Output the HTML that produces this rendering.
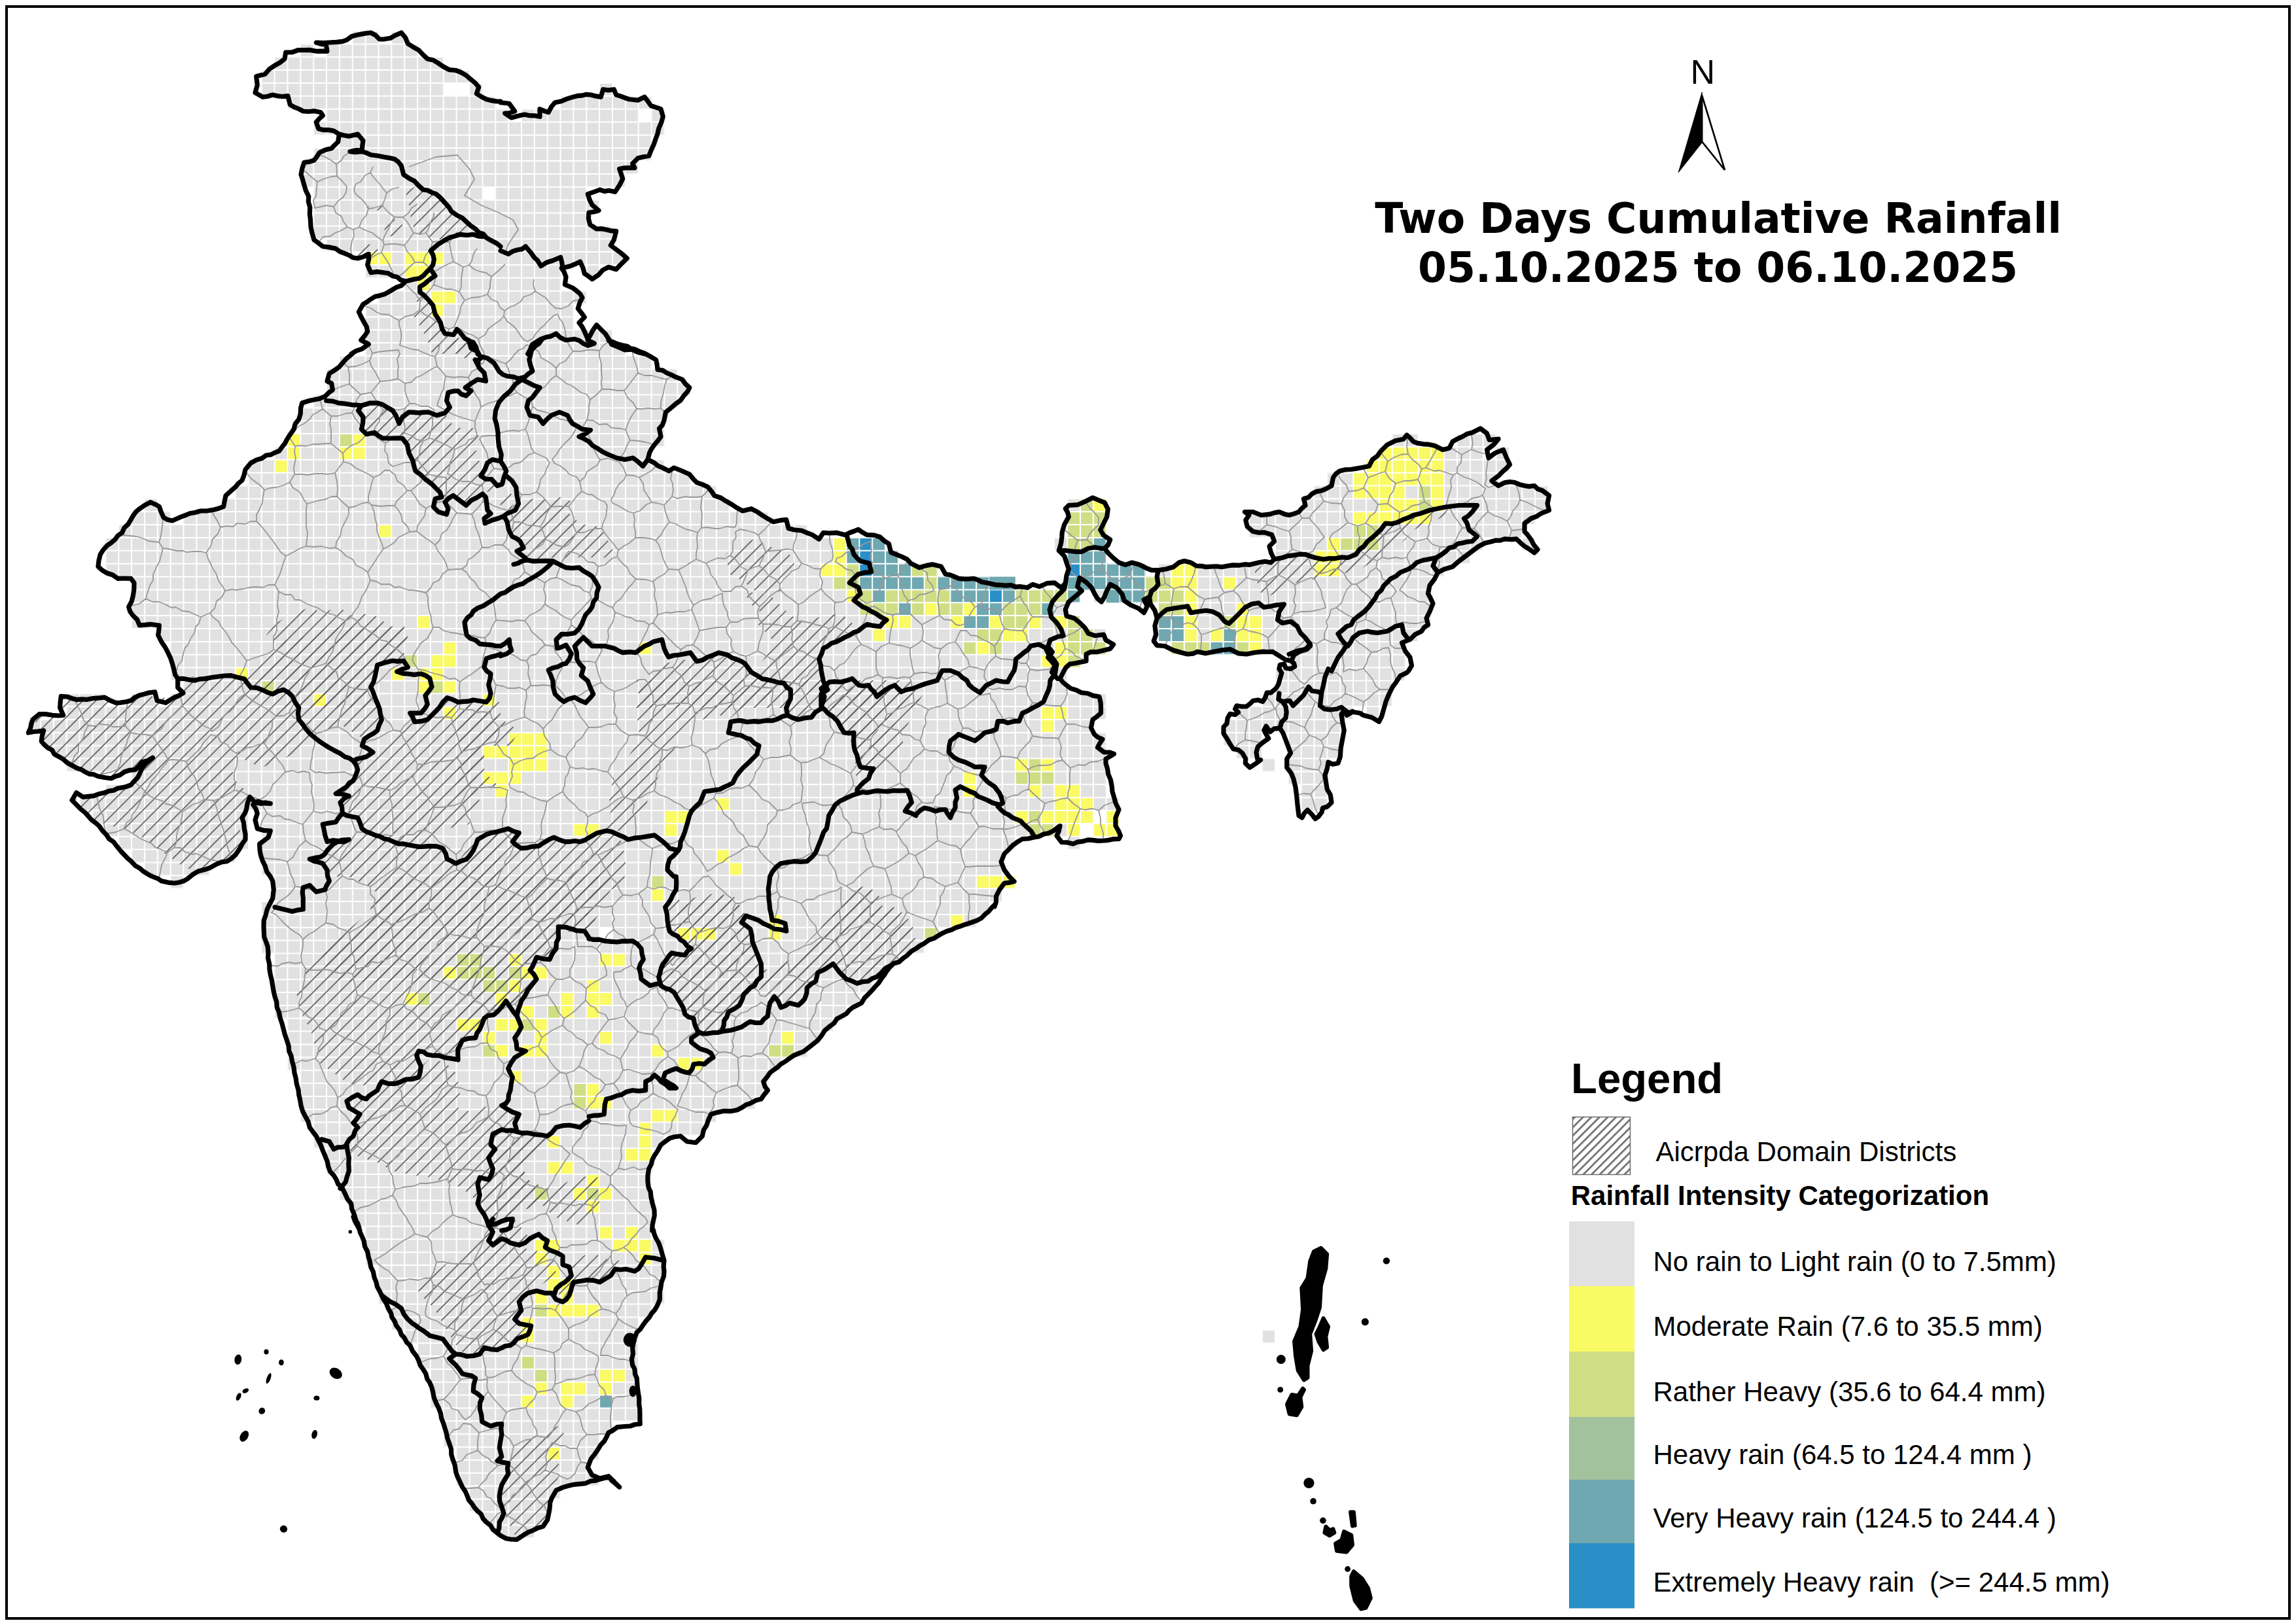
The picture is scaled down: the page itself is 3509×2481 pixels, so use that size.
<!DOCTYPE html>
<html><head><meta charset="utf-8"><title>Two Days Cumulative Rainfall</title>
<style>
html,body{margin:0;padding:0;background:#fff;}
body{width:3509px;height:2481px;overflow:hidden;position:relative;}
svg{position:absolute;left:0;top:0;display:block;}
.t{font-family:"DejaVu Sans","Liberation Sans",sans-serif;font-weight:bold;font-size:63.2px;fill:#000;}
.a{font-family:"Liberation Sans",sans-serif;fill:#000;}
</style></head><body>
<svg width="3509" height="2481" viewBox="0 0 3509 2481">
<rect x="10" y="10" width="3489" height="2464" fill="#fff" stroke="#000" stroke-width="4"/>
<defs>
<pattern id="gr" x="201.100" y="722.700" width="19.862" height="19.858" patternUnits="userSpaceOnUse"><rect x="1" y="1" width="17.862" height="17.858" fill="#e1e1e1"/></pattern>
<pattern id="hm" width="14.1" height="14.1" patternUnits="userSpaceOnUse" patternTransform="rotate(-45)"><rect x="0" y="0" width="14.1" height="1.7" fill="#5e5e5e"/></pattern>
</defs>
<path d="M499.0 67.4 L499.0 87.2 L479.2 87.2 L479.2 67.4 L459.3 67.4 L459.3 87.2 L419.6 87.2 L419.6 107.1 L399.7 107.1 L399.7 127.0 L399.7 146.8 L439.4 146.8 L439.4 166.7 L499.0 166.7 L499.0 186.5 L479.2 186.5 L479.2 206.4 L518.9 206.4 L518.9 226.3 L479.2 226.3 L479.2 246.1 L459.3 246.1 L459.3 266.0 L459.3 285.8 L479.2 285.8 L479.2 305.7 L479.2 325.5 L479.2 345.4 L479.2 365.3 L499.0 365.3 L499.0 385.1 L558.6 385.1 L558.6 405.0 L558.6 424.8 L618.2 424.8 L618.2 444.7 L578.5 444.7 L578.5 464.5 L558.6 464.5 L558.6 484.4 L558.6 504.3 L558.6 524.1 L558.6 544.0 L518.9 544.0 L518.9 563.8 L499.0 563.8 L499.0 583.7 L499.0 603.6 L479.2 603.6 L479.2 623.4 L459.3 623.4 L459.3 643.3 L459.3 663.1 L439.4 663.1 L439.4 683.0 L419.6 683.0 L419.6 702.8 L379.9 702.8 L379.9 722.7 L379.9 742.6 L360.0 742.6 L360.0 762.4 L340.1 762.4 L340.1 782.3 L280.5 782.3 L280.5 802.1 L260.7 802.1 L260.7 782.3 L240.8 782.3 L240.8 762.4 L221.0 762.4 L221.0 782.3 L201.1 782.3 L201.1 802.1 L181.2 802.1 L181.2 822.0 L161.4 822.0 L161.4 841.8 L161.4 861.7 L161.4 881.6 L201.1 881.6 L201.1 901.4 L201.1 921.3 L201.1 941.1 L201.1 961.0 L240.8 961.0 L240.8 980.9 L260.7 980.9 L260.7 1000.7 L260.7 1020.6 L260.7 1040.4 L280.5 1040.4 L280.5 1060.3 L260.7 1060.3 L260.7 1080.1 L240.8 1080.1 L240.8 1060.3 L201.1 1060.3 L201.1 1080.1 L161.4 1080.1 L161.4 1060.3 L101.8 1060.3 L101.8 1080.1 L101.8 1100.0 L42.2 1100.0 L42.2 1119.9 L62.1 1119.9 L62.1 1139.7 L81.9 1139.7 L81.9 1159.6 L101.8 1159.6 L101.8 1179.4 L201.1 1179.4 L201.1 1199.3 L161.4 1199.3 L161.4 1219.2 L121.7 1219.2 L121.7 1239.0 L141.5 1239.0 L141.5 1258.9 L161.4 1258.9 L161.4 1278.7 L181.2 1278.7 L181.2 1298.6 L201.1 1298.6 L201.1 1318.4 L221.0 1318.4 L221.0 1338.3 L260.7 1338.3 L260.7 1358.2 L280.5 1358.2 L280.5 1338.3 L320.3 1338.3 L320.3 1318.4 L360.0 1318.4 L360.0 1298.6 L379.9 1298.6 L379.9 1278.7 L379.9 1258.9 L379.9 1239.0 L399.7 1239.0 L399.7 1258.9 L399.7 1278.7 L399.7 1298.6 L399.7 1318.4 L399.7 1338.3 L419.6 1338.3 L419.6 1358.2 L419.6 1378.0 L399.7 1378.0 L399.7 1397.9 L399.7 1417.7 L399.7 1437.6 L399.7 1457.4 L419.6 1457.4 L419.6 1477.3 L419.6 1497.2 L419.6 1517.0 L419.6 1536.9 L419.6 1556.7 L439.4 1556.7 L439.4 1576.6 L439.4 1596.5 L439.4 1616.3 L439.4 1636.2 L459.3 1636.2 L459.3 1656.0 L459.3 1675.9 L459.3 1695.7 L459.3 1715.6 L479.2 1715.6 L479.2 1735.5 L479.2 1755.3 L499.0 1755.3 L499.0 1775.2 L499.0 1795.0 L518.9 1795.0 L518.9 1814.9 L518.9 1834.7 L538.8 1834.7 L538.8 1854.6 L538.8 1874.5 L558.6 1874.5 L558.6 1894.3 L558.6 1914.2 L558.6 1934.0 L578.5 1934.0 L578.5 1953.9 L578.5 1973.8 L578.5 1993.6 L598.3 1993.6 L598.3 2013.5 L598.3 2033.3 L618.2 2033.3 L618.2 2053.2 L638.1 2053.2 L638.1 2073.0 L638.1 2092.9 L657.9 2092.9 L657.9 2112.8 L657.9 2132.6 L657.9 2152.5 L677.8 2152.5 L677.8 2172.3 L677.8 2192.2 L677.8 2212.1 L697.6 2212.1 L697.6 2231.9 L697.6 2251.8 L697.6 2271.6 L717.5 2271.6 L717.5 2291.5 L717.5 2311.3 L737.4 2311.3 L737.4 2331.2 L757.2 2331.2 L757.2 2351.1 L816.8 2351.1 L816.8 2331.2 L836.7 2331.2 L836.7 2311.3 L836.7 2291.5 L856.5 2291.5 L856.5 2271.6 L916.1 2271.6 L916.1 2251.8 L896.3 2251.8 L896.3 2231.9 L916.1 2231.9 L916.1 2212.1 L916.1 2192.2 L936.0 2192.2 L936.0 2172.3 L975.7 2172.3 L975.7 2152.5 L975.7 2132.6 L975.7 2112.8 L975.7 2092.9 L975.7 2073.0 L975.7 2053.2 L975.7 2033.3 L975.7 2013.5 L995.6 2013.5 L995.6 1993.6 L1015.4 1993.6 L1015.4 1973.8 L1015.4 1953.9 L1015.4 1934.0 L1015.4 1914.2 L1015.4 1894.3 L995.6 1894.3 L995.6 1874.5 L995.6 1854.6 L995.6 1834.7 L995.6 1814.9 L995.6 1795.0 L995.6 1775.2 L995.6 1755.3 L1015.4 1755.3 L1015.4 1735.5 L1075.0 1735.5 L1075.0 1715.6 L1094.9 1715.6 L1094.9 1695.7 L1154.5 1695.7 L1154.5 1675.9 L1174.3 1675.9 L1174.3 1656.0 L1174.3 1636.2 L1194.2 1636.2 L1194.2 1616.3 L1233.9 1616.3 L1233.9 1596.5 L1253.8 1596.5 L1253.8 1576.6 L1273.6 1576.6 L1273.6 1556.7 L1293.5 1556.7 L1293.5 1536.9 L1313.4 1536.9 L1313.4 1517.0 L1333.2 1517.0 L1333.2 1497.2 L1353.1 1497.2 L1353.1 1477.3 L1373.0 1477.3 L1373.0 1457.4 L1412.7 1457.4 L1412.7 1437.6 L1432.5 1437.6 L1432.5 1417.7 L1492.1 1417.7 L1492.1 1397.9 L1512.0 1397.9 L1512.0 1378.0 L1531.9 1378.0 L1531.9 1358.2 L1551.7 1358.2 L1551.7 1338.3 L1531.9 1338.3 L1531.9 1318.4 L1531.9 1298.6 L1551.7 1298.6 L1551.7 1278.7 L1631.2 1278.7 L1631.2 1298.6 L1651.0 1298.6 L1651.0 1278.7 L1651.0 1258.9 L1670.9 1258.9 L1670.9 1278.7 L1710.6 1278.7 L1710.6 1258.9 L1710.6 1239.0 L1710.6 1219.2 L1690.7 1219.2 L1690.7 1199.3 L1690.7 1179.4 L1690.7 1159.6 L1690.7 1139.7 L1690.7 1119.9 L1670.9 1119.9 L1670.9 1100.0 L1690.7 1100.0 L1690.7 1080.1 L1690.7 1060.3 L1631.2 1060.3 L1631.2 1040.4 L1631.2 1020.6 L1651.0 1020.6 L1651.0 1000.7 L1690.7 1000.7 L1690.7 980.9 L1690.7 961.0 L1651.0 961.0 L1651.0 941.1 L1631.2 941.1 L1631.2 921.3 L1651.0 921.3 L1651.0 901.4 L1651.0 881.6 L1670.9 881.6 L1670.9 901.4 L1670.9 921.3 L1690.7 921.3 L1690.7 901.4 L1710.6 901.4 L1710.6 921.3 L1770.2 921.3 L1770.2 941.1 L1770.2 961.0 L1770.2 980.9 L1790.1 980.9 L1790.1 1000.7 L1968.8 1000.7 L1968.8 1020.6 L1949.0 1020.6 L1949.0 1040.4 L1949.0 1060.3 L1929.1 1060.3 L1929.1 1080.1 L1889.4 1080.1 L1889.4 1100.0 L1869.5 1100.0 L1869.5 1119.9 L1869.5 1139.7 L1889.4 1139.7 L1889.4 1159.6 L1929.1 1159.6 L1929.1 1139.7 L1929.1 1119.9 L1968.8 1119.9 L1968.8 1139.7 L1968.8 1159.6 L1968.8 1179.4 L1968.8 1199.3 L1988.7 1199.3 L1988.7 1219.2 L1988.7 1239.0 L2028.4 1239.0 L2028.4 1219.2 L2028.4 1199.3 L2028.4 1179.4 L2028.4 1159.6 L2048.3 1159.6 L2048.3 1139.7 L2048.3 1119.9 L2048.3 1100.0 L2068.1 1100.0 L2068.1 1080.1 L2088.0 1080.1 L2088.0 1100.0 L2107.9 1100.0 L2107.9 1080.1 L2127.7 1080.1 L2127.7 1060.3 L2127.7 1040.4 L2147.6 1040.4 L2147.6 1020.6 L2147.6 1000.7 L2147.6 980.9 L2167.4 980.9 L2167.4 961.0 L2187.3 961.0 L2187.3 941.1 L2187.3 921.3 L2187.3 901.4 L2187.3 881.6 L2207.2 881.6 L2207.2 861.7 L2246.9 861.7 L2246.9 841.8 L2266.7 841.8 L2266.7 822.0 L2326.3 822.0 L2326.3 802.1 L2346.2 802.1 L2346.2 782.3 L2366.1 782.3 L2366.1 762.4 L2366.1 742.6 L2286.6 742.6 L2286.6 722.7 L2306.5 722.7 L2306.5 702.8 L2306.5 683.0 L2286.6 683.0 L2286.6 663.1 L2227.0 663.1 L2227.0 683.0 L2167.4 683.0 L2167.4 663.1 L2127.7 663.1 L2127.7 683.0 L2107.9 683.0 L2107.9 702.8 L2088.0 702.8 L2088.0 722.7 L2028.4 722.7 L2028.4 742.6 L2008.5 742.6 L2008.5 762.4 L1988.7 762.4 L1988.7 782.3 L1909.2 782.3 L1909.2 802.1 L1909.2 822.0 L1949.0 822.0 L1949.0 841.8 L1949.0 861.7 L1770.2 861.7 L1770.2 881.6 L1750.3 881.6 L1750.3 861.7 L1690.7 861.7 L1690.7 841.8 L1690.7 822.0 L1690.7 802.1 L1690.7 782.3 L1690.7 762.4 L1631.2 762.4 L1631.2 782.3 L1631.2 802.1 L1631.2 822.0 L1611.3 822.0 L1611.3 841.8 L1631.2 841.8 L1631.2 861.7 L1631.2 881.6 L1631.2 901.4 L1512.0 901.4 L1512.0 881.6 L1432.5 881.6 L1432.5 861.7 L1373.0 861.7 L1373.0 841.8 L1353.1 841.8 L1353.1 822.0 L1233.9 822.0 L1233.9 802.1 L1174.3 802.1 L1174.3 782.3 L1114.8 782.3 L1114.8 762.4 L1094.9 762.4 L1094.9 742.6 L1055.2 742.6 L1055.2 722.7 L1015.4 722.7 L1015.4 702.8 L995.6 702.8 L995.6 683.0 L1015.4 683.0 L1015.4 663.1 L1015.4 643.3 L1015.4 623.4 L1035.3 623.4 L1035.3 603.6 L1055.2 603.6 L1055.2 583.7 L1035.3 583.7 L1035.3 563.8 L995.6 563.8 L995.6 544.0 L955.9 544.0 L955.9 524.1 L936.0 524.1 L936.0 504.3 L876.4 504.3 L876.4 484.4 L876.4 464.5 L896.3 464.5 L896.3 444.7 L856.5 444.7 L856.5 424.8 L856.5 405.0 L896.3 405.0 L896.3 424.8 L916.1 424.8 L916.1 405.0 L955.9 405.0 L955.9 385.1 L936.0 385.1 L936.0 365.3 L936.0 345.4 L896.3 345.4 L896.3 325.5 L916.1 325.5 L916.1 305.7 L896.3 305.7 L896.3 285.8 L955.9 285.8 L955.9 266.0 L975.7 266.0 L975.7 246.1 L995.6 246.1 L995.6 226.3 L995.6 206.4 L1015.4 206.4 L1015.4 186.5 L1015.4 166.7 L995.6 166.7 L995.6 146.8 L936.0 146.8 L936.0 127.0 L916.1 127.0 L916.1 146.8 L856.5 146.8 L856.5 166.7 L797.0 166.7 L797.0 186.5 L777.1 186.5 L777.1 166.7 L757.2 166.7 L757.2 146.8 L737.4 146.8 L737.4 127.0 L717.5 127.0 L717.5 107.1 L677.8 107.1 L677.8 87.2 L638.1 87.2 L638.1 67.4 L618.2 67.4 L618.2 47.5 L598.3 47.5 L598.3 67.4 L578.5 67.4 L578.5 47.5 L538.8 47.5 L538.8 67.4ZM1670.9 1239.0 L1690.7 1239.0 L1690.7 1258.9 L1670.9 1258.9ZM2286.6 702.8 L2266.7 702.8 L2266.7 683.0 L2286.6 683.0ZM995.6 186.5 L975.7 186.5 L975.7 166.7 L995.6 166.7ZM717.5 146.8 L677.8 146.8 L677.8 127.0 L717.5 127.0ZM737.4 285.8 L757.2 285.8 L757.2 305.7 L737.4 305.7ZM916.1 1437.6 L916.1 1417.7 L936.0 1417.7 L936.0 1437.6ZM2346.2 841.8 L2346.2 822.0 L2326.3 822.0 L2326.3 841.8ZM1949.0 1179.4 L1949.0 1159.6 L1929.1 1159.6 L1929.1 1179.4ZM1949.0 2033.3 L1929.1 2033.3 L1929.1 2053.2 L1949.0 2053.2Z" fill="#e1e1e1" fill-rule="evenodd"/>
<rect x="360.0" y="1020.6" width="19.9" height="19.9" fill="#fafa64"/>
<rect x="399.7" y="1040.4" width="19.9" height="19.9" fill="#cfde85"/>
<rect x="419.6" y="702.8" width="19.9" height="19.9" fill="#fafa64"/>
<rect x="439.4" y="663.1" width="19.9" height="19.9" fill="#fafa64"/>
<rect x="439.4" y="683.0" width="19.9" height="19.9" fill="#fafa64"/>
<rect x="479.2" y="1060.3" width="19.9" height="19.9" fill="#fafa64"/>
<rect x="518.9" y="663.1" width="19.9" height="19.9" fill="#cfde85"/>
<rect x="518.9" y="683.0" width="19.9" height="19.9" fill="#fafa64"/>
<rect x="538.8" y="663.1" width="19.9" height="19.9" fill="#fafa64"/>
<rect x="538.8" y="683.0" width="19.9" height="19.9" fill="#fafa64"/>
<rect x="558.6" y="385.1" width="19.9" height="19.9" fill="#fafa64"/>
<rect x="578.5" y="385.1" width="19.9" height="19.9" fill="#fafa64"/>
<rect x="578.5" y="802.1" width="19.9" height="19.9" fill="#fafa64"/>
<rect x="598.3" y="1020.6" width="19.9" height="19.9" fill="#fafa64"/>
<rect x="618.2" y="385.1" width="19.9" height="19.9" fill="#fafa64"/>
<rect x="618.2" y="405.0" width="19.9" height="19.9" fill="#fafa64"/>
<rect x="618.2" y="1000.7" width="19.9" height="19.9" fill="#cfde85"/>
<rect x="618.2" y="1517.0" width="19.9" height="19.9" fill="#fafa64"/>
<rect x="638.1" y="385.1" width="19.9" height="19.9" fill="#fafa64"/>
<rect x="638.1" y="405.0" width="19.9" height="19.9" fill="#fafa64"/>
<rect x="638.1" y="424.8" width="19.9" height="19.9" fill="#fafa64"/>
<rect x="638.1" y="941.1" width="19.9" height="19.9" fill="#fafa64"/>
<rect x="638.1" y="1020.6" width="19.9" height="19.9" fill="#fafa64"/>
<rect x="638.1" y="1040.4" width="19.9" height="19.9" fill="#fafa64"/>
<rect x="638.1" y="1517.0" width="19.9" height="19.9" fill="#cfde85"/>
<rect x="657.9" y="385.1" width="19.9" height="19.9" fill="#fafa64"/>
<rect x="657.9" y="444.7" width="19.9" height="19.9" fill="#fafa64"/>
<rect x="657.9" y="464.5" width="19.9" height="19.9" fill="#fafa64"/>
<rect x="657.9" y="1000.7" width="19.9" height="19.9" fill="#fafa64"/>
<rect x="657.9" y="1020.6" width="19.9" height="19.9" fill="#fafa64"/>
<rect x="657.9" y="1040.4" width="19.9" height="19.9" fill="#cfde85"/>
<rect x="677.8" y="444.7" width="19.9" height="19.9" fill="#fafa64"/>
<rect x="677.8" y="980.9" width="19.9" height="19.9" fill="#fafa64"/>
<rect x="677.8" y="1000.7" width="19.9" height="19.9" fill="#fafa64"/>
<rect x="677.8" y="1040.4" width="19.9" height="19.9" fill="#fafa64"/>
<rect x="677.8" y="1080.1" width="19.9" height="19.9" fill="#fafa64"/>
<rect x="677.8" y="1477.3" width="19.9" height="19.9" fill="#fafa64"/>
<rect x="697.6" y="1457.4" width="19.9" height="19.9" fill="#cfde85"/>
<rect x="697.6" y="1477.3" width="19.9" height="19.9" fill="#cfde85"/>
<rect x="697.6" y="1556.7" width="19.9" height="19.9" fill="#fafa64"/>
<rect x="717.5" y="1457.4" width="19.9" height="19.9" fill="#cfde85"/>
<rect x="717.5" y="1477.3" width="19.9" height="19.9" fill="#cfde85"/>
<rect x="717.5" y="1556.7" width="19.9" height="19.9" fill="#fafa64"/>
<rect x="737.4" y="1060.3" width="19.9" height="19.9" fill="#fafa64"/>
<rect x="737.4" y="1139.7" width="19.9" height="19.9" fill="#fafa64"/>
<rect x="737.4" y="1179.4" width="19.9" height="19.9" fill="#fafa64"/>
<rect x="737.4" y="1477.3" width="19.9" height="19.9" fill="#cfde85"/>
<rect x="737.4" y="1497.2" width="19.9" height="19.9" fill="#cfde85"/>
<rect x="737.4" y="1576.6" width="19.9" height="19.9" fill="#fafa64"/>
<rect x="737.4" y="1596.5" width="19.9" height="19.9" fill="#cfde85"/>
<rect x="757.2" y="1139.7" width="19.9" height="19.9" fill="#fafa64"/>
<rect x="757.2" y="1179.4" width="19.9" height="19.9" fill="#fafa64"/>
<rect x="757.2" y="1199.3" width="19.9" height="19.9" fill="#fafa64"/>
<rect x="757.2" y="1497.2" width="19.9" height="19.9" fill="#cfde85"/>
<rect x="757.2" y="1517.0" width="19.9" height="19.9" fill="#fafa64"/>
<rect x="757.2" y="1556.7" width="19.9" height="19.9" fill="#fafa64"/>
<rect x="757.2" y="1596.5" width="19.9" height="19.9" fill="#fafa64"/>
<rect x="777.1" y="1119.9" width="19.9" height="19.9" fill="#fafa64"/>
<rect x="777.1" y="1139.7" width="19.9" height="19.9" fill="#fafa64"/>
<rect x="777.1" y="1159.6" width="19.9" height="19.9" fill="#fafa64"/>
<rect x="777.1" y="1179.4" width="19.9" height="19.9" fill="#fafa64"/>
<rect x="777.1" y="1457.4" width="19.9" height="19.9" fill="#fafa64"/>
<rect x="777.1" y="1477.3" width="19.9" height="19.9" fill="#cfde85"/>
<rect x="777.1" y="1497.2" width="19.9" height="19.9" fill="#fafa64"/>
<rect x="777.1" y="1556.7" width="19.9" height="19.9" fill="#fafa64"/>
<rect x="777.1" y="1636.2" width="19.9" height="19.9" fill="#fafa64"/>
<rect x="797.0" y="1119.9" width="19.9" height="19.9" fill="#fafa64"/>
<rect x="797.0" y="1139.7" width="19.9" height="19.9" fill="#fafa64"/>
<rect x="797.0" y="1159.6" width="19.9" height="19.9" fill="#fafa64"/>
<rect x="797.0" y="1477.3" width="19.9" height="19.9" fill="#fafa64"/>
<rect x="797.0" y="1536.9" width="19.9" height="19.9" fill="#fafa64"/>
<rect x="797.0" y="1556.7" width="19.9" height="19.9" fill="#cfde85"/>
<rect x="797.0" y="1596.5" width="19.9" height="19.9" fill="#fafa64"/>
<rect x="797.0" y="2013.5" width="19.9" height="19.9" fill="#fafa64"/>
<rect x="797.0" y="2033.3" width="19.9" height="19.9" fill="#fafa64"/>
<rect x="797.0" y="2073.0" width="19.9" height="19.9" fill="#cfde85"/>
<rect x="797.0" y="2132.6" width="19.9" height="19.9" fill="#fafa64"/>
<rect x="816.8" y="1119.9" width="19.9" height="19.9" fill="#fafa64"/>
<rect x="816.8" y="1139.7" width="19.9" height="19.9" fill="#fafa64"/>
<rect x="816.8" y="1159.6" width="19.9" height="19.9" fill="#fafa64"/>
<rect x="816.8" y="1477.3" width="19.9" height="19.9" fill="#fafa64"/>
<rect x="816.8" y="1556.7" width="19.9" height="19.9" fill="#fafa64"/>
<rect x="816.8" y="1576.6" width="19.9" height="19.9" fill="#fafa64"/>
<rect x="816.8" y="1596.5" width="19.9" height="19.9" fill="#fafa64"/>
<rect x="816.8" y="1814.9" width="19.9" height="19.9" fill="#cfde85"/>
<rect x="816.8" y="1894.3" width="19.9" height="19.9" fill="#fafa64"/>
<rect x="816.8" y="1914.2" width="19.9" height="19.9" fill="#fafa64"/>
<rect x="816.8" y="1973.8" width="19.9" height="19.9" fill="#fafa64"/>
<rect x="816.8" y="1993.6" width="19.9" height="19.9" fill="#cfde85"/>
<rect x="816.8" y="2092.9" width="19.9" height="19.9" fill="#cfde85"/>
<rect x="816.8" y="2112.8" width="19.9" height="19.9" fill="#fafa64"/>
<rect x="836.7" y="1536.9" width="19.9" height="19.9" fill="#cfde85"/>
<rect x="836.7" y="1735.5" width="19.9" height="19.9" fill="#fafa64"/>
<rect x="836.7" y="1775.2" width="19.9" height="19.9" fill="#fafa64"/>
<rect x="836.7" y="1894.3" width="19.9" height="19.9" fill="#fafa64"/>
<rect x="836.7" y="1934.0" width="19.9" height="19.9" fill="#fafa64"/>
<rect x="836.7" y="1953.9" width="19.9" height="19.9" fill="#fafa64"/>
<rect x="836.7" y="1993.6" width="19.9" height="19.9" fill="#fafa64"/>
<rect x="836.7" y="2212.1" width="19.9" height="19.9" fill="#fafa64"/>
<rect x="856.5" y="1517.0" width="19.9" height="19.9" fill="#fafa64"/>
<rect x="856.5" y="1536.9" width="19.9" height="19.9" fill="#fafa64"/>
<rect x="856.5" y="1775.2" width="19.9" height="19.9" fill="#fafa64"/>
<rect x="856.5" y="1953.9" width="19.9" height="19.9" fill="#fafa64"/>
<rect x="856.5" y="1973.8" width="19.9" height="19.9" fill="#fafa64"/>
<rect x="856.5" y="1993.6" width="19.9" height="19.9" fill="#fafa64"/>
<rect x="856.5" y="2112.8" width="19.9" height="19.9" fill="#fafa64"/>
<rect x="856.5" y="2132.6" width="19.9" height="19.9" fill="#fafa64"/>
<rect x="876.4" y="1258.9" width="19.9" height="19.9" fill="#fafa64"/>
<rect x="876.4" y="1656.0" width="19.9" height="19.9" fill="#cfde85"/>
<rect x="876.4" y="1675.9" width="19.9" height="19.9" fill="#cfde85"/>
<rect x="876.4" y="1814.9" width="19.9" height="19.9" fill="#fafa64"/>
<rect x="876.4" y="1993.6" width="19.9" height="19.9" fill="#fafa64"/>
<rect x="876.4" y="2112.8" width="19.9" height="19.9" fill="#fafa64"/>
<rect x="896.3" y="1258.9" width="19.9" height="19.9" fill="#fafa64"/>
<rect x="896.3" y="1497.2" width="19.9" height="19.9" fill="#fafa64"/>
<rect x="896.3" y="1517.0" width="19.9" height="19.9" fill="#fafa64"/>
<rect x="896.3" y="1536.9" width="19.9" height="19.9" fill="#fafa64"/>
<rect x="896.3" y="1656.0" width="19.9" height="19.9" fill="#fafa64"/>
<rect x="896.3" y="1675.9" width="19.9" height="19.9" fill="#fafa64"/>
<rect x="896.3" y="1795.0" width="19.9" height="19.9" fill="#fafa64"/>
<rect x="896.3" y="1814.9" width="19.9" height="19.9" fill="#cfde85"/>
<rect x="896.3" y="1834.7" width="19.9" height="19.9" fill="#fafa64"/>
<rect x="896.3" y="1993.6" width="19.9" height="19.9" fill="#fafa64"/>
<rect x="916.1" y="1457.4" width="19.9" height="19.9" fill="#fafa64"/>
<rect x="916.1" y="1517.0" width="19.9" height="19.9" fill="#fafa64"/>
<rect x="916.1" y="1576.6" width="19.9" height="19.9" fill="#fafa64"/>
<rect x="916.1" y="1675.9" width="19.9" height="19.9" fill="#fafa64"/>
<rect x="916.1" y="1814.9" width="19.9" height="19.9" fill="#fafa64"/>
<rect x="916.1" y="1874.5" width="19.9" height="19.9" fill="#fafa64"/>
<rect x="916.1" y="2092.9" width="19.9" height="19.9" fill="#fafa64"/>
<rect x="916.1" y="2112.8" width="19.9" height="19.9" fill="#fafa64"/>
<rect x="916.1" y="2132.6" width="19.9" height="19.9" fill="#6fa8b0"/>
<rect x="936.0" y="1457.4" width="19.9" height="19.9" fill="#fafa64"/>
<rect x="936.0" y="1894.3" width="19.9" height="19.9" fill="#fafa64"/>
<rect x="936.0" y="2092.9" width="19.9" height="19.9" fill="#fafa64"/>
<rect x="955.9" y="1755.3" width="19.9" height="19.9" fill="#fafa64"/>
<rect x="955.9" y="1874.5" width="19.9" height="19.9" fill="#fafa64"/>
<rect x="955.9" y="1894.3" width="19.9" height="19.9" fill="#fafa64"/>
<rect x="975.7" y="980.9" width="19.9" height="19.9" fill="#fafa64"/>
<rect x="975.7" y="1715.6" width="19.9" height="19.9" fill="#fafa64"/>
<rect x="975.7" y="1735.5" width="19.9" height="19.9" fill="#fafa64"/>
<rect x="975.7" y="1755.3" width="19.9" height="19.9" fill="#fafa64"/>
<rect x="975.7" y="1894.3" width="19.9" height="19.9" fill="#fafa64"/>
<rect x="975.7" y="1914.2" width="19.9" height="19.9" fill="#fafa64"/>
<rect x="995.6" y="1338.3" width="19.9" height="19.9" fill="#cfde85"/>
<rect x="995.6" y="1358.2" width="19.9" height="19.9" fill="#fafa64"/>
<rect x="995.6" y="1596.5" width="19.9" height="19.9" fill="#fafa64"/>
<rect x="995.6" y="1695.7" width="19.9" height="19.9" fill="#fafa64"/>
<rect x="1015.4" y="1239.0" width="19.9" height="19.9" fill="#fafa64"/>
<rect x="1015.4" y="1258.9" width="19.9" height="19.9" fill="#fafa64"/>
<rect x="1015.4" y="1695.7" width="19.9" height="19.9" fill="#fafa64"/>
<rect x="1035.3" y="1239.0" width="19.9" height="19.9" fill="#fafa64"/>
<rect x="1035.3" y="1417.7" width="19.9" height="19.9" fill="#fafa64"/>
<rect x="1035.3" y="1616.3" width="19.9" height="19.9" fill="#fafa64"/>
<rect x="1055.2" y="1417.7" width="19.9" height="19.9" fill="#fafa64"/>
<rect x="1055.2" y="1616.3" width="19.9" height="19.9" fill="#fafa64"/>
<rect x="1075.0" y="1417.7" width="19.9" height="19.9" fill="#fafa64"/>
<rect x="1094.9" y="1219.2" width="19.9" height="19.9" fill="#fafa64"/>
<rect x="1094.9" y="1298.6" width="19.9" height="19.9" fill="#fafa64"/>
<rect x="1114.8" y="1318.4" width="19.9" height="19.9" fill="#fafa64"/>
<rect x="1174.3" y="1397.9" width="19.9" height="19.9" fill="#fafa64"/>
<rect x="1174.3" y="1417.7" width="19.9" height="19.9" fill="#fafa64"/>
<rect x="1174.3" y="1596.5" width="19.9" height="19.9" fill="#cfde85"/>
<rect x="1194.2" y="1576.6" width="19.9" height="19.9" fill="#fafa64"/>
<rect x="1194.2" y="1596.5" width="19.9" height="19.9" fill="#cfde85"/>
<rect x="1253.8" y="861.7" width="19.9" height="19.9" fill="#fafa64"/>
<rect x="1273.6" y="822.0" width="19.9" height="19.9" fill="#fafa64"/>
<rect x="1273.6" y="841.8" width="19.9" height="19.9" fill="#fafa64"/>
<rect x="1273.6" y="861.7" width="19.9" height="19.9" fill="#fafa64"/>
<rect x="1273.6" y="881.6" width="19.9" height="19.9" fill="#cfde85"/>
<rect x="1293.5" y="822.0" width="19.9" height="19.9" fill="#6fa8b0"/>
<rect x="1293.5" y="841.8" width="19.9" height="19.9" fill="#6fa8b0"/>
<rect x="1293.5" y="861.7" width="19.9" height="19.9" fill="#cfde85"/>
<rect x="1293.5" y="881.6" width="19.9" height="19.9" fill="#cfde85"/>
<rect x="1293.5" y="901.4" width="19.9" height="19.9" fill="#fafa64"/>
<rect x="1313.4" y="822.0" width="19.9" height="19.9" fill="#2a8fc7"/>
<rect x="1313.4" y="841.8" width="19.9" height="19.9" fill="#2a8fc7"/>
<rect x="1313.4" y="861.7" width="19.9" height="19.9" fill="#2a8fc7"/>
<rect x="1313.4" y="881.6" width="19.9" height="19.9" fill="#6fa8b0"/>
<rect x="1313.4" y="901.4" width="19.9" height="19.9" fill="#cfde85"/>
<rect x="1313.4" y="921.3" width="19.9" height="19.9" fill="#cfde85"/>
<rect x="1333.2" y="822.0" width="19.9" height="19.9" fill="#6fa8b0"/>
<rect x="1333.2" y="841.8" width="19.9" height="19.9" fill="#6fa8b0"/>
<rect x="1333.2" y="861.7" width="19.9" height="19.9" fill="#6fa8b0"/>
<rect x="1333.2" y="881.6" width="19.9" height="19.9" fill="#6fa8b0"/>
<rect x="1333.2" y="901.4" width="19.9" height="19.9" fill="#6fa8b0"/>
<rect x="1333.2" y="921.3" width="19.9" height="19.9" fill="#cfde85"/>
<rect x="1333.2" y="961.0" width="19.9" height="19.9" fill="#fafa64"/>
<rect x="1353.1" y="841.8" width="19.9" height="19.9" fill="#6fa8b0"/>
<rect x="1353.1" y="861.7" width="19.9" height="19.9" fill="#6fa8b0"/>
<rect x="1353.1" y="881.6" width="19.9" height="19.9" fill="#6fa8b0"/>
<rect x="1353.1" y="901.4" width="19.9" height="19.9" fill="#cfde85"/>
<rect x="1353.1" y="921.3" width="19.9" height="19.9" fill="#cfde85"/>
<rect x="1353.1" y="941.1" width="19.9" height="19.9" fill="#fafa64"/>
<rect x="1373.0" y="861.7" width="19.9" height="19.9" fill="#6fa8b0"/>
<rect x="1373.0" y="881.6" width="19.9" height="19.9" fill="#6fa8b0"/>
<rect x="1373.0" y="901.4" width="19.9" height="19.9" fill="#cfde85"/>
<rect x="1373.0" y="921.3" width="19.9" height="19.9" fill="#6fa8b0"/>
<rect x="1373.0" y="941.1" width="19.9" height="19.9" fill="#fafa64"/>
<rect x="1392.8" y="861.7" width="19.9" height="19.9" fill="#cfde85"/>
<rect x="1392.8" y="881.6" width="19.9" height="19.9" fill="#6fa8b0"/>
<rect x="1392.8" y="901.4" width="19.9" height="19.9" fill="#cfde85"/>
<rect x="1392.8" y="921.3" width="19.9" height="19.9" fill="#cfde85"/>
<rect x="1412.7" y="861.7" width="19.9" height="19.9" fill="#cfde85"/>
<rect x="1412.7" y="881.6" width="19.9" height="19.9" fill="#cfde85"/>
<rect x="1412.7" y="901.4" width="19.9" height="19.9" fill="#cfde85"/>
<rect x="1412.7" y="921.3" width="19.9" height="19.9" fill="#fafa64"/>
<rect x="1412.7" y="1417.7" width="19.9" height="19.9" fill="#cfde85"/>
<rect x="1432.5" y="881.6" width="19.9" height="19.9" fill="#6fa8b0"/>
<rect x="1432.5" y="901.4" width="19.9" height="19.9" fill="#cfde85"/>
<rect x="1432.5" y="921.3" width="19.9" height="19.9" fill="#cfde85"/>
<rect x="1452.4" y="881.6" width="19.9" height="19.9" fill="#6fa8b0"/>
<rect x="1452.4" y="901.4" width="19.9" height="19.9" fill="#6fa8b0"/>
<rect x="1452.4" y="921.3" width="19.9" height="19.9" fill="#cfde85"/>
<rect x="1452.4" y="941.1" width="19.9" height="19.9" fill="#fafa64"/>
<rect x="1452.4" y="1397.9" width="19.9" height="19.9" fill="#fafa64"/>
<rect x="1472.3" y="881.6" width="19.9" height="19.9" fill="#6fa8b0"/>
<rect x="1472.3" y="901.4" width="19.9" height="19.9" fill="#6fa8b0"/>
<rect x="1472.3" y="921.3" width="19.9" height="19.9" fill="#fafa64"/>
<rect x="1472.3" y="941.1" width="19.9" height="19.9" fill="#6fa8b0"/>
<rect x="1472.3" y="980.9" width="19.9" height="19.9" fill="#cfde85"/>
<rect x="1472.3" y="1179.4" width="19.9" height="19.9" fill="#fafa64"/>
<rect x="1472.3" y="1199.3" width="19.9" height="19.9" fill="#fafa64"/>
<rect x="1492.1" y="881.6" width="19.9" height="19.9" fill="#6fa8b0"/>
<rect x="1492.1" y="901.4" width="19.9" height="19.9" fill="#6fa8b0"/>
<rect x="1492.1" y="921.3" width="19.9" height="19.9" fill="#6fa8b0"/>
<rect x="1492.1" y="941.1" width="19.9" height="19.9" fill="#6fa8b0"/>
<rect x="1492.1" y="961.0" width="19.9" height="19.9" fill="#cfde85"/>
<rect x="1492.1" y="980.9" width="19.9" height="19.9" fill="#fafa64"/>
<rect x="1492.1" y="1338.3" width="19.9" height="19.9" fill="#fafa64"/>
<rect x="1512.0" y="881.6" width="19.9" height="19.9" fill="#6fa8b0"/>
<rect x="1512.0" y="901.4" width="19.9" height="19.9" fill="#2a8fc7"/>
<rect x="1512.0" y="921.3" width="19.9" height="19.9" fill="#6fa8b0"/>
<rect x="1512.0" y="941.1" width="19.9" height="19.9" fill="#fafa64"/>
<rect x="1512.0" y="961.0" width="19.9" height="19.9" fill="#cfde85"/>
<rect x="1512.0" y="980.9" width="19.9" height="19.9" fill="#cfde85"/>
<rect x="1512.0" y="1338.3" width="19.9" height="19.9" fill="#fafa64"/>
<rect x="1531.9" y="881.6" width="19.9" height="19.9" fill="#6fa8b0"/>
<rect x="1531.9" y="901.4" width="19.9" height="19.9" fill="#6fa8b0"/>
<rect x="1531.9" y="921.3" width="19.9" height="19.9" fill="#cfde85"/>
<rect x="1531.9" y="941.1" width="19.9" height="19.9" fill="#cfde85"/>
<rect x="1531.9" y="961.0" width="19.9" height="19.9" fill="#fafa64"/>
<rect x="1531.9" y="1338.3" width="19.9" height="19.9" fill="#fafa64"/>
<rect x="1551.7" y="901.4" width="19.9" height="19.9" fill="#cfde85"/>
<rect x="1551.7" y="921.3" width="19.9" height="19.9" fill="#cfde85"/>
<rect x="1551.7" y="941.1" width="19.9" height="19.9" fill="#cfde85"/>
<rect x="1551.7" y="961.0" width="19.9" height="19.9" fill="#fafa64"/>
<rect x="1551.7" y="1159.6" width="19.9" height="19.9" fill="#fafa64"/>
<rect x="1551.7" y="1179.4" width="19.9" height="19.9" fill="#cfde85"/>
<rect x="1551.7" y="1239.0" width="19.9" height="19.9" fill="#fafa64"/>
<rect x="1571.6" y="901.4" width="19.9" height="19.9" fill="#cfde85"/>
<rect x="1571.6" y="921.3" width="19.9" height="19.9" fill="#cfde85"/>
<rect x="1571.6" y="941.1" width="19.9" height="19.9" fill="#fafa64"/>
<rect x="1571.6" y="1159.6" width="19.9" height="19.9" fill="#cfde85"/>
<rect x="1571.6" y="1179.4" width="19.9" height="19.9" fill="#cfde85"/>
<rect x="1571.6" y="1199.3" width="19.9" height="19.9" fill="#fafa64"/>
<rect x="1571.6" y="1239.0" width="19.9" height="19.9" fill="#cfde85"/>
<rect x="1571.6" y="1258.9" width="19.9" height="19.9" fill="#cfde85"/>
<rect x="1591.4" y="901.4" width="19.9" height="19.9" fill="#cfde85"/>
<rect x="1591.4" y="921.3" width="19.9" height="19.9" fill="#6fa8b0"/>
<rect x="1591.4" y="1000.7" width="19.9" height="19.9" fill="#fafa64"/>
<rect x="1591.4" y="1080.1" width="19.9" height="19.9" fill="#fafa64"/>
<rect x="1591.4" y="1100.0" width="19.9" height="19.9" fill="#fafa64"/>
<rect x="1591.4" y="1159.6" width="19.9" height="19.9" fill="#fafa64"/>
<rect x="1591.4" y="1179.4" width="19.9" height="19.9" fill="#cfde85"/>
<rect x="1591.4" y="1239.0" width="19.9" height="19.9" fill="#fafa64"/>
<rect x="1591.4" y="1258.9" width="19.9" height="19.9" fill="#cfde85"/>
<rect x="1611.3" y="901.4" width="19.9" height="19.9" fill="#cfde85"/>
<rect x="1611.3" y="941.1" width="19.9" height="19.9" fill="#fafa64"/>
<rect x="1611.3" y="980.9" width="19.9" height="19.9" fill="#fafa64"/>
<rect x="1611.3" y="1000.7" width="19.9" height="19.9" fill="#fafa64"/>
<rect x="1611.3" y="1080.1" width="19.9" height="19.9" fill="#fafa64"/>
<rect x="1611.3" y="1199.3" width="19.9" height="19.9" fill="#fafa64"/>
<rect x="1611.3" y="1219.2" width="19.9" height="19.9" fill="#fafa64"/>
<rect x="1611.3" y="1239.0" width="19.9" height="19.9" fill="#fafa64"/>
<rect x="1631.2" y="782.3" width="19.9" height="19.9" fill="#cfde85"/>
<rect x="1631.2" y="802.1" width="19.9" height="19.9" fill="#cfde85"/>
<rect x="1631.2" y="822.0" width="19.9" height="19.9" fill="#cfde85"/>
<rect x="1631.2" y="841.8" width="19.9" height="19.9" fill="#6fa8b0"/>
<rect x="1631.2" y="861.7" width="19.9" height="19.9" fill="#2a8fc7"/>
<rect x="1631.2" y="881.6" width="19.9" height="19.9" fill="#6fa8b0"/>
<rect x="1631.2" y="901.4" width="19.9" height="19.9" fill="#6fa8b0"/>
<rect x="1631.2" y="941.1" width="19.9" height="19.9" fill="#cfde85"/>
<rect x="1631.2" y="961.0" width="19.9" height="19.9" fill="#cfde85"/>
<rect x="1631.2" y="980.9" width="19.9" height="19.9" fill="#cfde85"/>
<rect x="1631.2" y="1000.7" width="19.9" height="19.9" fill="#cfde85"/>
<rect x="1631.2" y="1199.3" width="19.9" height="19.9" fill="#fafa64"/>
<rect x="1631.2" y="1219.2" width="19.9" height="19.9" fill="#fafa64"/>
<rect x="1631.2" y="1239.0" width="19.9" height="19.9" fill="#fafa64"/>
<rect x="1631.2" y="1258.9" width="19.9" height="19.9" fill="#fafa64"/>
<rect x="1651.0" y="762.4" width="19.9" height="19.9" fill="#cfde85"/>
<rect x="1651.0" y="782.3" width="19.9" height="19.9" fill="#cfde85"/>
<rect x="1651.0" y="802.1" width="19.9" height="19.9" fill="#cfde85"/>
<rect x="1651.0" y="822.0" width="19.9" height="19.9" fill="#cfde85"/>
<rect x="1651.0" y="841.8" width="19.9" height="19.9" fill="#6fa8b0"/>
<rect x="1651.0" y="861.7" width="19.9" height="19.9" fill="#6fa8b0"/>
<rect x="1651.0" y="881.6" width="19.9" height="19.9" fill="#6fa8b0"/>
<rect x="1651.0" y="961.0" width="19.9" height="19.9" fill="#cfde85"/>
<rect x="1651.0" y="980.9" width="19.9" height="19.9" fill="#cfde85"/>
<rect x="1651.0" y="1219.2" width="19.9" height="19.9" fill="#fafa64"/>
<rect x="1651.0" y="1239.0" width="19.9" height="19.9" fill="#fafa64"/>
<rect x="1670.9" y="762.4" width="19.9" height="19.9" fill="#fafa64"/>
<rect x="1670.9" y="782.3" width="19.9" height="19.9" fill="#cfde85"/>
<rect x="1670.9" y="802.1" width="19.9" height="19.9" fill="#cfde85"/>
<rect x="1670.9" y="822.0" width="19.9" height="19.9" fill="#6fa8b0"/>
<rect x="1670.9" y="841.8" width="19.9" height="19.9" fill="#6fa8b0"/>
<rect x="1670.9" y="861.7" width="19.9" height="19.9" fill="#6fa8b0"/>
<rect x="1670.9" y="881.6" width="19.9" height="19.9" fill="#6fa8b0"/>
<rect x="1670.9" y="980.9" width="19.9" height="19.9" fill="#cfde85"/>
<rect x="1670.9" y="1258.9" width="19.9" height="19.9" fill="#fafa64"/>
<rect x="1690.7" y="861.7" width="19.9" height="19.9" fill="#6fa8b0"/>
<rect x="1690.7" y="881.6" width="19.9" height="19.9" fill="#6fa8b0"/>
<rect x="1690.7" y="901.4" width="19.9" height="19.9" fill="#6fa8b0"/>
<rect x="1690.7" y="1239.0" width="19.9" height="19.9" fill="#fafa64"/>
<rect x="1690.7" y="1258.9" width="19.9" height="19.9" fill="#fafa64"/>
<rect x="1710.6" y="861.7" width="19.9" height="19.9" fill="#6fa8b0"/>
<rect x="1710.6" y="881.6" width="19.9" height="19.9" fill="#6fa8b0"/>
<rect x="1710.6" y="901.4" width="19.9" height="19.9" fill="#6fa8b0"/>
<rect x="1730.5" y="861.7" width="19.9" height="19.9" fill="#6fa8b0"/>
<rect x="1730.5" y="881.6" width="19.9" height="19.9" fill="#6fa8b0"/>
<rect x="1730.5" y="901.4" width="19.9" height="19.9" fill="#6fa8b0"/>
<rect x="1750.3" y="881.6" width="19.9" height="19.9" fill="#cfde85"/>
<rect x="1750.3" y="901.4" width="19.9" height="19.9" fill="#cfde85"/>
<rect x="1770.2" y="881.6" width="19.9" height="19.9" fill="#cfde85"/>
<rect x="1770.2" y="901.4" width="19.9" height="19.9" fill="#cfde85"/>
<rect x="1770.2" y="921.3" width="19.9" height="19.9" fill="#cfde85"/>
<rect x="1770.2" y="941.1" width="19.9" height="19.9" fill="#6fa8b0"/>
<rect x="1770.2" y="961.0" width="19.9" height="19.9" fill="#6fa8b0"/>
<rect x="1790.1" y="861.7" width="19.9" height="19.9" fill="#fafa64"/>
<rect x="1790.1" y="881.6" width="19.9" height="19.9" fill="#fafa64"/>
<rect x="1790.1" y="901.4" width="19.9" height="19.9" fill="#cfde85"/>
<rect x="1790.1" y="921.3" width="19.9" height="19.9" fill="#cfde85"/>
<rect x="1790.1" y="941.1" width="19.9" height="19.9" fill="#6fa8b0"/>
<rect x="1790.1" y="961.0" width="19.9" height="19.9" fill="#6fa8b0"/>
<rect x="1790.1" y="980.9" width="19.9" height="19.9" fill="#cfde85"/>
<rect x="1809.9" y="861.7" width="19.9" height="19.9" fill="#fafa64"/>
<rect x="1809.9" y="881.6" width="19.9" height="19.9" fill="#fafa64"/>
<rect x="1809.9" y="901.4" width="19.9" height="19.9" fill="#fafa64"/>
<rect x="1809.9" y="921.3" width="19.9" height="19.9" fill="#fafa64"/>
<rect x="1809.9" y="941.1" width="19.9" height="19.9" fill="#fafa64"/>
<rect x="1809.9" y="961.0" width="19.9" height="19.9" fill="#fafa64"/>
<rect x="1809.9" y="980.9" width="19.9" height="19.9" fill="#cfde85"/>
<rect x="1829.8" y="980.9" width="19.9" height="19.9" fill="#cfde85"/>
<rect x="1849.6" y="961.0" width="19.9" height="19.9" fill="#fafa64"/>
<rect x="1849.6" y="980.9" width="19.9" height="19.9" fill="#6fa8b0"/>
<rect x="1869.5" y="881.6" width="19.9" height="19.9" fill="#fafa64"/>
<rect x="1869.5" y="941.1" width="19.9" height="19.9" fill="#cfde85"/>
<rect x="1869.5" y="961.0" width="19.9" height="19.9" fill="#6fa8b0"/>
<rect x="1869.5" y="980.9" width="19.9" height="19.9" fill="#6fa8b0"/>
<rect x="1889.4" y="921.3" width="19.9" height="19.9" fill="#fafa64"/>
<rect x="1889.4" y="941.1" width="19.9" height="19.9" fill="#fafa64"/>
<rect x="1889.4" y="961.0" width="19.9" height="19.9" fill="#fafa64"/>
<rect x="1889.4" y="980.9" width="19.9" height="19.9" fill="#cfde85"/>
<rect x="1909.2" y="941.1" width="19.9" height="19.9" fill="#fafa64"/>
<rect x="1909.2" y="961.0" width="19.9" height="19.9" fill="#fafa64"/>
<rect x="1909.2" y="980.9" width="19.9" height="19.9" fill="#fafa64"/>
<rect x="2008.5" y="841.8" width="19.9" height="19.9" fill="#fafa64"/>
<rect x="2008.5" y="861.7" width="19.9" height="19.9" fill="#fafa64"/>
<rect x="2028.4" y="822.0" width="19.9" height="19.9" fill="#fafa64"/>
<rect x="2028.4" y="841.8" width="19.9" height="19.9" fill="#fafa64"/>
<rect x="2028.4" y="861.7" width="19.9" height="19.9" fill="#fafa64"/>
<rect x="2048.3" y="822.0" width="19.9" height="19.9" fill="#cfde85"/>
<rect x="2068.1" y="722.7" width="19.9" height="19.9" fill="#fafa64"/>
<rect x="2068.1" y="742.6" width="19.9" height="19.9" fill="#fafa64"/>
<rect x="2068.1" y="782.3" width="19.9" height="19.9" fill="#fafa64"/>
<rect x="2068.1" y="802.1" width="19.9" height="19.9" fill="#cfde85"/>
<rect x="2068.1" y="822.0" width="19.9" height="19.9" fill="#cfde85"/>
<rect x="2088.0" y="702.8" width="19.9" height="19.9" fill="#fafa64"/>
<rect x="2088.0" y="722.7" width="19.9" height="19.9" fill="#fafa64"/>
<rect x="2088.0" y="742.6" width="19.9" height="19.9" fill="#fafa64"/>
<rect x="2088.0" y="782.3" width="19.9" height="19.9" fill="#fafa64"/>
<rect x="2088.0" y="802.1" width="19.9" height="19.9" fill="#cfde85"/>
<rect x="2088.0" y="822.0" width="19.9" height="19.9" fill="#cfde85"/>
<rect x="2107.9" y="683.0" width="19.9" height="19.9" fill="#fafa64"/>
<rect x="2107.9" y="702.8" width="19.9" height="19.9" fill="#fafa64"/>
<rect x="2107.9" y="722.7" width="19.9" height="19.9" fill="#fafa64"/>
<rect x="2107.9" y="742.6" width="19.9" height="19.9" fill="#fafa64"/>
<rect x="2107.9" y="762.4" width="19.9" height="19.9" fill="#fafa64"/>
<rect x="2107.9" y="782.3" width="19.9" height="19.9" fill="#fafa64"/>
<rect x="2127.7" y="683.0" width="19.9" height="19.9" fill="#fafa64"/>
<rect x="2127.7" y="702.8" width="19.9" height="19.9" fill="#fafa64"/>
<rect x="2127.7" y="722.7" width="19.9" height="19.9" fill="#fafa64"/>
<rect x="2127.7" y="742.6" width="19.9" height="19.9" fill="#fafa64"/>
<rect x="2127.7" y="762.4" width="19.9" height="19.9" fill="#fafa64"/>
<rect x="2127.7" y="782.3" width="19.9" height="19.9" fill="#fafa64"/>
<rect x="2147.6" y="683.0" width="19.9" height="19.9" fill="#fafa64"/>
<rect x="2147.6" y="702.8" width="19.9" height="19.9" fill="#fafa64"/>
<rect x="2147.6" y="722.7" width="19.9" height="19.9" fill="#fafa64"/>
<rect x="2147.6" y="762.4" width="19.9" height="19.9" fill="#fafa64"/>
<rect x="2147.6" y="782.3" width="19.9" height="19.9" fill="#fafa64"/>
<rect x="2167.4" y="683.0" width="19.9" height="19.9" fill="#fafa64"/>
<rect x="2167.4" y="702.8" width="19.9" height="19.9" fill="#fafa64"/>
<rect x="2167.4" y="722.7" width="19.9" height="19.9" fill="#fafa64"/>
<rect x="2167.4" y="742.6" width="19.9" height="19.9" fill="#cfde85"/>
<rect x="2167.4" y="762.4" width="19.9" height="19.9" fill="#cfde85"/>
<rect x="2167.4" y="782.3" width="19.9" height="19.9" fill="#fafa64"/>
<rect x="2187.3" y="683.0" width="19.9" height="19.9" fill="#fafa64"/>
<rect x="2187.3" y="702.8" width="19.9" height="19.9" fill="#fafa64"/>
<rect x="2187.3" y="722.7" width="19.9" height="19.9" fill="#fafa64"/>
<rect x="2187.3" y="742.6" width="19.9" height="19.9" fill="#fafa64"/>
<rect x="2187.3" y="762.4" width="19.9" height="19.9" fill="#fafa64"/>
<clipPath id="cu"><path d="M499.0 67.4 L499.0 87.2 L479.2 87.2 L479.2 67.4 L459.3 67.4 L459.3 87.2 L419.6 87.2 L419.6 107.1 L399.7 107.1 L399.7 127.0 L399.7 146.8 L439.4 146.8 L439.4 166.7 L499.0 166.7 L499.0 186.5 L479.2 186.5 L479.2 206.4 L518.9 206.4 L518.9 226.3 L479.2 226.3 L479.2 246.1 L459.3 246.1 L459.3 266.0 L459.3 285.8 L479.2 285.8 L479.2 305.7 L479.2 325.5 L479.2 345.4 L479.2 365.3 L499.0 365.3 L499.0 385.1 L558.6 385.1 L558.6 405.0 L558.6 424.8 L618.2 424.8 L618.2 444.7 L578.5 444.7 L578.5 464.5 L558.6 464.5 L558.6 484.4 L558.6 504.3 L558.6 524.1 L558.6 544.0 L518.9 544.0 L518.9 563.8 L499.0 563.8 L499.0 583.7 L499.0 603.6 L479.2 603.6 L479.2 623.4 L459.3 623.4 L459.3 643.3 L459.3 663.1 L439.4 663.1 L439.4 683.0 L419.6 683.0 L419.6 702.8 L379.9 702.8 L379.9 722.7 L379.9 742.6 L360.0 742.6 L360.0 762.4 L340.1 762.4 L340.1 782.3 L280.5 782.3 L280.5 802.1 L260.7 802.1 L260.7 782.3 L240.8 782.3 L240.8 762.4 L221.0 762.4 L221.0 782.3 L201.1 782.3 L201.1 802.1 L181.2 802.1 L181.2 822.0 L161.4 822.0 L161.4 841.8 L161.4 861.7 L161.4 881.6 L201.1 881.6 L201.1 901.4 L201.1 921.3 L201.1 941.1 L201.1 961.0 L240.8 961.0 L240.8 980.9 L260.7 980.9 L260.7 1000.7 L260.7 1020.6 L260.7 1040.4 L280.5 1040.4 L280.5 1060.3 L260.7 1060.3 L260.7 1080.1 L240.8 1080.1 L240.8 1060.3 L201.1 1060.3 L201.1 1080.1 L161.4 1080.1 L161.4 1060.3 L101.8 1060.3 L101.8 1080.1 L101.8 1100.0 L42.2 1100.0 L42.2 1119.9 L62.1 1119.9 L62.1 1139.7 L81.9 1139.7 L81.9 1159.6 L101.8 1159.6 L101.8 1179.4 L201.1 1179.4 L201.1 1199.3 L161.4 1199.3 L161.4 1219.2 L121.7 1219.2 L121.7 1239.0 L141.5 1239.0 L141.5 1258.9 L161.4 1258.9 L161.4 1278.7 L181.2 1278.7 L181.2 1298.6 L201.1 1298.6 L201.1 1318.4 L221.0 1318.4 L221.0 1338.3 L260.7 1338.3 L260.7 1358.2 L280.5 1358.2 L280.5 1338.3 L320.3 1338.3 L320.3 1318.4 L360.0 1318.4 L360.0 1298.6 L379.9 1298.6 L379.9 1278.7 L379.9 1258.9 L379.9 1239.0 L399.7 1239.0 L399.7 1258.9 L399.7 1278.7 L399.7 1298.6 L399.7 1318.4 L399.7 1338.3 L419.6 1338.3 L419.6 1358.2 L419.6 1378.0 L399.7 1378.0 L399.7 1397.9 L399.7 1417.7 L399.7 1437.6 L399.7 1457.4 L419.6 1457.4 L419.6 1477.3 L419.6 1497.2 L419.6 1517.0 L419.6 1536.9 L419.6 1556.7 L439.4 1556.7 L439.4 1576.6 L439.4 1596.5 L439.4 1616.3 L439.4 1636.2 L459.3 1636.2 L459.3 1656.0 L459.3 1675.9 L459.3 1695.7 L459.3 1715.6 L479.2 1715.6 L479.2 1735.5 L479.2 1755.3 L499.0 1755.3 L499.0 1775.2 L499.0 1795.0 L518.9 1795.0 L518.9 1814.9 L518.9 1834.7 L538.8 1834.7 L538.8 1854.6 L538.8 1874.5 L558.6 1874.5 L558.6 1894.3 L558.6 1914.2 L558.6 1934.0 L578.5 1934.0 L578.5 1953.9 L578.5 1973.8 L578.5 1993.6 L598.3 1993.6 L598.3 2013.5 L598.3 2033.3 L618.2 2033.3 L618.2 2053.2 L638.1 2053.2 L638.1 2073.0 L638.1 2092.9 L657.9 2092.9 L657.9 2112.8 L657.9 2132.6 L657.9 2152.5 L677.8 2152.5 L677.8 2172.3 L677.8 2192.2 L677.8 2212.1 L697.6 2212.1 L697.6 2231.9 L697.6 2251.8 L697.6 2271.6 L717.5 2271.6 L717.5 2291.5 L717.5 2311.3 L737.4 2311.3 L737.4 2331.2 L757.2 2331.2 L757.2 2351.1 L816.8 2351.1 L816.8 2331.2 L836.7 2331.2 L836.7 2311.3 L836.7 2291.5 L856.5 2291.5 L856.5 2271.6 L916.1 2271.6 L916.1 2251.8 L896.3 2251.8 L896.3 2231.9 L916.1 2231.9 L916.1 2212.1 L916.1 2192.2 L936.0 2192.2 L936.0 2172.3 L975.7 2172.3 L975.7 2152.5 L975.7 2132.6 L975.7 2112.8 L975.7 2092.9 L975.7 2073.0 L975.7 2053.2 L975.7 2033.3 L975.7 2013.5 L995.6 2013.5 L995.6 1993.6 L1015.4 1993.6 L1015.4 1973.8 L1015.4 1953.9 L1015.4 1934.0 L1015.4 1914.2 L1015.4 1894.3 L995.6 1894.3 L995.6 1874.5 L995.6 1854.6 L995.6 1834.7 L995.6 1814.9 L995.6 1795.0 L995.6 1775.2 L995.6 1755.3 L1015.4 1755.3 L1015.4 1735.5 L1075.0 1735.5 L1075.0 1715.6 L1094.9 1715.6 L1094.9 1695.7 L1154.5 1695.7 L1154.5 1675.9 L1174.3 1675.9 L1174.3 1656.0 L1174.3 1636.2 L1194.2 1636.2 L1194.2 1616.3 L1233.9 1616.3 L1233.9 1596.5 L1253.8 1596.5 L1253.8 1576.6 L1273.6 1576.6 L1273.6 1556.7 L1293.5 1556.7 L1293.5 1536.9 L1313.4 1536.9 L1313.4 1517.0 L1333.2 1517.0 L1333.2 1497.2 L1353.1 1497.2 L1353.1 1477.3 L1373.0 1477.3 L1373.0 1457.4 L1412.7 1457.4 L1412.7 1437.6 L1432.5 1437.6 L1432.5 1417.7 L1492.1 1417.7 L1492.1 1397.9 L1512.0 1397.9 L1512.0 1378.0 L1531.9 1378.0 L1531.9 1358.2 L1551.7 1358.2 L1551.7 1338.3 L1531.9 1338.3 L1531.9 1318.4 L1531.9 1298.6 L1551.7 1298.6 L1551.7 1278.7 L1631.2 1278.7 L1631.2 1298.6 L1651.0 1298.6 L1651.0 1278.7 L1651.0 1258.9 L1670.9 1258.9 L1670.9 1278.7 L1710.6 1278.7 L1710.6 1258.9 L1710.6 1239.0 L1710.6 1219.2 L1690.7 1219.2 L1690.7 1199.3 L1690.7 1179.4 L1690.7 1159.6 L1690.7 1139.7 L1690.7 1119.9 L1670.9 1119.9 L1670.9 1100.0 L1690.7 1100.0 L1690.7 1080.1 L1690.7 1060.3 L1631.2 1060.3 L1631.2 1040.4 L1631.2 1020.6 L1651.0 1020.6 L1651.0 1000.7 L1690.7 1000.7 L1690.7 980.9 L1690.7 961.0 L1651.0 961.0 L1651.0 941.1 L1631.2 941.1 L1631.2 921.3 L1651.0 921.3 L1651.0 901.4 L1651.0 881.6 L1670.9 881.6 L1670.9 901.4 L1670.9 921.3 L1690.7 921.3 L1690.7 901.4 L1710.6 901.4 L1710.6 921.3 L1770.2 921.3 L1770.2 941.1 L1770.2 961.0 L1770.2 980.9 L1790.1 980.9 L1790.1 1000.7 L1968.8 1000.7 L1968.8 1020.6 L1949.0 1020.6 L1949.0 1040.4 L1949.0 1060.3 L1929.1 1060.3 L1929.1 1080.1 L1889.4 1080.1 L1889.4 1100.0 L1869.5 1100.0 L1869.5 1119.9 L1869.5 1139.7 L1889.4 1139.7 L1889.4 1159.6 L1929.1 1159.6 L1929.1 1139.7 L1929.1 1119.9 L1968.8 1119.9 L1968.8 1139.7 L1968.8 1159.6 L1968.8 1179.4 L1968.8 1199.3 L1988.7 1199.3 L1988.7 1219.2 L1988.7 1239.0 L2028.4 1239.0 L2028.4 1219.2 L2028.4 1199.3 L2028.4 1179.4 L2028.4 1159.6 L2048.3 1159.6 L2048.3 1139.7 L2048.3 1119.9 L2048.3 1100.0 L2068.1 1100.0 L2068.1 1080.1 L2088.0 1080.1 L2088.0 1100.0 L2107.9 1100.0 L2107.9 1080.1 L2127.7 1080.1 L2127.7 1060.3 L2127.7 1040.4 L2147.6 1040.4 L2147.6 1020.6 L2147.6 1000.7 L2147.6 980.9 L2167.4 980.9 L2167.4 961.0 L2187.3 961.0 L2187.3 941.1 L2187.3 921.3 L2187.3 901.4 L2187.3 881.6 L2207.2 881.6 L2207.2 861.7 L2246.9 861.7 L2246.9 841.8 L2266.7 841.8 L2266.7 822.0 L2326.3 822.0 L2326.3 802.1 L2346.2 802.1 L2346.2 782.3 L2366.1 782.3 L2366.1 762.4 L2366.1 742.6 L2286.6 742.6 L2286.6 722.7 L2306.5 722.7 L2306.5 702.8 L2306.5 683.0 L2286.6 683.0 L2286.6 663.1 L2227.0 663.1 L2227.0 683.0 L2167.4 683.0 L2167.4 663.1 L2127.7 663.1 L2127.7 683.0 L2107.9 683.0 L2107.9 702.8 L2088.0 702.8 L2088.0 722.7 L2028.4 722.7 L2028.4 742.6 L2008.5 742.6 L2008.5 762.4 L1988.7 762.4 L1988.7 782.3 L1909.2 782.3 L1909.2 802.1 L1909.2 822.0 L1949.0 822.0 L1949.0 841.8 L1949.0 861.7 L1770.2 861.7 L1770.2 881.6 L1750.3 881.6 L1750.3 861.7 L1690.7 861.7 L1690.7 841.8 L1690.7 822.0 L1690.7 802.1 L1690.7 782.3 L1690.7 762.4 L1631.2 762.4 L1631.2 782.3 L1631.2 802.1 L1631.2 822.0 L1611.3 822.0 L1611.3 841.8 L1631.2 841.8 L1631.2 861.7 L1631.2 881.6 L1631.2 901.4 L1512.0 901.4 L1512.0 881.6 L1432.5 881.6 L1432.5 861.7 L1373.0 861.7 L1373.0 841.8 L1353.1 841.8 L1353.1 822.0 L1233.9 822.0 L1233.9 802.1 L1174.3 802.1 L1174.3 782.3 L1114.8 782.3 L1114.8 762.4 L1094.9 762.4 L1094.9 742.6 L1055.2 742.6 L1055.2 722.7 L1015.4 722.7 L1015.4 702.8 L995.6 702.8 L995.6 683.0 L1015.4 683.0 L1015.4 663.1 L1015.4 643.3 L1015.4 623.4 L1035.3 623.4 L1035.3 603.6 L1055.2 603.6 L1055.2 583.7 L1035.3 583.7 L1035.3 563.8 L995.6 563.8 L995.6 544.0 L955.9 544.0 L955.9 524.1 L936.0 524.1 L936.0 504.3 L876.4 504.3 L876.4 484.4 L876.4 464.5 L896.3 464.5 L896.3 444.7 L856.5 444.7 L856.5 424.8 L856.5 405.0 L896.3 405.0 L896.3 424.8 L916.1 424.8 L916.1 405.0 L955.9 405.0 L955.9 385.1 L936.0 385.1 L936.0 365.3 L936.0 345.4 L896.3 345.4 L896.3 325.5 L916.1 325.5 L916.1 305.7 L896.3 305.7 L896.3 285.8 L955.9 285.8 L955.9 266.0 L975.7 266.0 L975.7 246.1 L995.6 246.1 L995.6 226.3 L995.6 206.4 L1015.4 206.4 L1015.4 186.5 L1015.4 166.7 L995.6 166.7 L995.6 146.8 L936.0 146.8 L936.0 127.0 L916.1 127.0 L916.1 146.8 L856.5 146.8 L856.5 166.7 L797.0 166.7 L797.0 186.5 L777.1 186.5 L777.1 166.7 L757.2 166.7 L757.2 146.8 L737.4 146.8 L737.4 127.0 L717.5 127.0 L717.5 107.1 L677.8 107.1 L677.8 87.2 L638.1 87.2 L638.1 67.4 L618.2 67.4 L618.2 47.5 L598.3 47.5 L598.3 67.4 L578.5 67.4 L578.5 47.5 L538.8 47.5 L538.8 67.4ZM1670.9 1239.0 L1690.7 1239.0 L1690.7 1258.9 L1670.9 1258.9ZM2286.6 702.8 L2266.7 702.8 L2266.7 683.0 L2286.6 683.0ZM995.6 186.5 L975.7 186.5 L975.7 166.7 L995.6 166.7ZM717.5 146.8 L677.8 146.8 L677.8 127.0 L717.5 127.0ZM737.4 285.8 L757.2 285.8 L757.2 305.7 L737.4 305.7ZM916.1 1437.6 L916.1 1417.7 L936.0 1417.7 L936.0 1437.6ZM2346.2 841.8 L2346.2 822.0 L2326.3 822.0 L2326.3 841.8ZM1949.0 1179.4 L1949.0 1159.6 L1929.1 1159.6 L1929.1 1179.4ZM1949.0 2033.3 L1929.1 2033.3 L1929.1 2053.2 L1949.0 2053.2Z" clip-rule="evenodd"/></clipPath>
<path d="M42.2 47.5V2351.1M62.1 47.5V2351.1M81.9 47.5V2351.1M101.8 47.5V2351.1M121.7 47.5V2351.1M141.5 47.5V2351.1M161.4 47.5V2351.1M181.2 47.5V2351.1M201.1 47.5V2351.1M221.0 47.5V2351.1M240.8 47.5V2351.1M260.7 47.5V2351.1M280.5 47.5V2351.1M300.4 47.5V2351.1M320.3 47.5V2351.1M340.1 47.5V2351.1M360.0 47.5V2351.1M379.9 47.5V2351.1M399.7 47.5V2351.1M419.6 47.5V2351.1M439.4 47.5V2351.1M459.3 47.5V2351.1M479.2 47.5V2351.1M499.0 47.5V2351.1M518.9 47.5V2351.1M538.8 47.5V2351.1M558.6 47.5V2351.1M578.5 47.5V2351.1M598.3 47.5V2351.1M618.2 47.5V2351.1M638.1 47.5V2351.1M657.9 47.5V2351.1M677.8 47.5V2351.1M697.6 47.5V2351.1M717.5 47.5V2351.1M737.4 47.5V2351.1M757.2 47.5V2351.1M777.1 47.5V2351.1M797.0 47.5V2351.1M816.8 47.5V2351.1M836.7 47.5V2351.1M856.5 47.5V2351.1M876.4 47.5V2351.1M896.3 47.5V2351.1M916.1 47.5V2351.1M936.0 47.5V2351.1M955.9 47.5V2351.1M975.7 47.5V2351.1M995.6 47.5V2351.1M1015.4 47.5V2351.1M1035.3 47.5V2351.1M1055.2 47.5V2351.1M1075.0 47.5V2351.1M1094.9 47.5V2351.1M1114.8 47.5V2351.1M1134.6 47.5V2351.1M1154.5 47.5V2351.1M1174.3 47.5V2351.1M1194.2 47.5V2351.1M1214.1 47.5V2351.1M1233.9 47.5V2351.1M1253.8 47.5V2351.1M1273.6 47.5V2351.1M1293.5 47.5V2351.1M1313.4 47.5V2351.1M1333.2 47.5V2351.1M1353.1 47.5V2351.1M1373.0 47.5V2351.1M1392.8 47.5V2351.1M1412.7 47.5V2351.1M1432.5 47.5V2351.1M1452.4 47.5V2351.1M1472.3 47.5V2351.1M1492.1 47.5V2351.1M1512.0 47.5V2351.1M1531.9 47.5V2351.1M1551.7 47.5V2351.1M1571.6 47.5V2351.1M1591.4 47.5V2351.1M1611.3 47.5V2351.1M1631.2 47.5V2351.1M1651.0 47.5V2351.1M1670.9 47.5V2351.1M1690.7 47.5V2351.1M1710.6 47.5V2351.1M1730.5 47.5V2351.1M1750.3 47.5V2351.1M1770.2 47.5V2351.1M1790.1 47.5V2351.1M1809.9 47.5V2351.1M1829.8 47.5V2351.1M1849.6 47.5V2351.1M1869.5 47.5V2351.1M1889.4 47.5V2351.1M1909.2 47.5V2351.1M1929.1 47.5V2351.1M1949.0 47.5V2351.1M1968.8 47.5V2351.1M1988.7 47.5V2351.1M2008.5 47.5V2351.1M2028.4 47.5V2351.1M2048.3 47.5V2351.1M2068.1 47.5V2351.1M2088.0 47.5V2351.1M2107.9 47.5V2351.1M2127.7 47.5V2351.1M2147.6 47.5V2351.1M2167.4 47.5V2351.1M2187.3 47.5V2351.1M2207.2 47.5V2351.1M2227.0 47.5V2351.1M2246.9 47.5V2351.1M2266.7 47.5V2351.1M2286.6 47.5V2351.1M2306.5 47.5V2351.1M2326.3 47.5V2351.1M2346.2 47.5V2351.1M2366.1 47.5V2351.1M42.2 47.5H2366.1M42.2 67.4H2366.1M42.2 87.2H2366.1M42.2 107.1H2366.1M42.2 127.0H2366.1M42.2 146.8H2366.1M42.2 166.7H2366.1M42.2 186.5H2366.1M42.2 206.4H2366.1M42.2 226.3H2366.1M42.2 246.1H2366.1M42.2 266.0H2366.1M42.2 285.8H2366.1M42.2 305.7H2366.1M42.2 325.5H2366.1M42.2 345.4H2366.1M42.2 365.3H2366.1M42.2 385.1H2366.1M42.2 405.0H2366.1M42.2 424.8H2366.1M42.2 444.7H2366.1M42.2 464.5H2366.1M42.2 484.4H2366.1M42.2 504.3H2366.1M42.2 524.1H2366.1M42.2 544.0H2366.1M42.2 563.8H2366.1M42.2 583.7H2366.1M42.2 603.6H2366.1M42.2 623.4H2366.1M42.2 643.3H2366.1M42.2 663.1H2366.1M42.2 683.0H2366.1M42.2 702.8H2366.1M42.2 722.7H2366.1M42.2 742.6H2366.1M42.2 762.4H2366.1M42.2 782.3H2366.1M42.2 802.1H2366.1M42.2 822.0H2366.1M42.2 841.8H2366.1M42.2 861.7H2366.1M42.2 881.6H2366.1M42.2 901.4H2366.1M42.2 921.3H2366.1M42.2 941.1H2366.1M42.2 961.0H2366.1M42.2 980.9H2366.1M42.2 1000.7H2366.1M42.2 1020.6H2366.1M42.2 1040.4H2366.1M42.2 1060.3H2366.1M42.2 1080.1H2366.1M42.2 1100.0H2366.1M42.2 1119.9H2366.1M42.2 1139.7H2366.1M42.2 1159.6H2366.1M42.2 1179.4H2366.1M42.2 1199.3H2366.1M42.2 1219.2H2366.1M42.2 1239.0H2366.1M42.2 1258.9H2366.1M42.2 1278.7H2366.1M42.2 1298.6H2366.1M42.2 1318.4H2366.1M42.2 1338.3H2366.1M42.2 1358.2H2366.1M42.2 1378.0H2366.1M42.2 1397.9H2366.1M42.2 1417.7H2366.1M42.2 1437.6H2366.1M42.2 1457.4H2366.1M42.2 1477.3H2366.1M42.2 1497.2H2366.1M42.2 1517.0H2366.1M42.2 1536.9H2366.1M42.2 1556.7H2366.1M42.2 1576.6H2366.1M42.2 1596.5H2366.1M42.2 1616.3H2366.1M42.2 1636.2H2366.1M42.2 1656.0H2366.1M42.2 1675.9H2366.1M42.2 1695.7H2366.1M42.2 1715.6H2366.1M42.2 1735.5H2366.1M42.2 1755.3H2366.1M42.2 1775.2H2366.1M42.2 1795.0H2366.1M42.2 1814.9H2366.1M42.2 1834.7H2366.1M42.2 1854.6H2366.1M42.2 1874.5H2366.1M42.2 1894.3H2366.1M42.2 1914.2H2366.1M42.2 1934.0H2366.1M42.2 1953.9H2366.1M42.2 1973.8H2366.1M42.2 1993.6H2366.1M42.2 2013.5H2366.1M42.2 2033.3H2366.1M42.2 2053.2H2366.1M42.2 2073.0H2366.1M42.2 2092.9H2366.1M42.2 2112.8H2366.1M42.2 2132.6H2366.1M42.2 2152.5H2366.1M42.2 2172.3H2366.1M42.2 2192.2H2366.1M42.2 2212.1H2366.1M42.2 2231.9H2366.1M42.2 2251.8H2366.1M42.2 2271.6H2366.1M42.2 2291.5H2366.1M42.2 2311.3H2366.1M42.2 2331.2H2366.1M42.2 2351.1H2366.1" stroke="#fff" stroke-width="2" fill="none" clip-path="url(#cu)"/>
<path d="M621.7 293.3 L636.7 283.3 L645.0 290.0 L666.7 296.7 L680.0 310.0 L690.0 323.3 L706.7 333.3 L720.0 346.7 L706.7 356.7 L683.3 365.0 L663.3 366.7 L640.0 356.7 L626.7 340.0 L628.3 320.0 L620.0 303.3Z" fill="url(#hm)"/>
<path d="M560.0 316.7 L573.3 311.7 L586.7 313.3 L578.3 321.7 L563.3 320.0Z" fill="url(#hm)"/>
<path d="M591.7 340.0 L600.0 333.3 L616.7 345.0 L620.0 353.3 L600.0 363.3 L586.7 353.3Z" fill="url(#hm)"/>
<path d="M540.0 383.3 L560.0 371.7 L573.3 376.7 L583.3 388.3 L566.7 400.0 L563.3 390.0 L546.7 395.0Z" fill="url(#hm)"/>
<path d="M631.7 450.0 L643.3 446.7 L653.3 456.7 L661.7 466.7 L665.0 480.0 L673.3 493.3 L680.0 510.0 L693.3 513.3 L710.0 520.0 L716.7 533.3 L700.0 541.0 L660.0 541.0 L653.3 520.0 L643.3 500.0 L630.0 480.0 L640.0 466.7Z" fill="url(#hm)"/>
<path d="M406.7 971.0 L420.0 954.3 L440.0 941.0 L466.7 931.0 L500.0 934.3 L520.0 927.7 L533.3 941.0 L553.3 937.7 L573.3 941.0 L596.7 957.7 L616.7 954.3 L623.3 974.3 L613.3 991.0 L623.3 1007.7 L610.0 1007.7 L596.7 1011.0 L576.7 1017.7 L580.0 1034.3 L563.3 1051.0 L573.3 1064.3 L573.3 1082.0 L433.3 1082.0 L446.7 1064.3 L433.3 1054.3 L416.7 1061.0 L400.0 1054.3 L383.3 1051.0 L390.0 1034.3 L403.3 1021.0 L420.0 1001.0 L430.0 987.7Z" fill="url(#hm)"/>
<path d="M557.5 625.0 L580.0 617.5 L591.2 622.5 L600.0 627.5 L605.0 635.0 L610.0 647.5 L615.0 637.5 L625.0 630.0 L640.0 631.2 L655.0 630.0 L667.5 635.0 L680.0 631.2 L685.0 640.0 L692.5 650.0 L705.0 655.0 L720.0 652.5 L730.0 660.0 L732.5 675.0 L727.5 690.0 L732.5 705.0 L740.0 710.0 L735.0 727.5 L742.5 732.5 L752.5 735.0 L760.0 742.5 L755.0 750.0 L740.0 752.5 L730.0 760.0 L720.0 765.0 L712.5 772.5 L702.5 765.0 L692.5 757.5 L680.0 767.5 L677.5 757.5 L672.5 752.5 L660.0 740.0 L650.0 732.5 L635.0 720.0 L631.2 705.0 L625.0 692.5 L622.5 680.0 L615.0 670.0 L597.5 670.0 L585.0 670.0 L572.5 661.2 L560.0 663.8 L552.5 656.2 L555.0 637.5Z" fill="url(#hm)"/>
<path d="M760.0 760.0 L780.0 752.5 L787.5 765.0 L780.0 780.0 L767.5 777.5Z" fill="url(#hm)"/>
<path d="M777.5 790.0 L795.0 772.5 L812.5 762.5 L830.0 763.8 L857.5 760.0 L875.0 767.5 L870.0 785.0 L880.0 795.0 L895.0 802.5 L915.0 805.0 L927.5 820.0 L930.0 830.0 L937.5 842.5 L930.0 852.5 L905.0 852.5 L890.0 850.0 L875.0 855.0 L855.0 855.0 L842.5 852.5 L830.0 855.0 L812.5 855.0 L802.5 850.0 L800.0 837.5 L795.0 827.5 L782.5 820.0 L777.5 810.0 L775.0 797.5Z" fill="url(#hm)"/>
<path d="M667.5 530.0 L680.0 520.0 L715.0 520.0 L720.0 532.5 L730.0 540.0 L725.0 550.0 L710.0 547.5 L700.0 542.5 L692.5 535.0Z" fill="url(#hm)"/>
<path d="M1108.3 847.7 L1131.7 827.7 L1158.3 824.3 L1171.7 834.3 L1195.0 841.0 L1211.7 851.0 L1215.0 867.7 L1205.0 884.3 L1191.7 904.3 L1175.0 907.7 L1155.0 904.3 L1135.0 887.7 L1115.0 877.7 L1111.7 861.0Z" fill="url(#hm)"/>
<path d="M1138.3 907.7 L1158.3 904.3 L1178.3 911.0 L1195.0 927.7 L1208.3 941.0 L1231.7 951.0 L1258.3 941.0 L1285.0 937.7 L1298.3 947.7 L1311.7 964.3 L1298.3 971.0 L1278.3 981.0 L1258.3 991.0 L1251.7 1007.7 L1255.0 1024.3 L1258.3 1041.0 L1245.0 1054.3 L1225.0 1061.0 L1208.3 1054.3 L1198.3 1044.3 L1181.7 1041.0 L1165.0 1037.7 L1158.3 1021.0 L1171.7 1001.0 L1185.0 984.3 L1171.7 967.7 L1158.3 954.3 L1165.0 937.7 L1148.3 924.3Z" fill="url(#hm)"/>
<path d="M971.7 1082.0 L978.3 1054.3 L998.3 1034.3 L1018.3 1014.3 L1038.3 1007.7 L1065.0 1011.0 L1081.7 1004.3 L1098.3 997.7 L1111.7 1001.0 L1125.0 1007.7 L1138.3 1014.3 L1148.3 1027.7 L1165.0 1037.7 L1181.7 1041.0 L1198.3 1044.3 L1208.3 1054.3 L1208.3 1067.7 L1201.7 1082.0Z" fill="url(#hm)"/>
<path d="M1255.0 1082.0 L1258.3 1061.0 L1265.0 1054.3 L1285.0 1051.0 L1298.3 1044.3 L1311.7 1051.0 L1328.3 1054.3 L1341.7 1071.0 L1351.7 1061.0 L1365.0 1056.0 L1378.3 1064.3 L1398.3 1061.0 L1408.3 1074.3 L1398.3 1082.0Z" fill="url(#hm)"/>
<path d="M1255.0 1052.5 L1267.5 1042.5 L1302.5 1037.5 L1312.5 1047.5 L1327.5 1047.5 L1340.0 1065.0 L1352.5 1055.0 L1367.5 1047.5 L1377.5 1057.5 L1395.0 1052.5 L1410.0 1062.5 L1400.0 1080.0 L1390.0 1102.5 L1380.0 1122.5 L1380.0 1145.0 L1370.0 1160.0 L1350.0 1175.0 L1335.0 1175.0 L1315.0 1172.5 L1310.0 1155.0 L1305.0 1140.0 L1305.0 1120.0 L1290.0 1120.0 L1280.0 1102.5 L1265.0 1090.0 L1255.0 1080.0 L1260.0 1065.0Z" fill="url(#hm)"/>
<path d="M1917.5 872.5 L1935.0 860.0 L1960.0 853.8 L1995.0 848.8 L2022.5 856.2 L2060.0 853.8 L2077.5 841.2 L2110.0 811.2 L2135.0 800.0 L2160.0 788.8 L2185.0 781.2 L2215.0 776.2 L2205.0 790.0 L2185.0 800.0 L2160.0 810.0 L2147.5 825.0 L2130.0 837.5 L2110.0 845.0 L2095.0 860.0 L2080.0 870.0 L2060.0 875.0 L2035.0 880.0 L2010.0 885.0 L1985.0 890.0 L1967.5 895.0 L1955.0 902.5 L1942.5 910.0 L1930.0 912.5 L1922.5 895.0Z" fill="url(#hm)"/>
<path d="M1036.7 1383.3 L1056.7 1373.3 L1086.7 1366.7 L1120.0 1368.3 L1130.0 1383.3 L1140.0 1400.0 L1133.3 1410.0 L1146.7 1420.0 L1150.0 1440.0 L1156.7 1456.7 L1163.3 1473.3 L1163.3 1493.3 L1153.3 1506.7 L1136.7 1520.0 L1130.0 1536.7 L1113.3 1546.7 L1106.7 1560.0 L1100.0 1573.3 L1073.3 1578.3 L1066.7 1556.7 L1046.7 1550.0 L1040.0 1533.3 L1030.0 1516.7 L1010.0 1506.7 L1006.7 1493.3 L1013.3 1473.3 L1026.7 1456.7 L1046.7 1460.0 L1056.7 1450.0 L1040.0 1436.7 L1033.3 1416.7Z" fill="url(#hm)"/>
<path d="M1163.3 1493.3 L1176.7 1480.0 L1200.0 1470.0 L1220.0 1463.3 L1233.3 1453.3 L1253.3 1440.0 L1263.3 1420.0 L1273.3 1400.0 L1293.3 1380.0 L1310.0 1360.0 L1326.7 1353.3 L1336.7 1373.3 L1346.7 1390.0 L1366.7 1386.7 L1376.7 1406.7 L1393.3 1423.3 L1400.0 1436.7 L1380.0 1463.3 L1360.0 1476.7 L1340.0 1493.3 L1326.7 1500.0 L1310.0 1503.3 L1293.3 1496.7 L1283.3 1486.7 L1273.3 1473.3 L1263.3 1480.0 L1250.0 1486.7 L1246.7 1500.0 L1233.3 1510.0 L1230.0 1526.7 L1220.0 1536.7 L1206.7 1533.3 L1193.3 1540.0 L1183.3 1523.3 L1173.3 1520.0 L1160.0 1513.3Z" fill="url(#hm)"/>
<path d="M900.0 1340.0 L950.0 1340.0 L920.0 1373.3 L900.0 1383.3Z" fill="url(#hm)"/>
<path d="M900.0 1793.3 L913.3 1796.7 L913.3 1833.3 L900.0 1860.0Z" fill="url(#hm)"/>
<path d="M636.7 1970.0 L656.7 1953.3 L680.0 1933.3 L700.0 1916.7 L726.7 1896.7 L746.7 1880.0 L766.7 1866.7 L783.3 1860.0 L810.0 1893.3 L793.3 1903.3 L813.3 1913.3 L836.7 1910.0 L846.7 1926.7 L850.0 1946.7 L833.3 1960.0 L813.3 1973.3 L793.3 1990.0 L796.7 2003.3 L786.7 2016.7 L793.3 2023.3 L811.7 2026.7 L806.7 2040.0 L790.0 2046.7 L780.0 2056.7 L760.0 2063.3 L740.0 2060.0 L733.3 2070.0 L713.3 2073.3 L700.0 2060.0 L686.7 2040.0 L673.3 2016.7 L663.3 2000.0 L646.7 1983.3Z" fill="url(#hm)"/>
<path d="M866.7 1930.0 L886.7 1920.0 L910.0 1916.7 L933.3 1926.7 L946.7 1926.7 L933.3 1946.7 L916.7 1956.7 L896.7 1955.0 L876.7 1960.0 L870.0 1980.0 L860.0 1988.3 L850.0 1970.0 L863.3 1960.0 L873.3 1950.0Z" fill="url(#hm)"/>
<path d="M786.7 2223.3 L810.0 2200.0 L830.0 2186.7 L853.3 2180.0 L863.3 2193.3 L853.3 2213.3 L853.3 2233.3 L856.7 2253.3 L846.7 2270.0 L843.3 2290.0 L840.0 2306.7 L836.7 2323.3 L830.0 2333.3 L813.3 2340.0 L800.0 2346.7 L790.0 2353.3 L776.7 2326.7 L766.7 2303.3 L763.3 2286.7 L766.7 2270.0 L776.7 2253.3 L776.7 2236.7Z" fill="url(#hm)"/>
<path d="M453.3 1520.0 L466.7 1486.7 L486.7 1453.3 L520.0 1433.3 L560.0 1420.0 L566.7 1386.7 L576.7 1360.0 L600.0 1340.0 L965.0 1340.0 L965.0 1346.7 L933.3 1360.0 L913.3 1400.0 L900.0 1423.3 L873.3 1420.0 L853.3 1416.7 L850.0 1450.0 L840.0 1466.7 L820.0 1463.3 L810.0 1483.3 L820.0 1496.7 L806.7 1513.3 L796.7 1530.0 L790.0 1553.3 L780.0 1540.0 L773.3 1530.0 L760.0 1546.7 L740.0 1556.7 L733.3 1573.3 L726.7 1586.7 L706.7 1590.0 L700.0 1603.3 L700.0 1620.0 L680.0 1616.7 L660.0 1613.3 L640.0 1606.7 L636.7 1613.3 L643.3 1630.0 L640.0 1646.7 L620.0 1650.0 L603.3 1656.7 L583.3 1653.3 L566.7 1660.0 L533.3 1656.7 L510.0 1640.0 L486.7 1623.3 L476.7 1580.0 L460.0 1546.7Z" fill="url(#hm)"/>
<path d="M546.7 1673.3 L560.0 1680.0 L576.7 1666.7 L583.3 1653.3 L603.3 1656.7 L620.0 1650.0 L640.0 1646.7 L643.3 1630.0 L660.0 1616.7 L683.3 1626.7 L696.7 1640.0 L703.3 1666.7 L700.0 1693.3 L720.0 1700.0 L746.7 1690.0 L766.7 1690.0 L783.3 1700.0 L793.3 1703.3 L786.7 1716.7 L790.0 1730.0 L813.3 1733.3 L836.7 1736.7 L833.3 1756.7 L813.3 1770.0 L800.0 1786.7 L806.7 1803.3 L826.7 1813.3 L833.3 1830.0 L820.0 1840.0 L800.0 1850.0 L783.3 1863.3 L766.7 1866.7 L746.7 1873.3 L740.0 1856.7 L730.0 1840.0 L720.0 1826.7 L700.0 1813.3 L680.0 1806.7 L660.0 1800.0 L633.3 1796.7 L600.0 1790.0 L576.7 1776.7 L553.3 1770.0 L536.7 1763.3 L533.3 1750.0 L543.3 1733.3 L550.0 1706.7 L536.7 1690.0Z" fill="url(#hm)"/>
<path d="M750.0 1750.0 L766.7 1726.7 L790.0 1730.0 L813.3 1733.3 L836.7 1736.7 L833.3 1756.7 L813.3 1770.0 L800.0 1786.7 L806.7 1803.3 L826.7 1813.3 L846.7 1820.0 L866.7 1806.7 L886.7 1800.0 L906.7 1796.7 L913.3 1813.3 L916.7 1840.0 L906.7 1860.0 L886.7 1873.3 L866.7 1866.7 L846.7 1860.0 L826.7 1840.0 L800.0 1850.0 L783.3 1863.3 L766.7 1866.7 L746.7 1873.3 L740.0 1856.7 L730.0 1840.0 L733.3 1826.7 L730.0 1810.0 L746.7 1803.3 L753.3 1786.7 L746.7 1770.0 L756.7 1756.7Z" fill="url(#hm)"/>
<path d="M50.0 1100.0 L60.0 1091.7 L96.7 1093.3 L93.3 1070.0 L126.7 1070.0 L163.3 1066.7 L193.3 1073.3 L220.0 1058.3 L240.0 1068.3 L270.0 1063.3 L276.7 1043.3 L300.0 1038.3 L333.3 1036.7 L366.7 1035.0 L386.7 1020.0 L416.7 993.3 L433.3 980.0 L466.7 973.3 L500.0 960.0 L626.7 960.0 L620.0 980.0 L600.0 1003.3 L576.7 1016.7 L566.7 1050.0 L580.0 1083.3 L583.3 1100.0 L576.7 1116.7 L556.7 1130.0 L540.0 1120.0 L520.0 1106.7 L500.0 1116.7 L480.0 1126.7 L460.0 1146.7 L433.3 1160.0 L400.0 1173.3 L376.7 1163.3 L363.3 1153.3 L353.3 1173.3 L360.0 1193.3 L380.0 1213.3 L366.7 1243.3 L366.7 1293.3 L346.7 1316.7 L303.3 1331.7 L283.3 1326.7 L260.0 1310.0 L233.3 1293.3 L213.3 1276.7 L186.7 1266.7 L160.0 1260.0 L140.0 1253.3 L110.0 1223.3 L126.7 1218.3 L160.0 1211.7 L200.0 1200.0 L223.3 1166.7 L233.3 1158.3 L206.7 1176.7 L170.0 1190.0 L130.0 1180.0 L90.0 1156.7 L63.3 1133.3 L66.7 1116.7Z" fill="url(#hm)"/>
<path d="M540.0 1163.3 L560.0 1156.7 L570.0 1150.0 L600.0 1133.3 L626.7 1106.7 L653.3 1100.0 L683.3 1066.7 L723.3 1070.0 L750.0 1073.3 L765.0 1073.3 L765.0 1126.7 L733.3 1133.3 L740.0 1160.0 L726.7 1193.3 L733.3 1226.7 L716.7 1260.0 L683.3 1266.7 L656.7 1293.3 L633.3 1293.3 L593.3 1283.3 L553.3 1266.7 L546.7 1250.0 L530.0 1246.7 L523.3 1243.3 L520.0 1226.7 L533.3 1216.7 L513.3 1213.3 L540.0 1193.3 L546.7 1176.7Z" fill="url(#hm)"/>
<path d="M500.0 1330.0 L493.3 1320.0 L473.3 1313.3 L490.0 1310.0 L510.0 1290.0 L533.3 1283.3 L553.3 1266.7 L593.3 1283.3 L633.3 1293.3 L676.7 1296.7 L683.3 1313.3 L713.3 1313.3 L730.0 1283.3 L765.0 1270.0 L765.0 1501.0 L520.0 1501.0 L500.0 1480.0 L486.7 1453.3 L506.7 1440.0 L533.3 1420.0 L566.7 1393.3 L580.0 1366.7 L560.0 1353.3 L533.3 1340.0 L506.7 1340.0Z" fill="url(#hm)"/>
<path d="M973.3 1040.0 L1200.0 1040.0 L1193.3 1060.0 L1166.7 1070.0 L1133.3 1083.3 L1113.3 1100.0 L1100.0 1093.3 L1073.3 1100.0 L1053.3 1113.3 L1033.3 1140.0 L1016.7 1173.3 L1006.7 1186.7 L993.3 1213.3 L986.7 1233.3 L966.7 1253.3 L946.7 1270.0 L926.7 1266.7 L933.3 1240.0 L930.0 1213.3 L940.0 1186.7 L953.3 1166.7 L966.7 1146.7 L976.7 1120.0 L973.3 1093.3 L976.7 1066.7Z" fill="url(#hm)"/>
<path d="M700.0 1073.3 L740.0 1080.0 L766.7 1100.0 L793.3 1116.7 L780.0 1140.0 L740.0 1140.0 L740.0 1180.0 L760.0 1200.0 L733.3 1213.3 L700.0 1220.0Z" fill="url(#hm)"/>
<path d="M700.0 1316.7 L726.7 1283.3 L776.7 1266.7 L793.3 1273.3 L783.3 1286.7 L796.7 1296.7 L823.3 1293.3 L846.7 1280.0 L863.3 1286.7 L886.7 1286.7 L906.7 1276.7 L926.7 1270.0 L946.7 1276.7 L953.3 1300.0 L956.7 1326.7 L946.7 1346.7 L926.7 1360.0 L906.7 1373.3 L900.0 1393.3 L913.3 1410.0 L900.0 1423.3 L876.7 1423.3 L856.7 1426.7 L853.3 1416.7 L850.0 1440.0 L843.3 1456.7 L826.7 1463.3 L813.3 1473.3 L810.0 1490.0 L820.0 1500.0 L813.3 1513.3 L793.3 1523.3 L783.3 1540.0 L776.7 1530.0 L763.3 1533.3 L743.3 1553.3 L733.3 1566.7 L730.0 1581.0 L700.0 1581.0Z" fill="url(#hm)"/>
<path d="M1033.3 1373.3 L1060.0 1386.7 L1086.7 1373.3 L1113.3 1366.7 L1130.0 1383.3 L1136.7 1406.7 L1146.7 1423.3 L1150.0 1443.3 L1160.0 1460.0 L1163.3 1483.3 L1160.0 1500.0 L1143.3 1513.3 L1133.3 1526.7 L1113.3 1536.7 L1106.7 1553.3 L1103.3 1581.0 L1066.7 1581.0 L1060.0 1560.0 L1046.7 1546.7 L1040.0 1526.7 L1020.0 1520.0 L1006.7 1506.7 L1006.7 1486.7 L1016.7 1470.0 L1030.0 1456.7 L1050.0 1460.0 L1060.0 1446.7 L1046.7 1440.0 L1030.0 1430.0 L1016.7 1416.7 L1023.3 1406.7 L1016.7 1390.0Z" fill="url(#hm)"/>
<path d="M1280.0 1380.0 L1300.0 1360.0 L1326.7 1353.3 L1346.7 1373.3 L1350.0 1393.3 L1370.0 1386.7 L1390.0 1406.7 L1400.0 1426.7 L1386.7 1446.7 L1360.0 1470.0 L1346.7 1483.3 L1320.0 1490.0 L1300.0 1486.7 L1286.7 1473.3 L1273.3 1470.0 L1246.7 1480.0 L1233.3 1500.0 L1226.7 1520.0 L1200.0 1530.0 L1180.0 1533.3 L1166.7 1520.0 L1163.3 1506.7 L1160.0 1500.0 L1163.3 1483.3 L1186.7 1480.0 L1213.3 1466.7 L1233.3 1440.0 L1253.3 1420.0 L1266.7 1400.0Z" fill="url(#hm)"/>
<path d="M1200.0 1040.0 L1253.3 1040.0 L1253.3 1083.3 L1240.0 1096.7 L1220.0 1100.0 L1203.3 1093.3 L1200.0 1073.3Z" fill="url(#hm)"/>
<path d="M1260.0 1060.0 L1286.7 1040.0 L1393.3 1040.0 L1386.7 1073.3 L1366.7 1106.7 L1353.3 1140.0 L1333.3 1173.3 L1320.0 1195.7 L1310.0 1206.7 L1305.0 1140.0 L1290.0 1120.0 L1280.0 1102.3 L1265.0 1090.0Z" fill="url(#hm)"/>
<path d="M110.0 1166.0 L114.0 1155.0 L120.0 1149.0 L120.0 1139.0 L128.0 1127.0 L129.0 1120.0 L135.0 1109.0M135.0 1109.0 L128.0 1101.0 L124.0 1090.0 L119.0 1079.0 L114.0 1071.0M192.0 1110.0 L181.0 1111.0 L172.0 1111.0 L165.0 1108.0 L152.0 1107.0 L145.0 1110.0 L135.0 1109.0M161.0 1270.0 L159.0 1261.0 L158.0 1248.0 L153.0 1238.0 L151.0 1231.0 L148.0 1218.0M152.0 1184.0 L162.0 1182.0 L171.0 1180.0 L180.0 1176.0 L184.0 1165.0 L185.0 1157.0 L189.0 1146.0 L194.0 1136.0 L195.0 1130.0 L200.0 1120.0M165.0 1274.0 L177.0 1272.0 L189.0 1267.0M243.0 829.0 L235.0 828.0 L227.0 827.0 L216.0 822.0 L208.0 820.0 L198.0 819.0 L187.0 818.0M256.0 1303.0 L247.0 1299.0 L237.0 1295.0 L231.0 1289.0 L223.0 1286.0 L215.0 1282.0 L204.0 1275.0 L196.0 1270.0 L189.0 1267.0M189.0 1267.0 L194.0 1257.0 L201.0 1252.0 L202.0 1245.0 L209.0 1237.0 L214.0 1226.0 L217.0 1220.0 L221.0 1210.0 L229.0 1217.0 L237.0 1221.0 L247.0 1224.0 L254.0 1229.0 L263.0 1231.0 L273.0 1237.0 L279.0 1241.0M200.0 1120.0 L192.0 1110.0M195.0 1075.0 L193.0 1085.0 L192.0 1099.0 L192.0 1110.0M233.0 1125.0 L223.0 1123.0 L211.0 1122.0 L200.0 1120.0M201.0 926.0 L213.0 923.0 L223.0 915.0M207.0 1197.0 L214.0 1202.0 L222.0 1210.0 L228.0 1200.0 L232.0 1193.0 L239.0 1186.0 L246.0 1176.0 L253.0 1168.0 L257.0 1162.0M307.0 943.0 L297.0 939.0 L289.0 935.0 L279.0 934.0 L268.0 928.0 L262.0 929.0 L251.0 923.0 L243.0 920.0 L233.0 920.0 L223.0 915.0M223.0 915.0 L225.0 907.0 L229.0 895.0 L234.0 887.0 L234.0 878.0 L239.0 867.0 L244.0 858.0 L246.0 850.0 L249.0 838.0M257.0 1162.0 L253.0 1154.0 L247.0 1145.0 L239.0 1134.0 L233.0 1125.0M233.0 1125.0 L240.0 1119.0 L247.0 1114.0 L253.0 1104.0 L257.0 1099.0 L267.0 1091.0 L274.0 1084.0 L279.0 1079.0M243.0 1342.0 L245.0 1333.0 L247.0 1322.0 L253.0 1311.0 L256.0 1303.0M249.0 838.0 L243.0 829.0M243.0 829.0 L246.0 819.0 L248.0 805.0 L249.0 794.0M315.0 845.0 L307.0 843.0 L295.0 843.0 L285.0 844.0 L280.0 842.0 L270.0 842.0 L257.0 839.0 L249.0 838.0M256.0 1303.0 L266.0 1296.0M285.0 1164.0 L274.0 1162.0 L264.0 1161.0 L257.0 1162.0M335.0 1317.0 L327.0 1315.0 L318.0 1313.0 L308.0 1308.0 L300.0 1305.0 L294.0 1306.0 L282.0 1302.0 L276.0 1296.0 L266.0 1296.0M266.0 1296.0 L270.0 1287.0 L270.0 1277.0 L272.0 1268.0 L276.0 1259.0 L278.0 1250.0 L279.0 1241.0M270.0 1025.0 L272.0 1017.0 L278.0 1010.0 L280.0 999.0 L283.0 990.0 L287.0 986.0 L292.0 975.0 L297.0 968.0 L299.0 958.0 L304.0 953.0 L307.0 943.0M275.0 1038.0 L285.0 1038.0 L295.0 1035.0 L302.0 1037.0 L314.0 1034.0 L319.0 1034.0 L330.0 1037.0 L338.0 1033.0 L347.0 1035.0 L359.0 1036.0 L366.0 1034.0M279.0 1079.0 L276.0 1065.0M279.0 1079.0 L286.0 1087.0 L291.0 1093.0 L297.0 1098.0 L306.0 1105.0 L312.0 1110.0 L322.0 1114.0 L324.0 1118.0 L334.0 1111.0 L338.0 1103.0 L342.0 1094.0 L351.0 1088.0 L357.0 1082.0 L361.0 1074.0 L366.0 1067.0 L374.0 1061.0M279.0 1241.0 L286.0 1236.0 L294.0 1230.0 L304.0 1227.0 L312.0 1222.0M312.0 1222.0 L308.0 1212.0 L303.0 1205.0 L301.0 1195.0 L298.0 1188.0 L291.0 1179.0 L287.0 1172.0 L285.0 1164.0M285.0 1164.0 L293.0 1157.0 L299.0 1151.0 L306.0 1144.0 L311.0 1135.0 L319.0 1127.0 L322.0 1123.0 L333.0 1126.0 L337.0 1134.0 L347.0 1138.0 L354.0 1147.0 L361.0 1151.0M321.0 937.0 L307.0 943.0M327.0 1224.0 L312.0 1222.0M344.0 903.0 L340.0 896.0 L334.0 888.0 L330.0 876.0 L325.0 869.0 L322.0 862.0 L318.0 854.0 L315.0 845.0M315.0 845.0 L322.0 835.0 L325.0 824.0 L333.0 816.0 L337.0 806.0M377.0 1010.0 L371.0 1002.0 L367.0 997.0 L359.0 987.0 L354.0 982.0 L350.0 974.0 L344.0 965.0 L338.0 958.0 L334.0 950.0 L325.0 943.0 L321.0 937.0M321.0 937.0 L328.0 930.0 L331.0 919.0 L339.0 913.0 L344.0 903.0M337.0 806.0 L332.0 796.0 L324.0 783.0M352.0 1309.0 L349.0 1298.0 L347.0 1292.0 L345.0 1282.0 L342.0 1271.0 L339.0 1261.0 L335.0 1250.0 L333.0 1244.0 L331.0 1235.0 L327.0 1224.0M327.0 1224.0 L340.0 1219.0 L350.0 1213.0 L358.0 1208.0M337.0 806.0 L346.0 804.0 L357.0 805.0 L362.0 800.0 L375.0 801.0 L383.0 797.0 L392.0 797.0M344.0 903.0 L355.0 901.0 L361.0 902.0 L373.0 900.0 L381.0 898.0 L391.0 897.0 L402.0 898.0 L411.0 894.0 L420.0 894.0M380.0 1216.0 L369.0 1210.0 L358.0 1208.0M358.0 1208.0 L360.0 1198.0 L358.0 1190.0 L358.0 1181.0 L362.0 1170.0 L363.0 1159.0 L361.0 1151.0M361.0 1151.0 L370.0 1148.0 L377.0 1143.0 L385.0 1142.0 L396.0 1138.0 L404.0 1136.0M374.0 1061.0 L371.0 1053.0 L369.0 1043.0 L366.0 1034.0M366.0 1034.0 L373.0 1022.0 L377.0 1010.0M374.0 1061.0 L383.0 1069.0 L389.0 1073.0 L397.0 1078.0 L405.0 1082.0 L414.0 1088.0 L422.0 1095.0M377.0 723.0 L383.0 731.0 L391.0 737.0 L399.0 743.0 L404.0 749.0M418.0 993.0 L410.0 999.0 L397.0 1003.0 L385.0 1007.0 L377.0 1010.0M398.0 1222.0 L385.0 1218.0M437.0 850.0 L429.0 844.0 L422.0 834.0 L418.0 828.0 L410.0 818.0 L404.0 810.0 L398.0 803.0 L392.0 797.0M392.0 797.0 L392.0 787.0 L397.0 778.0 L401.0 768.0 L402.0 758.0 L404.0 749.0M408.0 1243.0 L402.0 1233.0 L398.0 1222.0M398.0 1222.0 L406.0 1217.0 L413.0 1209.0 L417.0 1199.0 L424.0 1193.0 L431.0 1185.0 L436.0 1180.0M398.0 1264.0 L401.0 1254.0 L408.0 1243.0M439.0 1317.0 L428.0 1314.0 L415.0 1313.0 L404.0 1312.0M436.0 1180.0 L432.0 1170.0 L426.0 1163.0 L421.0 1156.0 L415.0 1149.0 L409.0 1144.0 L404.0 1136.0M404.0 1136.0 L410.0 1127.0 L411.0 1122.0 L416.0 1111.0 L416.0 1102.0 L422.0 1095.0M404.0 749.0 L413.0 746.0 L422.0 745.0 L433.0 742.0 L443.0 737.0M463.0 1260.0 L455.0 1258.0 L443.0 1253.0 L435.0 1252.0 L428.0 1247.0 L416.0 1248.0 L408.0 1243.0M461.0 1471.0 L452.0 1473.0 L443.0 1471.0 L431.0 1473.0 L425.0 1477.0 L415.0 1476.0M475.0 1021.0 L467.0 1018.0 L454.0 1012.0 L446.0 1007.0 L439.0 1004.0 L428.0 997.0 L418.0 993.0M418.0 993.0 L418.0 984.0 L418.0 974.0 L423.0 964.0 L423.0 951.0 L423.0 946.0 L426.0 935.0 L424.0 925.0 L425.0 914.0 L426.0 904.0M426.0 904.0 L420.0 894.0M420.0 894.0 L424.0 885.0 L428.0 877.0 L431.0 867.0 L433.0 861.0 L437.0 850.0M422.0 1095.0 L434.0 1094.0 L442.0 1089.0M528.0 949.0 L517.0 944.0 L511.0 940.0 L503.0 938.0 L496.0 936.0 L485.0 929.0 L476.0 926.0 L469.0 923.0 L458.0 917.0 L451.0 917.0 L445.0 909.0 L435.0 909.0 L426.0 904.0M429.0 1547.0 L438.0 1546.0 L446.0 1544.0 L457.0 1541.0M436.0 1180.0 L448.0 1178.0 L455.0 1181.0 L464.0 1179.0 L473.0 1181.0 L474.0 1192.0 L477.0 1200.0 L476.0 1211.0 L478.0 1219.0 L480.0 1230.0 L479.0 1240.0M437.0 850.0 L450.0 843.0 L459.0 838.0 L468.0 835.0M451.0 1355.0 L448.0 1344.0 L444.0 1336.0 L442.0 1328.0 L439.0 1317.0M439.0 1317.0 L448.0 1310.0 L452.0 1302.0 L458.0 1293.0 L467.0 1285.0M483.0 1121.0 L475.0 1115.0 L468.0 1107.0 L460.0 1102.0 L449.0 1097.0 L442.0 1089.0M442.0 1089.0 L446.0 1081.0 L452.0 1073.0 L452.0 1063.0 L459.0 1055.0 L463.0 1046.0 L466.0 1037.0 L471.0 1029.0 L475.0 1021.0M469.0 770.0 L464.0 763.0 L458.0 752.0 L448.0 746.0 L443.0 737.0M443.0 737.0 L450.0 725.0M451.0 682.0 L443.0 670.0M493.0 625.0 L484.0 631.0 L478.0 634.0 L473.0 641.0 L464.0 648.0 L457.0 651.0 L450.0 659.0M450.0 725.0 L449.0 715.0 L452.0 701.0 L450.0 691.0 L451.0 682.0M450.0 725.0 L462.0 725.0 L470.0 726.0 L482.0 724.0 L493.0 724.0 L500.0 725.0 L512.0 723.0M482.0 1618.0 L469.0 1622.0 L461.0 1621.0 L450.0 1626.0M451.0 1355.0 L459.0 1356.0 L469.0 1359.0 L478.0 1359.0 L488.0 1360.0 L498.0 1363.0M463.0 1436.0 L458.0 1429.0 L451.0 1425.0 L444.0 1420.0 L436.0 1413.0 L430.0 1407.0 L423.0 1399.0 L415.0 1395.0 L420.0 1390.0 L425.0 1380.0 L433.0 1374.0 L439.0 1370.0 L446.0 1363.0 L451.0 1355.0M451.0 682.0 L459.0 681.0 L468.0 682.0 L478.0 679.0 L487.0 679.0 L498.0 678.0 L506.0 678.0M482.0 1618.0 L486.0 1610.0 L487.0 1602.0 L494.0 1592.0 L494.0 1584.0 L498.0 1575.0 L489.0 1572.0 L485.0 1565.0 L479.0 1558.0 L472.0 1555.0 L463.0 1546.0 L457.0 1541.0M457.0 1541.0 L457.0 1533.0 L461.0 1523.0 L462.0 1513.0 L465.0 1500.0 L466.0 1491.0 L467.0 1481.0M467.0 1481.0 L461.0 1471.0M461.0 1471.0 L460.0 1461.0 L463.0 1446.0 L463.0 1436.0M467.0 1285.0 L464.0 1272.0 L463.0 1260.0M463.0 1260.0 L471.0 1250.0 L479.0 1240.0M463.0 1436.0 L472.0 1428.0 L480.0 1424.0 L489.0 1417.0 L498.0 1411.0M485.0 278.0 L473.0 268.0 L465.0 261.0M518.0 1316.0 L509.0 1309.0 L500.0 1305.0 L493.0 1300.0 L483.0 1294.0 L475.0 1291.0 L467.0 1285.0M467.0 1481.0 L474.0 1483.0 L484.0 1483.0 L496.0 1482.0 L504.0 1483.0 L512.0 1486.0 L521.0 1488.0 L528.0 1486.0 L539.0 1489.0M513.0 837.0 L503.0 838.0 L491.0 835.0 L479.0 836.0 L468.0 835.0M468.0 835.0 L469.0 825.0 L470.0 815.0 L468.0 805.0 L468.0 798.0 L468.0 788.0 L468.0 779.0 L469.0 770.0M469.0 770.0 L477.0 768.0 L487.0 765.0 L498.0 763.0 L507.0 759.0 L515.0 759.0M471.0 1708.0 L479.0 1703.0 L490.0 1703.0 L499.0 1699.0 L506.0 1693.0 L515.0 1691.0M475.0 1021.0 L487.0 1018.0 L498.0 1014.0M532.0 1244.0 L522.0 1242.0 L513.0 1244.0 L500.0 1240.0 L491.0 1243.0 L479.0 1240.0M516.0 1678.0 L512.0 1668.0 L506.0 1660.0 L500.0 1654.0 L496.0 1645.0 L491.0 1633.0 L488.0 1625.0 L482.0 1618.0M544.0 1184.0 L537.0 1185.0 L527.0 1180.0 L514.0 1181.0 L507.0 1181.0 L499.0 1182.0 L488.0 1180.0 L482.0 1181.0 L474.0 1176.0 L475.0 1166.0 L477.0 1158.0 L478.0 1148.0 L481.0 1137.0 L480.0 1132.0 L483.0 1121.0M483.0 1121.0 L492.0 1119.0 L506.0 1113.0 L516.0 1111.0M510.0 316.0 L499.0 314.0 L490.0 316.0 L481.0 318.0 L479.0 306.0 L483.0 300.0 L484.0 286.0 L485.0 278.0M515.0 269.0 L507.0 270.0 L496.0 273.0 L485.0 278.0M488.0 369.0 L494.0 362.0 L505.0 361.0 L512.0 356.0 L520.0 353.0 L531.0 347.0M514.0 251.0 L506.0 245.0 L497.0 240.0 L489.0 237.0M493.0 625.0 L489.0 611.0M506.0 636.0 L493.0 625.0M533.0 1050.0 L527.0 1043.0 L517.0 1036.0 L514.0 1027.0 L505.0 1020.0 L498.0 1014.0M498.0 1014.0 L503.0 1004.0 L508.0 997.0 L511.0 987.0 L513.0 977.0 L519.0 967.0 L524.0 960.0 L528.0 949.0M498.0 1411.0 L499.0 1403.0 L500.0 1393.0 L498.0 1381.0 L500.0 1372.0 L498.0 1363.0M498.0 1363.0 L506.0 1357.0 L515.0 1347.0 L523.0 1339.0M534.0 1426.0 L527.0 1422.0 L518.0 1419.0 L509.0 1413.0 L498.0 1411.0M506.0 678.0 L506.0 667.0 L506.0 655.0 L504.0 648.0 L506.0 636.0M506.0 636.0 L516.0 636.0 L529.0 632.0 L538.0 631.0M524.0 693.0 L517.0 687.0 L506.0 678.0M531.0 347.0 L525.0 339.0 L522.0 331.0 L513.0 325.0 L510.0 316.0M510.0 316.0 L517.0 307.0 L524.0 302.0 L529.0 294.0 L530.0 285.0 L523.0 277.0 L515.0 269.0M510.0 1791.0 L518.0 1783.0 L525.0 1774.0 L531.0 1768.0 L537.0 1761.0 L546.0 1752.0M534.0 587.0 L524.0 590.0 L511.0 595.0M515.0 759.0 L516.0 747.0 L515.0 736.0 L512.0 723.0M512.0 723.0 L517.0 716.0 L525.0 706.0M562.0 875.0 L556.0 870.0 L544.0 864.0 L539.0 855.0 L529.0 850.0 L521.0 842.0 L513.0 837.0M513.0 837.0 L514.0 829.0 L520.0 819.0 L522.0 809.0 L524.0 804.0 L529.0 795.0 L533.0 786.0 L533.0 776.0M515.0 269.0 L514.0 251.0M535.0 232.0 L525.0 239.0 L522.0 245.0 L514.0 251.0M543.0 1721.0 L535.0 1715.0 L529.0 1706.0 L522.0 1700.0 L515.0 1691.0M515.0 1691.0 L516.0 1678.0M515.0 759.0 L523.0 767.0 L533.0 776.0M554.0 1138.0 L549.0 1134.0 L538.0 1127.0 L532.0 1120.0 L524.0 1115.0 L516.0 1111.0M516.0 1111.0 L518.0 1101.0 L520.0 1093.0 L522.0 1085.0 L527.0 1076.0 L528.0 1068.0 L531.0 1058.0 L533.0 1050.0M516.0 1678.0 L524.0 1673.0 L529.0 1665.0 L537.0 1659.0 L546.0 1653.0 L555.0 1646.0 L564.0 1639.0 L571.0 1636.0 L575.0 1627.0 L585.0 1622.0M523.0 1339.0 L521.0 1328.0 L518.0 1316.0M518.0 1316.0 L522.0 1307.0 L529.0 1297.0 L534.0 1291.0 L539.0 1281.0 L545.0 1272.0M566.0 1355.0 L559.0 1353.0 L547.0 1349.0 L540.0 1344.0 L533.0 1344.0 L523.0 1339.0M525.0 706.0 L524.0 693.0M524.0 693.0 L530.0 686.0 L539.0 680.0 L547.0 677.0 L553.0 672.0 L560.0 664.0M571.0 730.0 L562.0 724.0 L555.0 721.0 L543.0 715.0 L536.0 709.0 L525.0 706.0M532.0 561.0 L526.0 556.0M528.0 949.0 L537.0 944.0M531.0 347.0 L540.0 351.0M534.0 587.0 L534.0 573.0 L532.0 561.0M565.0 551.0 L555.0 556.0 L544.0 560.0 L532.0 561.0M545.0 1272.0 L541.0 1264.0 L537.0 1251.0 L532.0 1244.0M532.0 1244.0 L535.0 1235.0 L539.0 1225.0 L548.0 1216.0 L551.0 1206.0 L554.0 1200.0M533.0 1050.0 L540.0 1052.0 L552.0 1054.0 L561.0 1054.0M533.0 776.0 L543.0 774.0 L554.0 769.0 L563.0 768.0M544.0 1482.0 L542.0 1471.0 L541.0 1463.0 L537.0 1455.0 L537.0 1446.0 L535.0 1435.0 L534.0 1426.0M534.0 1426.0 L540.0 1422.0 L551.0 1416.0 L560.0 1409.0 L567.0 1404.0 L575.0 1398.0M551.0 603.0 L541.0 594.0 L534.0 587.0M537.0 388.0 L536.0 380.0 L538.0 368.0 L541.0 361.0 L540.0 351.0M561.0 1054.0 L568.0 1048.0 L577.0 1044.0 L582.0 1039.0 L589.0 1032.0 L596.0 1024.0 L604.0 1019.0 L612.0 1015.0 L620.0 1007.0 L617.0 1004.0 L613.0 998.0 L605.0 991.0 L598.0 987.0 L591.0 980.0 L583.0 979.0 L575.0 972.0 L566.0 966.0 L557.0 960.0 L551.0 957.0 L546.0 949.0 L537.0 944.0M537.0 944.0 L539.0 938.0 L547.0 928.0 L550.0 921.0 L553.0 912.0 L558.0 905.0 L562.0 897.0 L566.0 887.0M560.0 664.0 L556.0 656.0 L548.0 646.0 L543.0 640.0 L538.0 631.0M538.0 631.0 L543.0 620.0 L545.0 611.0 L551.0 603.0M546.0 1521.0 L544.0 1511.0 L541.0 1500.0 L539.0 1489.0M539.0 1489.0 L544.0 1482.0M540.0 351.0 L549.0 347.0M543.0 1851.0 L551.0 1846.0 L564.0 1843.0 L572.0 1839.0 L583.0 1833.0 L589.0 1832.0 L600.0 1827.0M546.0 1752.0 L547.0 1740.0 L545.0 1731.0 L543.0 1721.0M543.0 1721.0 L549.0 1717.0 L561.0 1714.0 L570.0 1710.0 L576.0 1709.0 L585.0 1705.0 L593.0 1702.0 L600.0 1698.0 L611.0 1691.0 L619.0 1690.0M544.0 1482.0 L553.0 1479.0 L563.0 1477.0 L568.0 1470.0 L577.0 1472.0 L587.0 1468.0 L596.0 1464.0 L605.0 1460.0M554.0 1200.0 L551.0 1190.0 L544.0 1184.0M544.0 1184.0 L545.0 1173.0 L547.0 1165.0 L549.0 1157.0 L553.0 1145.0 L554.0 1138.0M545.0 1272.0 L557.0 1272.0 L562.0 1274.0 L573.0 1277.0 L584.0 1277.0 L591.0 1276.0 L599.0 1278.0 L601.0 1274.0 L600.0 1266.0 L601.0 1252.0 L600.0 1247.0 L599.0 1236.0 L599.0 1229.0 L596.0 1219.0 L596.0 1208.0M593.0 1779.0 L585.0 1774.0 L576.0 1769.0 L571.0 1766.0 L560.0 1761.0 L552.0 1756.0 L546.0 1752.0M596.0 1542.0 L586.0 1539.0 L578.0 1535.0 L569.0 1530.0 L565.0 1527.0 L553.0 1523.0 L546.0 1521.0M579.0 1611.0 L570.0 1608.0 L561.0 1601.0 L554.0 1598.0 L546.0 1594.0 L537.0 1590.0 L527.0 1587.0 L520.0 1583.0 L510.0 1577.0 L505.0 1572.0 L513.0 1567.0 L519.0 1557.0 L521.0 1549.0 L529.0 1543.0 L533.0 1536.0 L542.0 1531.0 L546.0 1521.0M585.0 368.0 L575.0 361.0 L569.0 356.0 L556.0 351.0 L549.0 347.0M549.0 347.0 L553.0 337.0 L560.0 329.0 L563.0 319.0M551.0 603.0 L567.0 600.0M554.0 1200.0 L565.0 1203.0 L574.0 1203.0 L587.0 1206.0 L596.0 1208.0M554.0 1138.0 L565.0 1132.0 L574.0 1130.0 L582.0 1126.0 L592.0 1120.0 L601.0 1116.0M610.0 490.0 L601.0 485.0 L594.0 481.0 L582.0 480.0 L575.0 477.0 L567.0 471.0 L557.0 468.0M570.0 664.0 L560.0 664.0M601.0 1116.0 L597.0 1107.0 L591.0 1102.0 L585.0 1094.0 L579.0 1085.0 L576.0 1078.0 L569.0 1070.0 L564.0 1061.0 L561.0 1054.0M566.0 887.0 L562.0 875.0M562.0 875.0 L567.0 867.0 L574.0 857.0 L580.0 847.0 L586.0 839.0M563.0 319.0 L558.0 310.0 L551.0 303.0 L543.0 296.0 L541.0 289.0 L544.0 281.0 L551.0 278.0 L558.0 268.0 L566.0 264.0M563.0 319.0 L571.0 318.0 L584.0 314.0M568.0 772.0 L563.0 768.0M563.0 768.0 L563.0 758.0 L566.0 748.0 L568.0 739.0 L571.0 730.0M569.0 540.0 L564.0 529.0M581.0 583.0 L576.0 573.0 L573.0 568.0 L567.0 559.0 L565.0 551.0M565.0 551.0 L569.0 540.0M566.0 395.0 L574.0 390.0 L583.0 386.0M566.0 887.0 L576.0 889.0 L582.0 893.0 L596.0 893.0 L603.0 898.0 L611.0 897.0 L624.0 902.0 L630.0 902.0 L642.0 904.0 L651.0 906.0M566.0 264.0 L571.0 271.0 L580.0 281.0 L586.0 289.0 L591.0 295.0M566.0 264.0 L570.0 255.0M575.0 1398.0 L572.0 1385.0 L573.0 1374.0 L566.0 1367.0 L566.0 1355.0M566.0 1355.0 L574.0 1350.0 L581.0 1343.0 L589.0 1338.0 L597.0 1332.0 L606.0 1326.0M586.0 627.0 L578.0 618.0 L574.0 611.0 L567.0 600.0M567.0 600.0 L572.0 594.0 L581.0 583.0M568.0 772.0 L582.0 774.0 L592.0 773.0 L603.0 773.0M586.0 839.0 L583.0 829.0 L579.0 820.0 L576.0 811.0 L576.0 802.0 L573.0 792.0 L572.0 783.0 L568.0 772.0M608.0 579.0 L608.0 567.0 L609.0 560.0 L607.0 549.0 L611.0 541.0 L609.0 535.0 L596.0 536.0 L586.0 537.0 L578.0 538.0 L569.0 540.0M589.0 677.0 L580.0 672.0 L570.0 664.0M570.0 664.0 L573.0 654.0 L580.0 644.0 L580.0 637.0 L586.0 627.0M571.0 730.0 L580.0 726.0 L588.0 719.0 L595.0 719.0 L604.0 726.0 L607.0 735.0 L617.0 742.0 L622.0 750.0M598.0 1413.0 L590.0 1408.0 L581.0 1403.0 L575.0 1398.0M585.0 1622.0 L579.0 1611.0M579.0 1611.0 L579.0 1601.0 L583.0 1592.0 L588.0 1580.0 L590.0 1572.0 L590.0 1561.0 L596.0 1552.0 L596.0 1542.0M608.0 579.0 L594.0 582.0 L581.0 583.0M601.0 418.0 L598.0 411.0 L593.0 401.0 L589.0 395.0 L583.0 386.0M583.0 386.0 L587.0 374.0M603.0 332.0 L594.0 325.0 L584.0 314.0M584.0 314.0 L588.0 305.0 L591.0 295.0M587.0 374.0 L585.0 368.0M585.0 368.0 L588.0 360.0 L593.0 351.0 L597.0 342.0 L603.0 332.0M596.0 1628.0 L585.0 1622.0M626.0 813.0 L618.0 817.0 L608.0 822.0 L604.0 828.0 L596.0 834.0 L586.0 839.0M586.0 627.0 L597.0 624.0 L609.0 627.0 L619.0 624.0M618.0 375.0 L606.0 373.0 L597.0 373.0 L587.0 374.0M589.0 677.0 L588.0 689.0 L592.0 695.0 L594.0 708.0 L600.0 713.0 L607.0 711.0 L619.0 707.0 L630.0 707.0 L638.0 703.0M589.0 677.0 L596.0 673.0 L609.0 668.0 L618.0 662.0M591.0 295.0 L599.0 289.0 L610.0 286.0M604.0 1818.0 L601.0 1808.0 L600.0 1798.0 L595.0 1790.0 L593.0 1779.0M593.0 1779.0 L602.0 1772.0 L609.0 1767.0 L613.0 1759.0 L622.0 1752.0 L628.0 1746.0 L637.0 1737.0 L641.0 1732.0 L650.0 1726.0M596.0 1542.0 L604.0 1537.0 L616.0 1535.0M619.0 1690.0 L614.0 1680.0 L614.0 1670.0 L610.0 1664.0 L607.0 1653.0 L604.0 1646.0 L598.0 1635.0 L596.0 1628.0M596.0 1628.0 L607.0 1622.0 L616.0 1622.0 L626.0 1616.0 L635.0 1610.0 L642.0 1607.0 L651.0 1604.0 L661.0 1599.0M596.0 1208.0 L605.0 1204.0 L612.0 1197.0 L623.0 1191.0 L631.0 1187.0M598.0 2003.0 L606.0 1998.0M605.0 1460.0 L605.0 1452.0 L600.0 1441.0 L600.0 1430.0 L599.0 1422.0 L598.0 1413.0M598.0 1413.0 L610.0 1409.0 L620.0 1405.0 L628.0 1400.0 L638.0 1396.0 L647.0 1394.0 L656.0 1388.0M634.0 1886.0 L630.0 1876.0 L625.0 1869.0 L621.0 1861.0 L614.0 1852.0 L609.0 1844.0 L606.0 1836.0 L600.0 1827.0M600.0 1827.0 L604.0 1818.0M612.0 1118.0 L601.0 1116.0M626.0 813.0 L623.0 805.0 L615.0 797.0 L613.0 787.0 L609.0 780.0 L603.0 773.0M603.0 773.0 L607.0 765.0 L615.0 758.0 L622.0 750.0M603.0 332.0 L616.0 332.0M604.0 1818.0 L616.0 1815.0 L623.0 1814.0 L633.0 1813.0 L642.0 1809.0 L653.0 1809.0 L666.0 1807.0 L675.0 1805.0 L684.0 1802.0M616.0 1535.0 L620.0 1526.0 L625.0 1517.0 L629.0 1506.0 L630.0 1499.0 L631.0 1489.0 L637.0 1482.0 L630.0 1477.0 L622.0 1470.0 L612.0 1467.0 L605.0 1460.0M628.0 2053.0 L631.0 2045.0 L634.0 2035.0 L640.0 2025.0 L643.0 2019.0 L641.0 2011.0 L633.0 2006.0 L624.0 2003.0 L616.0 2004.0 L606.0 1998.0M606.0 1998.0 L606.0 1988.0 L607.0 1978.0 L605.0 1968.0 L608.0 1958.0M659.0 1358.0 L650.0 1351.0 L641.0 1347.0 L633.0 1343.0 L624.0 1336.0 L615.0 1329.0 L606.0 1326.0M606.0 1326.0 L606.0 1318.0 L608.0 1305.0 L605.0 1296.0 L607.0 1288.0 L612.0 1280.0 L619.0 1276.0 L632.0 1276.0 L639.0 1270.0 L650.0 1269.0M619.0 586.0 L608.0 579.0M608.0 1958.0 L601.0 1951.0 L594.0 1943.0 L587.0 1939.0 L578.0 1932.0 L572.0 1926.0 L580.0 1922.0 L588.0 1917.0 L595.0 1912.0 L600.0 1908.0 L610.0 1901.0 L619.0 1895.0 L624.0 1893.0 L634.0 1886.0M608.0 1958.0 L619.0 1957.0 L626.0 1955.0 L639.0 1957.0 L649.0 1954.0 L658.0 1954.0M610.0 422.0 L618.0 416.0 L627.0 407.0 L634.0 401.0M665.0 545.0 L657.0 543.0 L645.0 538.0 L639.0 535.0 L630.0 534.0 L621.0 531.0 L611.0 528.0 L613.0 518.0 L613.0 507.0 L610.0 497.0 L610.0 490.0M610.0 490.0 L619.0 484.0 L632.0 481.0 L641.0 474.0M638.0 1168.0 L633.0 1158.0 L629.0 1152.0 L625.0 1142.0 L621.0 1136.0 L615.0 1125.0 L612.0 1118.0M612.0 1118.0 L618.0 1109.0 L624.0 1104.0 L629.0 1098.0 L637.0 1091.0M659.0 1572.0 L653.0 1565.0 L643.0 1559.0 L639.0 1555.0 L629.0 1545.0 L621.0 1542.0 L616.0 1535.0M632.0 356.0 L627.0 347.0 L623.0 340.0 L616.0 332.0M616.0 332.0 L625.0 325.0 L629.0 318.0 L638.0 312.0M634.0 401.0 L629.0 392.0 L622.0 384.0 L618.0 375.0M618.0 375.0 L626.0 365.0 L632.0 356.0M618.0 662.0 L628.0 665.0 L637.0 672.0 L647.0 674.0M618.0 662.0 L619.0 652.0 L617.0 645.0 L617.0 633.0 L619.0 624.0M626.0 617.0 L622.0 607.0 L619.0 598.0 L619.0 586.0M619.0 586.0 L629.0 584.0 L636.0 577.0 L644.0 574.0 L652.0 569.0 L660.0 564.0 L668.0 560.0M642.0 1703.0 L631.0 1696.0 L619.0 1690.0M619.0 624.0 L626.0 617.0M642.0 461.0 L636.0 450.0 L628.0 443.0 L620.0 434.0M628.0 750.0 L622.0 750.0M637.0 812.0 L626.0 813.0M656.0 670.0 L658.0 661.0 L661.0 650.0 L661.0 641.0 L663.0 631.0 L663.0 626.0 L654.0 621.0 L643.0 621.0 L634.0 617.0 L626.0 617.0M651.0 777.0 L641.0 770.0 L635.0 760.0 L628.0 750.0M628.0 750.0 L634.0 745.0 L643.0 737.0 L646.0 731.0 L655.0 725.0M664.0 1234.0 L657.0 1225.0 L654.0 1219.0 L646.0 1211.0 L641.0 1204.0 L635.0 1196.0 L631.0 1187.0M631.0 1187.0 L637.0 1178.0 L638.0 1168.0M632.0 356.0 L643.0 358.0 L651.0 356.0M653.0 1891.0 L644.0 1889.0 L634.0 1886.0M647.0 401.0 L634.0 401.0M665.0 833.0 L656.0 826.0 L648.0 821.0 L637.0 812.0M637.0 812.0 L638.0 804.0 L645.0 794.0 L649.0 788.0 L651.0 777.0M637.0 1091.0 L649.0 1091.0 L657.0 1095.0 L667.0 1097.0 L681.0 1096.0 L690.0 1097.0M637.0 1091.0 L640.0 1083.0 L636.0 1071.0 L638.0 1062.0 L639.0 1054.0 L639.0 1044.0 L640.0 1032.0 L639.0 1023.0M638.0 1168.0 L648.0 1169.0 L658.0 1165.0 L670.0 1164.0 L677.0 1164.0 L691.0 1162.0 L699.0 1159.0M655.0 725.0 L651.0 719.0 L646.0 713.0 L638.0 703.0M638.0 703.0 L641.0 694.0 L642.0 684.0 L647.0 674.0M703.0 1042.0 L695.0 1037.0 L687.0 1038.0 L677.0 1033.0 L665.0 1030.0 L655.0 1027.0 L650.0 1025.0 L639.0 1023.0M639.0 1023.0 L632.0 1013.0 L630.0 1008.0 L633.0 999.0 L639.0 990.0 L643.0 983.0 L653.0 976.0 L657.0 969.0 L662.0 959.0M686.0 503.0 L677.0 499.0 L669.0 493.0 L658.0 485.0 L649.0 481.0 L641.0 474.0M641.0 474.0 L642.0 461.0M650.0 1726.0 L646.0 1715.0 L642.0 1703.0M642.0 1703.0 L647.0 1697.0 L655.0 1690.0 L665.0 1682.0 L670.0 1676.0 L676.0 1665.0 L685.0 1659.0M642.0 461.0 L649.0 452.0 L657.0 443.0 L663.0 435.0M644.0 2082.0 L657.0 2077.0 L668.0 2076.0 L678.0 2073.0M647.0 674.0 L656.0 670.0M662.0 416.0 L655.0 408.0 L647.0 401.0M647.0 401.0 L650.0 391.0 L657.0 382.0 L661.0 370.0M697.0 1306.0 L689.0 1300.0 L681.0 1293.0 L671.0 1287.0 L665.0 1280.0 L658.0 1273.0 L650.0 1269.0M650.0 1269.0 L654.0 1259.0 L657.0 1253.0 L660.0 1244.0 L664.0 1234.0M681.0 1750.0 L673.0 1743.0 L668.0 1737.0 L660.0 1731.0 L650.0 1726.0M651.0 777.0 L661.0 772.0 L668.0 768.0 L679.0 766.0M662.0 959.0 L659.0 950.0 L659.0 944.0 L656.0 933.0 L654.0 922.0 L654.0 913.0 L651.0 906.0M651.0 906.0 L658.0 899.0 L662.0 891.0 L671.0 887.0 L677.0 877.0 L685.0 871.0M661.0 370.0 L651.0 356.0M651.0 356.0 L655.0 350.0 L658.0 339.0 L663.0 331.0 L663.0 325.0M667.0 1929.0 L663.0 1918.0 L660.0 1912.0 L659.0 1898.0 L653.0 1891.0M653.0 1891.0 L660.0 1883.0 L671.0 1876.0 L677.0 1869.0 L685.0 1862.0 L692.0 1857.0M679.0 766.0 L682.0 758.0 L682.0 748.0 L682.0 738.0 L682.0 730.0 L672.0 729.0 L663.0 727.0 L655.0 725.0M684.0 1427.0 L681.0 1419.0 L675.0 1410.0 L669.0 1403.0 L664.0 1396.0 L656.0 1388.0M656.0 1388.0 L656.0 1379.0 L659.0 1369.0 L659.0 1358.0M695.0 687.0 L687.0 683.0 L677.0 678.0 L664.0 672.0 L656.0 670.0M662.0 1964.0 L658.0 1954.0M658.0 1954.0 L663.0 1944.0 L665.0 1937.0 L667.0 1929.0M659.0 1358.0 L665.0 1353.0 L676.0 1345.0 L681.0 1340.0 L689.0 1334.0 L698.0 1330.0M661.0 1599.0 L659.0 1589.0 L657.0 1582.0 L659.0 1572.0M659.0 1572.0 L665.0 1564.0 L671.0 1561.0 L677.0 1551.0 L684.0 1547.0 L693.0 1542.0 L698.0 1535.0 L707.0 1528.0 L712.0 1522.0M677.0 1612.0 L667.0 1606.0 L661.0 1599.0M687.0 370.0 L674.0 369.0 L661.0 370.0M662.0 1964.0 L672.0 1967.0 L679.0 1974.0 L690.0 1978.0 L701.0 1983.0 L709.0 1986.0M695.0 2033.0 L685.0 2029.0 L679.0 2027.0 L667.0 2019.0 L660.0 2017.0 L651.0 2012.0 L650.0 2007.0 L651.0 1999.0 L653.0 1991.0 L656.0 1983.0 L661.0 1974.0 L662.0 1964.0M741.0 975.0 L730.0 974.0 L726.0 972.0 L714.0 971.0 L707.0 970.0 L697.0 968.0 L689.0 967.0 L678.0 964.0 L671.0 959.0 L662.0 959.0M663.0 435.0 L665.0 427.0 L662.0 416.0M662.0 416.0 L671.0 411.0 L684.0 404.0 L693.0 400.0M702.0 446.0 L690.0 442.0 L682.0 442.0 L673.0 439.0 L663.0 435.0M664.0 1234.0 L676.0 1234.0 L686.0 1232.0 L695.0 1231.0 L705.0 1227.0M668.0 560.0 L665.0 545.0M665.0 545.0 L670.0 537.0 L672.0 526.0 L678.0 520.0 L684.0 510.0 L686.0 503.0M685.0 871.0 L682.0 862.0 L677.0 852.0 L669.0 842.0 L665.0 833.0M665.0 833.0 L672.0 826.0 L675.0 816.0 L683.0 810.0 L689.0 800.0 L692.0 793.0 L698.0 784.0M724.0 1932.0 L714.0 1932.0 L707.0 1932.0 L695.0 1932.0 L686.0 1931.0 L679.0 1929.0 L667.0 1929.0M681.0 575.0 L675.0 567.0 L668.0 560.0M678.0 2139.0 L668.0 2141.0M685.0 1659.0 L683.0 1652.0 L682.0 1638.0 L680.0 1630.0 L679.0 1623.0 L677.0 1612.0M677.0 1612.0 L688.0 1609.0 L695.0 1606.0 L705.0 1604.0 L714.0 1601.0 L726.0 1600.0 L735.0 1595.0 L745.0 1594.0M704.0 2109.0 L699.0 2101.0 L690.0 2089.0 L684.0 2084.0 L678.0 2073.0M678.0 2073.0 L683.0 2064.0 L690.0 2057.0 L691.0 2048.0 L698.0 2040.0M678.0 2139.0 L687.0 2146.0 L690.0 2153.0 L700.0 2156.0 L706.0 2165.0 L711.0 2170.0 L719.0 2165.0 L725.0 2157.0 L729.0 2149.0 L736.0 2141.0 L739.0 2136.0 L746.0 2127.0M678.0 2139.0 L685.0 2132.0 L691.0 2125.0 L697.0 2117.0 L704.0 2109.0M698.0 784.0 L691.0 776.0 L679.0 766.0M681.0 575.0 L693.0 577.0 L703.0 576.0 L716.0 577.0M726.0 644.0 L718.0 642.0 L708.0 639.0 L699.0 636.0 L689.0 632.0 L682.0 627.0 L675.0 624.0 L668.0 620.0 L670.0 613.0 L675.0 600.0 L678.0 595.0 L679.0 585.0 L681.0 575.0M691.0 1787.0 L690.0 1779.0 L687.0 1770.0 L683.0 1757.0 L681.0 1750.0M681.0 1750.0 L689.0 1744.0 L697.0 1737.0 L705.0 1732.0 L714.0 1730.0 L722.0 1724.0 L728.0 1716.0 L736.0 1713.0 L746.0 1707.0M692.0 1857.0 L690.0 1846.0 L688.0 1839.0 L687.0 1830.0 L686.0 1821.0 L687.0 1811.0 L684.0 1802.0M684.0 1802.0 L691.0 1787.0M684.0 1427.0 L696.0 1430.0 L704.0 1430.0 L717.0 1434.0 L728.0 1433.0M712.0 1522.0 L705.0 1519.0 L698.0 1513.0 L690.0 1510.0 L680.0 1503.0 L673.0 1501.0 L661.0 1497.0 L654.0 1494.0 L648.0 1489.0 L641.0 1482.0 L643.0 1476.0 L648.0 1469.0 L654.0 1463.0 L660.0 1453.0 L667.0 1449.0 L670.0 1439.0 L681.0 1432.0 L684.0 1427.0M743.0 1675.0 L731.0 1673.0 L725.0 1668.0 L714.0 1667.0 L704.0 1663.0 L695.0 1662.0 L685.0 1659.0M706.0 870.0 L697.0 870.0 L685.0 871.0M686.0 503.0 L694.0 500.0M686.0 2195.0 L693.0 2186.0 L702.0 2184.0 L708.0 2176.0 L719.0 2177.0 L725.0 2183.0 L732.0 2190.0M693.0 400.0 L690.0 388.0 L688.0 378.0 L687.0 370.0M687.0 370.0 L693.0 362.0 L699.0 354.0M705.0 1149.0 L701.0 1138.0 L701.0 1132.0 L698.0 1123.0 L695.0 1113.0 L692.0 1108.0 L690.0 1097.0M690.0 1097.0 L702.0 1083.0M755.0 1876.0 L757.0 1866.0 L760.0 1859.0 L761.0 1850.0 L760.0 1839.0 L760.0 1831.0 L764.0 1823.0 L767.0 1814.0 L768.0 1804.0 L771.0 1797.0 L765.0 1792.0 L755.0 1793.0 L746.0 1793.0 L737.0 1789.0 L729.0 1790.0 L717.0 1788.0 L709.0 1787.0 L701.0 1788.0 L691.0 1787.0M692.0 1857.0 L699.0 1860.0 L712.0 1863.0 L719.0 1869.0 L730.0 1872.0 L739.0 1874.0 L748.0 1878.0M708.0 408.0 L693.0 400.0M731.0 518.0 L722.0 512.0 L712.0 509.0 L704.0 503.0 L694.0 500.0M694.0 500.0 L698.0 490.0 L703.0 478.0 L704.0 469.0 L710.0 459.0M698.0 2040.0 L695.0 2033.0M695.0 2033.0 L695.0 2022.0 L700.0 2015.0 L705.0 2004.0 L706.0 1996.0 L709.0 1986.0M737.0 742.0 L728.0 741.0 L718.0 736.0 L706.0 736.0 L697.0 733.0 L690.0 728.0 L684.0 724.0 L687.0 714.0 L688.0 706.0 L692.0 699.0 L695.0 687.0M695.0 687.0 L701.0 684.0 L712.0 679.0 L717.0 672.0 L727.0 669.0 L729.0 664.0 L726.0 654.0 L726.0 644.0M696.0 2236.0 L707.0 2232.0 L713.0 2224.0 L723.0 2220.0 L730.0 2217.0M698.0 1330.0 L698.0 1316.0 L697.0 1306.0M697.0 1306.0 L705.0 1299.0 L709.0 1290.0 L719.0 1279.0 L725.0 1272.0M747.0 1356.0 L738.0 1354.0 L728.0 1345.0 L723.0 1342.0 L713.0 1339.0 L706.0 1332.0 L698.0 1330.0M698.0 784.0 L708.0 785.0 L721.0 786.0M698.0 2040.0 L709.0 2043.0 L718.0 2046.0 L730.0 2047.0M719.0 1204.0 L714.0 1194.0 L712.0 1187.0 L705.0 1175.0 L705.0 1167.0 L699.0 1159.0M699.0 1159.0 L705.0 1149.0M710.0 459.0 L702.0 446.0M702.0 446.0 L705.0 438.0 L705.0 426.0 L706.0 419.0 L708.0 408.0M749.0 1090.0 L739.0 1088.0 L728.0 1089.0 L722.0 1085.0 L709.0 1085.0 L702.0 1083.0M702.0 1083.0 L703.0 1074.0 L703.0 1062.0 L702.0 1052.0 L703.0 1042.0M703.0 1042.0 L713.0 1035.0 L720.0 1031.0 L728.0 1025.0 L737.0 1018.0M704.0 2109.0 L712.0 2107.0 L722.0 2107.0 L733.0 2110.0 L745.0 2108.0 L744.0 2119.0 L746.0 2127.0M705.0 1149.0 L717.0 1146.0 L724.0 1145.0 L735.0 1140.0 L747.0 1136.0 L757.0 1134.0M725.0 1272.0 L722.0 1264.0 L718.0 1253.0 L713.0 1246.0 L711.0 1236.0 L705.0 1227.0M705.0 1227.0 L709.0 1220.0 L713.0 1212.0 L719.0 1204.0M754.0 919.0 L748.0 913.0 L742.0 906.0 L732.0 900.0 L726.0 890.0 L719.0 884.0 L713.0 875.0 L706.0 870.0M706.0 870.0 L713.0 864.0 L716.0 855.0 L722.0 852.0 L732.0 843.0 L737.0 837.0M717.0 405.0 L708.0 408.0M709.0 1986.0 L717.0 1982.0 L725.0 1979.0 L733.0 1973.0 L737.0 1971.0 L744.0 1978.0 L746.0 1986.0 L754.0 1997.0 L754.0 2003.0 L760.0 2012.0M710.0 459.0 L721.0 455.0 L733.0 454.0 L745.0 450.0M731.0 2274.0 L719.0 2275.0 L711.0 2275.0M720.0 1521.0 L712.0 1522.0M735.0 622.0 L733.0 612.0 L726.0 602.0 L723.0 596.0 L720.0 588.0 L716.0 577.0M716.0 577.0 L721.0 568.0 L730.0 563.0 L738.0 555.0 L742.0 548.0M717.0 405.0 L725.0 412.0 L733.0 415.0 L743.0 417.0 L751.0 423.0M729.0 380.0 L724.0 387.0 L721.0 399.0 L717.0 405.0M719.0 1204.0 L730.0 1204.0 L737.0 1204.0 L748.0 1203.0 L758.0 1204.0 L765.0 1204.0 L776.0 1208.0 L775.0 1213.0 L773.0 1223.0 L774.0 1232.0 L771.0 1242.0 L768.0 1251.0 L768.0 1260.0 L768.0 1270.0M746.0 1545.0 L739.0 1536.0 L728.0 1531.0 L720.0 1521.0M720.0 1521.0 L722.0 1511.0 L725.0 1503.0 L728.0 1495.0 L732.0 1483.0 L734.0 1476.0 L735.0 1467.0 L738.0 1457.0 L740.0 1447.0M737.0 837.0 L734.0 825.0 L731.0 815.0 L727.0 806.0 L725.0 796.0 L721.0 786.0M721.0 786.0 L729.0 778.0 L738.0 767.0M724.0 1932.0 L729.0 1941.0 L731.0 1950.0 L735.0 1956.0 L740.0 1964.0 L745.0 1963.0 L755.0 1963.0 L763.0 1957.0 L774.0 1954.0 L783.0 1954.0 L791.0 1953.0 L800.0 1948.0M724.0 1932.0 L726.0 1924.0 L731.0 1913.0 L735.0 1907.0 L738.0 1898.0 L742.0 1886.0 L748.0 1878.0M768.0 1270.0 L758.0 1269.0 L745.0 1270.0 L736.0 1272.0 L725.0 1272.0M726.0 644.0 L731.0 631.0 L735.0 622.0M740.0 1447.0 L733.0 1438.0 L728.0 1433.0M728.0 1433.0 L729.0 1422.0 L731.0 1416.0 L735.0 1405.0 L740.0 1396.0 L740.0 1384.0 L743.0 1373.0 L746.0 1364.0 L747.0 1356.0M782.0 2095.0 L774.0 2096.0 L764.0 2100.0 L755.0 2105.0 L745.0 2106.0 L742.0 2101.0 L742.0 2089.0 L740.0 2084.0 L738.0 2072.0 L736.0 2067.0 L732.0 2055.0 L730.0 2047.0M730.0 2047.0 L736.0 2042.0 L747.0 2036.0 L754.0 2032.0M730.0 2217.0 L738.0 2225.0 L746.0 2229.0 L751.0 2234.0 L761.0 2240.0M730.0 2217.0 L730.0 2203.0 L732.0 2190.0M836.0 2311.0 L832.0 2302.0 L824.0 2296.0 L819.0 2289.0 L815.0 2283.0 L809.0 2273.0 L803.0 2267.0 L795.0 2275.0 L792.0 2281.0 L783.0 2286.0 L779.0 2295.0 L771.0 2300.0 L763.0 2304.0 L756.0 2298.0 L751.0 2291.0 L744.0 2288.0 L739.0 2279.0 L731.0 2274.0M731.0 2274.0 L735.0 2269.0 L743.0 2261.0 L747.0 2253.0 L755.0 2246.0 L761.0 2240.0M742.0 548.0 L739.0 538.0 L733.0 526.0 L731.0 518.0M731.0 518.0 L741.0 512.0 L746.0 503.0 L755.0 496.0 L764.0 490.0 L770.0 483.0M732.0 2190.0 L743.0 2187.0 L754.0 2184.0 L765.0 2183.0M735.0 622.0 L745.0 617.0 L755.0 614.0 L763.0 611.0 L772.0 606.0 L779.0 605.0 L790.0 600.0M737.0 837.0 L747.0 837.0 L756.0 833.0 L768.0 833.0M738.0 767.0 L739.0 755.0 L737.0 742.0M737.0 742.0 L741.0 733.0 L748.0 724.0 L755.0 716.0M758.0 1047.0 L754.0 1039.0 L746.0 1025.0 L737.0 1018.0M737.0 1018.0 L738.0 1006.0 L740.0 999.0 L744.0 987.0M781.0 782.0 L772.0 779.0 L764.0 777.0 L754.0 773.0 L747.0 769.0 L738.0 767.0M740.0 1447.0 L752.0 1446.0 L765.0 1448.0M744.0 987.0 L741.0 975.0M741.0 975.0 L748.0 968.0 L752.0 958.0 L758.0 948.0M773.0 556.0 L762.0 552.0 L752.0 548.0 L742.0 548.0M746.0 1707.0 L747.0 1696.0 L745.0 1684.0 L743.0 1675.0M743.0 1675.0 L750.0 1667.0 L755.0 1655.0 L763.0 1648.0 L769.0 1640.0M805.0 1010.0 L796.0 1009.0 L786.0 1002.0 L778.0 999.0 L770.0 999.0 L761.0 994.0 L751.0 991.0 L744.0 987.0M770.0 1626.0 L762.0 1618.0 L759.0 1608.0 L750.0 1604.0 L745.0 1594.0M745.0 1594.0 L744.0 1585.0 L747.0 1576.0 L745.0 1565.0 L745.0 1553.0 L746.0 1545.0M771.0 475.0 L764.0 470.0 L760.0 461.0 L751.0 458.0 L745.0 450.0M745.0 450.0 L749.0 439.0 L749.0 433.0 L751.0 423.0M774.0 2159.0 L767.0 2152.0 L758.0 2142.0 L752.0 2135.0 L746.0 2127.0M786.0 1740.0 L776.0 1733.0 L771.0 1727.0 L762.0 1718.0 L753.0 1714.0 L746.0 1707.0M746.0 1545.0 L755.0 1544.0 L769.0 1542.0 L776.0 1538.0 L787.0 1535.0M747.0 1356.0 L757.0 1353.0M748.0 1878.0 L755.0 1876.0M763.0 1112.0 L754.0 1102.0 L749.0 1090.0M749.0 1090.0 L753.0 1080.0 L754.0 1070.0 L756.0 1059.0 L758.0 1047.0M749.0 2328.0 L757.0 2319.0 L760.0 2314.0 L770.0 2310.0 L775.0 2317.0 L786.0 2323.0 L792.0 2328.0 L800.0 2332.0 L807.0 2340.0M751.0 423.0 L758.0 417.0 L764.0 412.0 L772.0 404.0M797.0 2061.0 L787.0 2054.0 L778.0 2051.0 L771.0 2045.0 L763.0 2037.0 L754.0 2032.0M754.0 2032.0 L756.0 2022.0 L760.0 2012.0M758.0 948.0 L757.0 938.0 L756.0 929.0 L754.0 919.0M754.0 919.0 L763.0 912.0 L770.0 908.0 L773.0 901.0 L782.0 895.0 L786.0 886.0 L794.0 883.0 L802.0 874.0M769.0 1881.0 L755.0 1876.0M769.0 718.0 L755.0 716.0M755.0 716.0 L750.0 707.0 L746.0 701.0 L744.0 692.0 L737.0 679.0 L733.0 671.0 L736.0 667.0 L745.0 666.0 L758.0 666.0 L764.0 662.0 L774.0 659.0 L785.0 658.0 L793.0 659.0 L803.0 656.0M805.0 1373.0 L797.0 1370.0 L784.0 1364.0 L774.0 1360.0 L767.0 1358.0 L757.0 1353.0M757.0 1353.0 L761.0 1343.0 L765.0 1333.0 L771.0 1324.0 L772.0 1316.0 L780.0 1307.0 L784.0 1297.0 L787.0 1288.0M785.0 1169.0 L780.0 1159.0 L770.0 1153.0 L765.0 1145.0 L757.0 1134.0M757.0 1134.0 L762.0 1124.0 L763.0 1112.0M758.0 1047.0 L769.0 1049.0 L776.0 1052.0 L787.0 1052.0 L794.0 1051.0 L804.0 1055.0M802.0 949.0 L791.0 948.0 L782.0 950.0 L770.0 949.0 L758.0 948.0M760.0 2012.0 L766.0 2010.0 L778.0 2006.0 L788.0 2004.0 L796.0 2003.0 L805.0 1999.0 L812.0 1998.0 L814.0 1993.0 L812.0 1983.0 L809.0 1973.0 L804.0 1963.0 L804.0 1958.0 L800.0 1948.0M761.0 2240.0 L777.0 2238.0M763.0 1112.0 L772.0 1108.0 L783.0 1102.0 L793.0 1099.0 L802.0 1096.0M785.0 2211.0 L779.0 2200.0 L770.0 2193.0 L765.0 2183.0M765.0 2183.0 L770.0 2169.0 L774.0 2159.0M797.0 1475.0 L789.0 1470.0 L781.0 1460.0 L774.0 1453.0 L765.0 1448.0M765.0 1448.0 L774.0 1442.0 L778.0 1437.0 L784.0 1431.0 L794.0 1424.0 L800.0 1415.0 L806.0 1410.0 L813.0 1405.0M787.0 1288.0 L779.0 1281.0 L768.0 1270.0M798.0 859.0 L792.0 854.0 L781.0 847.0 L777.0 840.0 L768.0 833.0M768.0 833.0 L774.0 826.0 L776.0 815.0 L783.0 808.0 L785.0 798.0M805.0 1938.0 L801.0 1929.0 L795.0 1921.0 L790.0 1914.0 L786.0 1906.0 L778.0 1897.0 L773.0 1889.0 L769.0 1881.0M769.0 1881.0 L777.0 1876.0 L789.0 1876.0 L796.0 1871.0 L806.0 1866.0 L816.0 1863.0 L824.0 1857.0 L835.0 1855.0M817.0 1671.0 L807.0 1667.0 L801.0 1661.0 L792.0 1655.0 L786.0 1649.0 L778.0 1647.0 L769.0 1640.0M769.0 1640.0 L770.0 1626.0M797.0 756.0 L791.0 750.0 L785.0 741.0 L779.0 732.0 L775.0 727.0 L769.0 718.0M769.0 718.0 L779.0 714.0 L785.0 709.0 L795.0 707.0 L800.0 703.0 L808.0 695.0 L817.0 692.0M770.0 1626.0 L780.0 1621.0 L786.0 1618.0 L796.0 1610.0 L806.0 1607.0 L813.0 1602.0 L823.0 1599.0M876.0 537.0 L871.0 530.0 L867.0 522.0 L864.0 510.0 L864.0 506.0 L860.0 493.0 L855.0 487.0 L852.0 480.0 L847.0 482.0 L839.0 489.0 L831.0 498.0 L826.0 502.0 L818.0 511.0 L815.0 517.0 L806.0 522.0 L799.0 518.0 L793.0 509.0 L789.0 503.0 L784.0 498.0 L775.0 491.0 L770.0 483.0M770.0 483.0 L771.0 475.0M771.0 475.0 L780.0 469.0 L786.0 467.0 L796.0 461.0 L800.0 454.0 L812.0 450.0 L818.0 445.0M790.0 600.0 L784.0 591.0 L784.0 581.0 L779.0 573.0 L777.0 564.0 L773.0 556.0M773.0 556.0 L781.0 549.0 L786.0 542.0 L793.0 535.0 L799.0 533.0 L805.0 527.0 L814.0 532.0 L823.0 537.0 L827.0 547.0 L836.0 552.0 L844.0 557.0 L850.0 563.0M774.0 2159.0 L782.0 2155.0 L795.0 2153.0 L804.0 2152.0M777.0 2238.0 L784.0 2244.0 L791.0 2253.0 L796.0 2258.0 L803.0 2266.0 L811.0 2261.0 L818.0 2256.0 L825.0 2254.0 L833.0 2247.0M777.0 2238.0 L781.0 2229.0 L783.0 2220.0 L785.0 2211.0M785.0 798.0 L781.0 782.0M781.0 782.0 L785.0 774.0 L794.0 766.0 L797.0 756.0M821.0 2128.0 L816.0 2121.0 L806.0 2116.0 L797.0 2110.0 L788.0 2103.0 L782.0 2095.0M782.0 2095.0 L784.0 2088.0 L791.0 2077.0 L793.0 2071.0 L797.0 2061.0M836.0 1225.0 L828.0 1224.0 L818.0 1220.0 L809.0 1217.0 L800.0 1211.0 L791.0 1210.0 L780.0 1204.0 L778.0 1199.0 L783.0 1187.0 L782.0 1180.0 L785.0 1169.0M785.0 1169.0 L793.0 1164.0 L803.0 1160.0 L815.0 1159.0 L821.0 1154.0 L831.0 1149.0 L842.0 1146.0M785.0 2211.0 L795.0 2205.0 L804.0 2201.0 L812.0 2200.0 L821.0 2195.0M785.0 798.0 L794.0 798.0 L807.0 803.0 L814.0 803.0 L826.0 805.0M836.0 1821.0 L828.0 1816.0 L817.0 1814.0 L808.0 1811.0 L800.0 1806.0 L794.0 1800.0 L785.0 1798.0 L777.0 1792.0 L772.0 1784.0 L775.0 1778.0 L779.0 1769.0 L780.0 1757.0 L782.0 1750.0 L786.0 1740.0M786.0 1740.0 L798.0 1738.0 L805.0 1731.0 L817.0 1728.0M787.0 1288.0 L795.0 1289.0 L809.0 1288.0 L818.0 1288.0M828.0 1586.0 L823.0 1577.0 L816.0 1571.0 L812.0 1565.0 L806.0 1556.0 L798.0 1549.0 L793.0 1541.0 L787.0 1535.0M787.0 1535.0 L795.0 1526.0M812.0 612.0 L801.0 607.0 L790.0 600.0M795.0 1526.0 L794.0 1515.0 L796.0 1504.0 L796.0 1494.0 L796.0 1483.0 L797.0 1475.0M795.0 1526.0 L806.0 1526.0 L815.0 1525.0 L828.0 1522.0 L837.0 1521.0M797.0 2061.0 L804.0 2057.0M797.0 1475.0 L805.0 1473.0 L816.0 1473.0 L826.0 1471.0M820.0 752.0 L810.0 756.0 L797.0 756.0M802.0 874.0 L798.0 859.0M798.0 859.0 L805.0 853.0 L811.0 846.0 L818.0 839.0 L829.0 832.0 L834.0 824.0M800.0 1948.0 L805.0 1938.0M833.0 891.0 L821.0 884.0 L812.0 881.0 L802.0 874.0M830.0 1114.0 L822.0 1106.0 L813.0 1102.0 L802.0 1096.0M802.0 1096.0 L801.0 1088.0 L803.0 1075.0 L805.0 1065.0 L804.0 1055.0M833.0 986.0 L829.0 980.0 L821.0 973.0 L813.0 966.0 L809.0 958.0 L802.0 949.0M802.0 949.0 L809.0 941.0 L819.0 936.0 L827.0 931.0 L833.0 923.0M803.0 656.0 L807.0 665.0 L809.0 673.0 L812.0 685.0 L817.0 692.0M803.0 656.0 L807.0 646.0 L809.0 640.0 L811.0 631.0 L814.0 621.0M804.0 1055.0 L811.0 1048.0M846.0 2068.0 L836.0 2065.0 L823.0 2062.0 L813.0 2060.0 L804.0 2057.0M804.0 2057.0 L806.0 2049.0 L807.0 2040.0 L810.0 2030.0 L809.0 2019.0 L812.0 2012.0 L814.0 2000.0 L822.0 2000.0 L830.0 2001.0 L841.0 2000.0 L849.0 2003.0M821.0 2195.0 L820.0 2186.0 L815.0 2178.0 L813.0 2171.0 L807.0 2162.0 L804.0 2152.0M804.0 2152.0 L810.0 2145.0 L817.0 2138.0 L821.0 2128.0M816.0 427.0 L815.0 435.0 L818.0 445.0M813.0 1405.0 L812.0 1393.0 L808.0 1383.0 L805.0 1373.0M805.0 1373.0 L814.0 1367.0 L819.0 1360.0 L827.0 1352.0 L836.0 1343.0M846.0 1925.0 L836.0 1927.0 L826.0 1931.0 L817.0 1937.0 L805.0 1938.0M811.0 1048.0 L810.0 1041.0 L807.0 1030.0 L808.0 1018.0 L805.0 1010.0M805.0 1010.0 L811.0 1002.0 L820.0 1000.0 L826.0 992.0 L833.0 986.0M849.0 1048.0 L838.0 1048.0 L832.0 1047.0 L821.0 1048.0 L811.0 1048.0M814.0 621.0 L812.0 612.0M812.0 612.0 L819.0 602.0 L825.0 596.0 L833.0 591.0 L842.0 580.0 L850.0 574.0M822.0 1409.0 L813.0 1405.0M886.0 736.0 L881.0 729.0 L870.0 725.0 L865.0 719.0 L856.0 712.0 L847.0 708.0 L844.0 702.0 L851.0 694.0 L855.0 687.0 L861.0 680.0 L870.0 671.0 L873.0 668.0 L879.0 658.0 L882.0 651.0 L873.0 650.0 L867.0 643.0 L857.0 641.0 L848.0 637.0 L842.0 633.0 L834.0 630.0 L821.0 627.0 L814.0 621.0M836.0 1821.0 L839.0 1814.0 L846.0 1804.0 L849.0 1796.0 L854.0 1790.0 L860.0 1780.0 L864.0 1774.0 L871.0 1764.0 L863.0 1757.0 L858.0 1752.0 L850.0 1750.0 L840.0 1744.0 L834.0 1739.0 L825.0 1732.0 L817.0 1728.0M817.0 1728.0 L822.0 1717.0 L825.0 1704.0M825.0 1704.0 L822.0 1694.0 L819.0 1681.0 L817.0 1671.0M817.0 1671.0 L824.0 1665.0 L834.0 1660.0 L839.0 1654.0 L847.0 1647.0 L856.0 1639.0M817.0 692.0 L828.0 697.0 L835.0 700.0 L840.0 708.0 L836.0 715.0 L833.0 724.0 L826.0 733.0 L824.0 744.0 L820.0 752.0M818.0 445.0 L827.0 451.0 L834.0 455.0 L840.0 463.0 L849.0 471.0 L858.0 472.0 L868.0 468.0 L876.0 460.0 L885.0 458.0M836.0 1343.0 L833.0 1333.0 L829.0 1326.0 L826.0 1314.0 L823.0 1307.0 L823.0 1299.0 L818.0 1288.0M818.0 1288.0 L825.0 1283.0M842.0 775.0 L836.0 767.0 L828.0 758.0 L820.0 752.0M821.0 2128.0 L835.0 2126.0 L844.0 2124.0M821.0 2195.0 L832.0 2197.0 L837.0 2198.0 L844.0 2189.0 L849.0 2178.0 L855.0 2170.0 L858.0 2163.0 L865.0 2154.0M840.0 1448.0 L838.0 1440.0 L832.0 1430.0 L825.0 1417.0 L822.0 1409.0M822.0 1409.0 L831.0 1408.0 L841.0 1404.0 L851.0 1405.0 L857.0 1401.0 L869.0 1397.0 L877.0 1397.0M856.0 1639.0 L849.0 1633.0 L841.0 1623.0 L837.0 1615.0 L828.0 1606.0 L823.0 1599.0M823.0 1599.0 L828.0 1586.0M895.0 1286.0 L887.0 1286.0 L875.0 1285.0 L864.0 1285.0 L855.0 1286.0 L846.0 1284.0 L835.0 1284.0 L825.0 1283.0M825.0 1283.0 L828.0 1274.0 L827.0 1263.0 L828.0 1255.0 L832.0 1244.0 L834.0 1235.0 L836.0 1225.0M825.0 1704.0 L837.0 1703.0 L847.0 1699.0 L857.0 1692.0 L865.0 1689.0 L876.0 1687.0M850.0 1497.0 L841.0 1489.0 L834.0 1478.0 L826.0 1471.0M826.0 1471.0 L828.0 1463.0 L834.0 1456.0 L840.0 1448.0M834.0 824.0 L830.0 813.0 L826.0 805.0M826.0 805.0 L832.0 795.0 L836.0 784.0 L842.0 775.0M828.0 1586.0 L838.0 1579.0 L842.0 1576.0 L850.0 1572.0 L860.0 1567.0M842.0 1146.0 L840.0 1136.0 L832.0 1125.0 L830.0 1114.0M830.0 1114.0 L838.0 1105.0 L844.0 1100.0 L849.0 1091.0 L853.0 1084.0 L860.0 1077.0 L866.0 1069.0M833.0 2247.0 L840.0 2250.0 L852.0 2253.0 L857.0 2257.0 L867.0 2261.0 L872.0 2259.0 L879.0 2252.0 L883.0 2241.0 L888.0 2235.0M833.0 2247.0 L836.0 2239.0 L834.0 2227.0 L836.0 2220.0 L840.0 2212.0 L844.0 2205.0 L856.0 2210.0 L863.0 2210.0 L871.0 2214.0 L882.0 2214.0M846.0 988.0 L833.0 986.0M833.0 923.0 L834.0 911.0 L831.0 901.0 L833.0 891.0M833.0 891.0 L840.0 885.0 L850.0 883.0M873.0 948.0 L864.0 944.0 L856.0 939.0 L849.0 933.0 L839.0 928.0 L833.0 923.0M834.0 824.0 L843.0 829.0 L852.0 834.0 L863.0 836.0 L869.0 832.0 L877.0 821.0 L881.0 814.0M856.0 1907.0 L851.0 1900.0 L849.0 1890.0 L844.0 1880.0 L844.0 1873.0 L839.0 1861.0 L835.0 1855.0M835.0 1855.0 L841.0 1838.0M836.0 1225.0 L845.0 1219.0 L853.0 1214.0 L860.0 1210.0M841.0 1838.0 L838.0 1831.0 L836.0 1821.0M836.0 1343.0 L845.0 1345.0 L856.0 1346.0 L865.0 1349.0M862.0 1557.0 L853.0 1547.0 L849.0 1538.0 L842.0 1528.0 L837.0 1521.0M837.0 1521.0 L841.0 1510.0 L850.0 1497.0M871.0 1493.0 L871.0 1482.0 L875.0 1476.0 L878.0 1468.0 L879.0 1457.0 L878.0 1447.0 L869.0 1451.0 L859.0 1450.0 L850.0 1450.0 L840.0 1448.0M905.0 1843.0 L897.0 1841.0 L885.0 1841.0 L879.0 1843.0 L867.0 1841.0 L859.0 1839.0 L852.0 1840.0 L841.0 1838.0M869.0 774.0 L859.0 774.0 L853.0 774.0 L842.0 775.0M865.0 1158.0 L853.0 1154.0 L842.0 1146.0M865.0 2154.0 L857.0 2148.0 L853.0 2139.0 L850.0 2130.0 L844.0 2124.0M844.0 2124.0 L848.0 2116.0M848.0 2116.0 L849.0 2104.0 L848.0 2097.0 L848.0 2085.0 L848.0 2076.0 L846.0 2068.0M846.0 2068.0 L856.0 2062.0 L859.0 2054.0 L869.0 2047.0M874.0 1964.0 L869.0 1956.0 L861.0 1946.0 L857.0 1942.0 L852.0 1933.0 L846.0 1925.0M846.0 1925.0 L851.0 1917.0 L856.0 1907.0M860.0 1013.0 L856.0 1005.0 L849.0 997.0 L846.0 988.0M846.0 988.0 L852.0 980.0 L860.0 973.0 L868.0 965.0 L873.0 955.0M909.0 2101.0 L899.0 2102.0 L888.0 2106.0 L880.0 2108.0 L866.0 2109.0 L860.0 2112.0 L848.0 2116.0M866.0 1069.0 L860.0 1060.0 L856.0 1055.0 L849.0 1048.0M849.0 1048.0 L850.0 1040.0 L853.0 1032.0 L859.0 1021.0 L860.0 1013.0M869.0 2031.0 L864.0 2023.0 L857.0 2013.0 L849.0 2003.0M849.0 2003.0 L852.0 1996.0 L860.0 1987.0 L866.0 1977.0 L868.0 1974.0 L874.0 1964.0M850.0 1497.0 L861.0 1497.0 L871.0 1493.0M902.0 611.0 L897.0 603.0 L888.0 600.0 L880.0 594.0 L873.0 589.0 L867.0 587.0 L859.0 581.0 L850.0 574.0M850.0 574.0 L850.0 563.0M901.0 906.0 L892.0 903.0 L886.0 897.0 L873.0 894.0 L869.0 892.0 L857.0 885.0 L850.0 883.0M850.0 883.0 L853.0 874.0 L857.0 865.0 L860.0 857.0 L865.0 848.0 L869.0 843.0 L875.0 844.0 L881.0 846.0 L892.0 852.0 L898.0 859.0 L908.0 860.0 L914.0 866.0M850.0 563.0 L855.0 556.0 L864.0 552.0 L870.0 544.0 L876.0 537.0M856.0 1639.0 L865.0 1641.0M856.0 1907.0 L866.0 1907.0 L873.0 1903.0 L883.0 1903.0 L896.0 1902.0 L904.0 1896.0 L913.0 1896.0M898.0 1597.0 L890.0 1590.0 L881.0 1586.0 L874.0 1578.0 L867.0 1575.0 L860.0 1567.0M860.0 1567.0 L862.0 1557.0M860.0 1013.0 L872.0 1012.0 L880.0 1013.0 L890.0 1011.0 L902.0 1011.0 L910.0 1013.0M898.0 1249.0 L894.0 1242.0 L885.0 1238.0 L878.0 1230.0 L872.0 1225.0 L865.0 1218.0 L860.0 1210.0M860.0 1210.0 L863.0 1200.0 L864.0 1189.0 L868.0 1183.0 L871.0 1172.0M862.0 1557.0 L871.0 1551.0 L879.0 1545.0 L888.0 1536.0 L895.0 1529.0M871.0 1172.0 L865.0 1158.0M865.0 1158.0 L868.0 1152.0 L878.0 1141.0 L880.0 1135.0 L889.0 1128.0 L894.0 1120.0 L899.0 1112.0M880.0 2158.0 L865.0 2154.0M876.0 1687.0 L872.0 1678.0 L874.0 1669.0 L870.0 1659.0 L867.0 1648.0 L865.0 1641.0M865.0 1641.0 L877.0 1637.0 L885.0 1630.0M882.0 1389.0 L878.0 1377.0 L873.0 1368.0 L870.0 1361.0 L865.0 1349.0M865.0 1349.0 L870.0 1342.0 L878.0 1334.0 L887.0 1327.0 L891.0 1318.0 L900.0 1314.0 L907.0 1305.0M873.0 1070.0 L866.0 1069.0M869.0 2047.0 L869.0 2031.0M869.0 2031.0 L879.0 2025.0 L887.0 2023.0 L897.0 2018.0 L901.0 2012.0 L913.0 2004.0 L920.0 2001.0M909.0 2101.0 L911.0 2090.0 L915.0 2079.0 L914.0 2073.0 L904.0 2067.0 L894.0 2063.0 L886.0 2055.0 L879.0 2053.0 L869.0 2047.0M881.0 814.0 L876.0 804.0 L877.0 792.0 L874.0 783.0 L869.0 774.0M869.0 774.0 L875.0 767.0 L881.0 759.0 L889.0 751.0M929.0 1180.0 L921.0 1179.0 L908.0 1175.0 L898.0 1176.0 L892.0 1174.0 L880.0 1175.0 L871.0 1172.0M896.0 1511.0 L888.0 1504.0 L879.0 1500.0 L871.0 1493.0M899.0 1112.0 L895.0 1105.0 L887.0 1096.0 L882.0 1086.0 L878.0 1077.0 L873.0 1070.0M873.0 1070.0 L883.0 1064.0 L889.0 1061.0 L899.0 1054.0 L908.0 1048.0 L919.0 1043.0M910.0 1013.0 L914.0 1006.0 L920.0 994.0 L917.0 989.0 L909.0 984.0 L900.0 977.0 L893.0 974.0 L888.0 968.0 L882.0 962.0 L873.0 955.0M873.0 955.0 L873.0 948.0M873.0 948.0 L879.0 941.0 L887.0 933.0 L896.0 923.0 L904.0 915.0M874.0 1964.0 L887.0 1966.0 L897.0 1965.0M895.0 1698.0 L885.0 1693.0 L876.0 1687.0M916.0 536.0 L907.0 535.0 L897.0 535.0 L888.0 537.0 L876.0 537.0M877.0 1397.0 L880.0 1408.0 L878.0 1415.0 L881.0 1426.0 L882.0 1436.0 L883.0 1447.0 L892.0 1447.0 L905.0 1447.0 L912.0 1451.0M877.0 1397.0 L882.0 1389.0M897.0 2193.0 L891.0 2185.0 L889.0 2178.0 L886.0 2166.0 L880.0 2158.0M880.0 2158.0 L890.0 2155.0 L900.0 2146.0 L909.0 2142.0 L918.0 2137.0 L926.0 2133.0M881.0 814.0 L893.0 814.0 L899.0 811.0 L910.0 808.0 L920.0 808.0M888.0 2235.0 L884.0 2224.0 L882.0 2214.0M882.0 2214.0 L887.0 2202.0 L897.0 2193.0M936.0 1385.0 L924.0 1387.0 L913.0 1385.0 L906.0 1387.0 L894.0 1387.0 L882.0 1389.0M925.0 1658.0 L917.0 1650.0 L908.0 1646.0 L901.0 1640.0 L894.0 1635.0 L885.0 1630.0M885.0 1630.0 L890.0 1618.0 L893.0 1606.0 L898.0 1597.0M889.0 751.0 L886.0 736.0M886.0 736.0 L894.0 729.0 L897.0 721.0 L903.0 717.0 L913.0 711.0 L917.0 703.0M898.0 2237.0 L888.0 2235.0M920.0 808.0 L921.0 801.0 L926.0 790.0 L927.0 782.0 L928.0 773.0 L924.0 767.0 L914.0 763.0 L905.0 756.0 L899.0 756.0 L889.0 751.0M907.0 1305.0 L902.0 1293.0 L895.0 1286.0M895.0 1286.0 L898.0 1275.0 L895.0 1269.0 L898.0 1257.0 L898.0 1249.0M930.0 1559.0 L925.0 1551.0 L914.0 1547.0 L909.0 1540.0 L902.0 1537.0 L895.0 1529.0M895.0 1529.0 L896.0 1511.0M901.0 1713.0 L895.0 1698.0M895.0 1698.0 L902.0 1689.0 L908.0 1683.0 L912.0 1674.0 L921.0 1666.0 L925.0 1658.0M896.0 1511.0 L903.0 1505.0 L911.0 1500.0 L921.0 1495.0 L927.0 1491.0 L927.0 1485.0 L924.0 1475.0 L919.0 1468.0 L918.0 1458.0 L912.0 1451.0M920.0 2001.0 L914.0 1990.0 L907.0 1983.0 L901.0 1974.0 L897.0 1965.0M897.0 1965.0 L902.0 1956.0 L909.0 1951.0 L916.0 1944.0 L923.0 1932.0 L928.0 1927.0 L934.0 1919.0M897.0 2193.0 L907.0 2193.0 L918.0 2192.0 L925.0 2192.0M956.0 657.0 L948.0 655.0 L935.0 654.0 L927.0 648.0 L916.0 649.0 L907.0 643.0 L897.0 642.0M917.0 703.0 L911.0 693.0 L906.0 684.0 L904.0 675.0 L899.0 665.0 L892.0 658.0 L891.0 652.0 L897.0 642.0M897.0 642.0 L900.0 630.0 L900.0 621.0 L902.0 611.0M898.0 1597.0 L905.0 1595.0M898.0 1249.0 L906.0 1244.0 L913.0 1242.0 L924.0 1236.0 L931.0 1232.0 L939.0 1225.0 L945.0 1221.0 L953.0 1218.0M941.0 1107.0 L929.0 1107.0 L919.0 1111.0 L910.0 1112.0 L899.0 1112.0M945.0 1786.0 L947.0 1779.0 L950.0 1770.0 L949.0 1760.0 L950.0 1749.0 L954.0 1739.0 L956.0 1733.0 L957.0 1720.0 L946.0 1721.0 L937.0 1720.0 L929.0 1718.0 L919.0 1718.0 L912.0 1715.0 L901.0 1713.0M933.0 1798.0 L923.0 1792.0 L916.0 1787.0 L907.0 1784.0 L898.0 1780.0 L890.0 1771.0 L884.0 1768.0 L875.0 1762.0 L875.0 1754.0 L881.0 1746.0 L888.0 1739.0 L892.0 1728.0 L898.0 1723.0 L901.0 1713.0M904.0 915.0 L901.0 906.0M901.0 906.0 L905.0 897.0 L906.0 887.0 L912.0 877.0 L914.0 866.0M902.0 611.0 L912.0 603.0 L920.0 595.0M936.0 929.0 L925.0 924.0 L915.0 918.0 L904.0 915.0M913.0 1896.0 L912.0 1884.0 L910.0 1875.0 L909.0 1863.0 L906.0 1856.0 L905.0 1843.0M905.0 1843.0 L910.0 1835.0 L917.0 1826.0 L927.0 1819.0 L933.0 1809.0M948.0 1619.0 L939.0 1614.0 L929.0 1611.0 L923.0 1606.0 L912.0 1602.0 L905.0 1595.0M905.0 1595.0 L911.0 1584.0 L918.0 1575.0 L923.0 1568.0 L930.0 1559.0M914.0 1307.0 L907.0 1305.0M926.0 2133.0 L923.0 2124.0 L916.0 2118.0 L913.0 2110.0 L909.0 2101.0M919.0 1043.0 L915.0 1031.0 L913.0 1024.0 L910.0 1013.0M912.0 1451.0 L917.0 1444.0 L923.0 1437.0 L930.0 1427.0 L938.0 1421.0M935.0 1912.0 L926.0 1906.0 L922.0 1901.0 L913.0 1896.0M952.0 1368.0 L946.0 1359.0 L943.0 1350.0 L935.0 1343.0 L929.0 1332.0 L923.0 1324.0 L918.0 1314.0 L914.0 1307.0M914.0 1307.0 L921.0 1304.0 L929.0 1300.0 L937.0 1296.0 L945.0 1292.0 L955.0 1287.0 L963.0 1282.0 L971.0 1278.0M914.0 866.0 L925.0 863.0 L935.0 854.0 L943.0 851.0M920.0 595.0 L919.0 585.0 L920.0 578.0 L919.0 565.0 L919.0 556.0 L916.0 545.0 L916.0 536.0M916.0 536.0 L922.0 528.0 L929.0 523.0M917.0 703.0 L928.0 701.0 L936.0 703.0 L946.0 706.0M919.0 1043.0 L929.0 1052.0 L939.0 1057.0M945.0 841.0 L939.0 833.0 L933.0 826.0 L925.0 816.0 L920.0 808.0M941.0 2008.0 L930.0 2003.0 L920.0 2001.0M920.0 595.0 L931.0 595.0 L944.0 597.0 L954.0 597.0M925.0 1658.0 L938.0 1656.0M937.0 2138.0 L926.0 2133.0M953.0 1218.0 L948.0 1207.0 L941.0 1197.0 L937.0 1190.0 L929.0 1180.0M929.0 1180.0 L933.0 1170.0 L938.0 1164.0 L942.0 1158.0 L946.0 1149.0 L954.0 1139.0 L958.0 1134.0 L961.0 1124.0M930.0 1559.0 L942.0 1557.0 L954.0 1554.0M953.0 1907.0 L961.0 1901.0 L965.0 1894.0 L973.0 1886.0 L977.0 1880.0 L985.0 1874.0 L990.0 1868.0 L986.0 1861.0 L981.0 1857.0 L971.0 1848.0 L964.0 1840.0 L961.0 1835.0 L953.0 1829.0 L945.0 1821.0 L939.0 1815.0 L933.0 1809.0M933.0 1809.0 L933.0 1798.0M933.0 1798.0 L945.0 1786.0M958.0 1981.0 L956.0 1970.0 L951.0 1964.0 L948.0 1955.0 L944.0 1947.0 L938.0 1935.0 L935.0 1930.0 L934.0 1919.0M934.0 1919.0 L935.0 1912.0M934.0 2184.0 L933.0 2173.0 L933.0 2165.0 L934.0 2157.0 L935.0 2147.0 L937.0 2138.0M935.0 1912.0 L944.0 1911.0 L953.0 1907.0M938.0 1421.0 L936.0 1411.0 L939.0 1405.0 L936.0 1396.0 L936.0 1385.0M936.0 1385.0 L943.0 1377.0 L952.0 1368.0M940.0 936.0 L936.0 929.0M936.0 929.0 L941.0 921.0 L949.0 915.0 L955.0 906.0 L961.0 898.0 L966.0 893.0 L972.0 885.0M937.0 2138.0 L944.0 2135.0 L954.0 2135.0 L962.0 2133.0 L972.0 2130.0M938.0 1421.0 L946.0 1428.0 L952.0 1430.0 L958.0 1438.0 L968.0 1443.0M964.0 1697.0 L957.0 1689.0 L954.0 1682.0 L947.0 1671.0 L944.0 1665.0 L938.0 1656.0M938.0 1656.0 L947.0 1647.0 L952.0 1636.0M941.0 1107.0 L943.0 1098.0 L938.0 1089.0 L940.0 1078.0 L938.0 1069.0 L939.0 1057.0M939.0 1057.0 L950.0 1054.0 L957.0 1051.0 L965.0 1046.0 L976.0 1039.0 L986.0 1039.0 L990.0 1043.0 L993.0 1051.0 L998.0 1063.0 L998.0 1073.0 L1003.0 1079.0M992.0 955.0 L985.0 950.0 L972.0 949.0 L964.0 944.0 L957.0 943.0 L948.0 939.0 L940.0 936.0M973.0 997.0 L963.0 996.0 L956.0 994.0 L945.0 994.0 L934.0 990.0 L924.0 988.0 L927.0 984.0 L930.0 974.0 L929.0 963.0 L936.0 952.0 L938.0 946.0 L940.0 936.0M961.0 1124.0 L949.0 1117.0 L941.0 1107.0M945.0 2016.0 L941.0 2008.0M941.0 2008.0 L948.0 1999.0 L951.0 1990.0 L958.0 1981.0M972.0 885.0 L963.0 877.0 L959.0 868.0 L950.0 860.0 L943.0 851.0M943.0 851.0 L945.0 841.0M945.0 841.0 L953.0 835.0 L962.0 830.0 L971.0 822.0M974.0 2032.0 L965.0 2028.0 L953.0 2022.0 L945.0 2016.0M964.0 2081.0 L955.0 2078.0 L946.0 2078.0 L937.0 2075.0 L929.0 2072.0 L918.0 2072.0 L919.0 2063.0 L922.0 2058.0 L926.0 2050.0 L933.0 2039.0 L935.0 2034.0 L942.0 2023.0 L945.0 2016.0M945.0 1786.0 L955.0 1788.0 L968.0 1784.0 L977.0 1788.0 L989.0 1786.0M957.0 726.0 L953.0 715.0 L946.0 706.0M946.0 706.0 L950.0 697.0 L955.0 690.0 L959.0 679.0 L963.0 673.0M952.0 1636.0 L948.0 1619.0M948.0 1619.0 L953.0 1611.0 L959.0 1601.0 L962.0 1593.0 L969.0 1586.0 L975.0 1577.0M995.0 1641.0 L982.0 1642.0 L971.0 1638.0 L961.0 1635.0 L952.0 1636.0M976.0 1366.0 L965.0 1369.0 L952.0 1368.0M1009.0 1959.0 L1000.0 1951.0 L993.0 1948.0 L988.0 1941.0 L982.0 1933.0 L972.0 1927.0 L968.0 1920.0 L959.0 1911.0 L953.0 1907.0M967.0 1223.0 L953.0 1218.0M973.0 625.0 L968.0 616.0 L959.0 608.0 L954.0 597.0M954.0 597.0 L962.0 587.0 L968.0 579.0 L975.0 570.0M975.0 1577.0 L966.0 1568.0 L960.0 1562.0 L954.0 1554.0M954.0 1554.0 L958.0 1540.0M963.0 673.0 L956.0 657.0M956.0 657.0 L961.0 644.0 L966.0 635.0 L973.0 625.0M977.0 730.0 L969.0 727.0 L957.0 726.0M968.0 784.0 L960.0 782.0 L950.0 776.0 L943.0 772.0 L936.0 769.0 L934.0 764.0 L939.0 755.0 L941.0 748.0 L947.0 739.0 L954.0 733.0 L957.0 726.0M958.0 1540.0 L955.0 1531.0 L949.0 1524.0 L947.0 1514.0 L941.0 1502.0 L938.0 1494.0 L938.0 1486.0 L949.0 1485.0 L954.0 1481.0 L965.0 1476.0M1004.0 1509.0 L994.0 1513.0 L990.0 1519.0 L982.0 1525.0 L972.0 1529.0 L966.0 1533.0 L958.0 1540.0M958.0 1981.0 L967.0 1976.0 L978.0 1975.0 L987.0 1974.0 L995.0 1969.0 L1007.0 1966.0M986.0 1125.0 L975.0 1123.0 L961.0 1124.0M997.0 679.0 L987.0 676.0 L976.0 674.0 L963.0 673.0M964.0 1697.0 L961.0 1706.0 L963.0 1716.0 L967.0 1721.0 L979.0 1724.0 L985.0 1726.0 L994.0 1727.0 L1005.0 1730.0 L1014.0 1734.0 L1023.0 1729.0 L1026.0 1724.0 L1027.0 1714.0 L1032.0 1706.0 L1036.0 1696.0 L1029.0 1690.0 L1024.0 1685.0 L1013.0 1678.0 L1006.0 1676.0 L998.0 1671.0M964.0 1697.0 L974.0 1692.0 L979.0 1684.0 L990.0 1678.0 L998.0 1671.0M1006.0 1495.0 L998.0 1490.0 L991.0 1486.0 L983.0 1481.0 L971.0 1481.0 L965.0 1476.0M965.0 1476.0 L964.0 1466.0 L965.0 1452.0 L968.0 1443.0M966.0 537.0 L969.0 549.0 L973.0 560.0 L975.0 570.0M971.0 1278.0 L972.0 1267.0 L971.0 1259.0 L971.0 1250.0 L967.0 1241.0 L969.0 1232.0 L967.0 1223.0M967.0 1223.0 L980.0 1219.0 L989.0 1213.0 L1000.0 1209.0M968.0 1443.0 L978.0 1439.0 L987.0 1435.0 L999.0 1428.0M971.0 822.0 L971.0 812.0 L969.0 804.0 L970.0 794.0 L968.0 784.0M968.0 784.0 L978.0 781.0 L988.0 771.0 L996.0 768.0M997.0 1297.0 L990.0 1293.0 L979.0 1285.0 L971.0 1278.0M1002.0 826.0 L993.0 823.0 L983.0 822.0 L971.0 822.0M972.0 885.0 L987.0 886.0 L998.0 889.0M1010.0 624.0 L1001.0 625.0 L990.0 624.0 L982.0 625.0 L973.0 625.0M973.0 997.0 L979.0 1006.0 L981.0 1015.0 L985.0 1022.0 L992.0 1031.0 L998.0 1026.0 L1007.0 1025.0 L1016.0 1022.0 L1028.0 1020.0M973.0 997.0 L977.0 987.0 L981.0 980.0 L984.0 973.0 L989.0 964.0 L992.0 955.0M975.0 1577.0 L986.0 1580.0 L997.0 1581.0M975.0 570.0 L985.0 574.0 L996.0 574.0 L1010.0 578.0 L1019.0 580.0M1002.0 1419.0 L995.0 1411.0 L992.0 1400.0 L987.0 1393.0 L982.0 1385.0 L982.0 1376.0 L976.0 1366.0M976.0 1366.0 L989.0 1356.0M996.0 768.0 L990.0 758.0 L984.0 749.0 L983.0 739.0 L977.0 730.0M977.0 730.0 L986.0 725.0 L995.0 720.0 L1003.0 712.0M1012.0 1146.0 L1003.0 1141.0 L992.0 1132.0 L986.0 1125.0M986.0 1125.0 L990.0 1118.0 L992.0 1108.0 L997.0 1100.0 L999.0 1087.0 L1003.0 1079.0M1054.0 1362.0 L1044.0 1360.0 L1037.0 1362.0 L1025.0 1361.0 L1017.0 1357.0 L1009.0 1356.0 L999.0 1359.0 L989.0 1356.0M989.0 1356.0 L990.0 1346.0 L993.0 1337.0 L994.0 1325.0 L994.0 1319.0 L996.0 1308.0 L997.0 1297.0M992.0 955.0 L998.0 952.0M998.0 1671.0 L998.0 1659.0 L995.0 1649.0 L995.0 1641.0M995.0 1641.0 L1002.0 1635.0 L1007.0 1626.0 L1013.0 1621.0 L1021.0 1615.0M1015.0 772.0 L1004.0 769.0 L996.0 768.0M1020.0 1608.0 L1013.0 1603.0 L1008.0 1596.0 L1005.0 1586.0 L997.0 1581.0M997.0 1581.0 L1000.0 1573.0 L1006.0 1566.0 L1011.0 1557.0 L1015.0 1548.0 L1021.0 1541.0M997.0 1297.0 L1007.0 1293.0 L1019.0 1289.0 L1027.0 1290.0 L1037.0 1285.0 L1046.0 1283.0M1005.0 940.0 L1004.0 928.0 L1003.0 921.0 L1000.0 910.0 L1001.0 900.0 L998.0 889.0M998.0 889.0 L1005.0 883.0 L1015.0 878.0 L1022.0 870.0M1041.0 993.0 L1034.0 988.0 L1026.0 980.0 L1020.0 974.0 L1014.0 967.0 L1006.0 960.0 L998.0 952.0M998.0 952.0 L1005.0 940.0M999.0 1428.0 L1005.0 1437.0 L1008.0 1444.0 L1012.0 1452.0 L1016.0 1461.0 L1023.0 1470.0 L1028.0 1476.0 L1034.0 1468.0 L1042.0 1461.0 L1049.0 1455.0 L1055.0 1451.0 L1063.0 1443.0M999.0 1428.0 L1002.0 1419.0M1057.0 1239.0 L1047.0 1236.0 L1040.0 1230.0 L1031.0 1226.0 L1022.0 1220.0 L1014.0 1217.0 L1008.0 1215.0 L1000.0 1209.0M1000.0 1209.0 L1002.0 1200.0 L1002.0 1193.0 L1004.0 1181.0 L1009.0 1175.0 L1008.0 1164.0 L1012.0 1155.0 L1012.0 1146.0M1002.0 1419.0 L1014.0 1418.0 L1024.0 1414.0 L1032.0 1414.0 L1043.0 1411.0 L1054.0 1409.0M1022.0 870.0 L1018.0 864.0 L1013.0 853.0 L1011.0 845.0 L1007.0 833.0 L1002.0 826.0M1002.0 826.0 L1010.0 818.0 L1016.0 807.0 L1023.0 798.0M1052.0 1075.0 L1043.0 1075.0 L1034.0 1075.0 L1021.0 1076.0 L1013.0 1077.0 L1003.0 1079.0M1021.0 1541.0 L1016.0 1531.0 L1012.0 1525.0 L1007.0 1519.0 L1004.0 1509.0M1004.0 1509.0 L1006.0 1495.0M1005.0 940.0 L1018.0 936.0 L1025.0 937.0 L1035.0 935.0 L1046.0 935.0 L1057.0 932.0M1006.0 1495.0 L1016.0 1486.0 L1020.0 1484.0 L1027.0 1481.0 L1038.0 1486.0 L1043.0 1493.0 L1054.0 1500.0 L1059.0 1502.0 L1068.0 1507.0 L1077.0 1514.0M1015.0 629.0 L1010.0 624.0M1010.0 624.0 L1010.0 615.0 L1014.0 600.0 L1016.0 589.0 L1019.0 580.0M1012.0 1146.0 L1020.0 1147.0 L1030.0 1142.0 L1041.0 1143.0 L1048.0 1142.0 L1058.0 1139.0M1023.0 798.0 L1019.0 788.0 L1017.0 783.0 L1015.0 772.0M1015.0 772.0 L1027.0 759.0M1019.0 580.0 L1025.0 576.0M1021.0 1615.0 L1020.0 1608.0M1020.0 1608.0 L1028.0 1604.0 L1037.0 1599.0 L1043.0 1592.0 L1051.0 1585.0 L1057.0 1580.0 L1065.0 1576.0M1054.0 1644.0 L1045.0 1637.0 L1037.0 1631.0 L1030.0 1621.0 L1021.0 1615.0M1021.0 1541.0 L1028.0 1541.0 L1039.0 1545.0 L1050.0 1543.0 L1058.0 1545.0 L1068.0 1547.0M1037.0 871.0 L1022.0 870.0M1066.0 814.0 L1057.0 811.0 L1048.0 809.0 L1038.0 804.0 L1033.0 801.0 L1023.0 798.0M1027.0 759.0 L1029.0 751.0 L1028.0 739.0 L1025.0 732.0 L1027.0 721.0M1027.0 759.0 L1035.0 762.0 L1048.0 759.0 L1055.0 760.0 L1065.0 760.0 L1073.0 759.0M1053.0 1049.0 L1046.0 1043.0 L1042.0 1033.0 L1036.0 1029.0 L1028.0 1020.0M1028.0 1020.0 L1033.0 1013.0 L1037.0 1003.0 L1041.0 993.0M1060.0 925.0 L1055.0 917.0 L1051.0 908.0 L1048.0 897.0 L1045.0 890.0 L1041.0 880.0 L1037.0 871.0M1037.0 871.0 L1046.0 866.0 L1057.0 859.0 L1064.0 855.0M1041.0 993.0 L1049.0 987.0 L1059.0 986.0M1046.0 1283.0 L1050.0 1291.0 L1059.0 1297.0 L1061.0 1304.0 L1069.0 1313.0 L1075.0 1322.0 L1081.0 1332.0 L1088.0 1328.0 L1097.0 1321.0 L1105.0 1318.0 L1111.0 1312.0 L1121.0 1307.0 L1130.0 1302.0 L1136.0 1297.0 L1145.0 1293.0M1046.0 1283.0 L1048.0 1270.0 L1053.0 1260.0 L1054.0 1251.0 L1057.0 1239.0M1062.0 1090.0 L1059.0 1080.0 L1052.0 1075.0M1052.0 1075.0 L1051.0 1060.0 L1053.0 1049.0M1053.0 1049.0 L1064.0 1044.0 L1070.0 1043.0 L1082.0 1037.0 L1090.0 1033.0M1054.0 1409.0 L1052.0 1397.0 L1052.0 1392.0 L1055.0 1381.0 L1055.0 1370.0 L1054.0 1362.0M1054.0 1362.0 L1062.0 1354.0 L1068.0 1347.0 L1074.0 1341.0 L1083.0 1339.0 L1090.0 1347.0 L1095.0 1354.0 L1103.0 1360.0 L1110.0 1367.0 L1119.0 1374.0 L1124.0 1381.0M1066.0 1425.0 L1060.0 1418.0 L1054.0 1409.0M1084.0 1703.0 L1076.0 1700.0 L1063.0 1700.0 L1057.0 1698.0 L1046.0 1694.0 L1035.0 1691.0 L1040.0 1680.0 L1043.0 1671.0 L1048.0 1664.0 L1051.0 1655.0 L1054.0 1644.0M1054.0 1644.0 L1063.0 1644.0M1091.0 1220.0 L1084.0 1224.0 L1075.0 1229.0 L1065.0 1236.0 L1057.0 1239.0M1069.0 964.0 L1065.0 952.0 L1061.0 941.0 L1057.0 932.0M1057.0 932.0 L1060.0 925.0M1078.0 1152.0 L1069.0 1143.0 L1058.0 1139.0M1058.0 1139.0 L1056.0 1128.0 L1059.0 1120.0 L1061.0 1108.0 L1062.0 1098.0 L1062.0 1090.0M1091.0 1012.0 L1085.0 1006.0 L1076.0 1000.0 L1065.0 990.0 L1059.0 986.0M1059.0 986.0 L1066.0 973.0 L1069.0 964.0M1060.0 925.0 L1068.0 920.0 L1075.0 917.0 L1087.0 915.0 L1093.0 911.0 L1104.0 907.0 L1104.0 914.0 L1106.0 925.0 L1112.0 936.0 L1112.0 941.0 L1116.0 951.0M1062.0 1090.0 L1070.0 1086.0 L1079.0 1082.0 L1088.0 1082.0 L1098.0 1077.0 L1110.0 1075.0 L1119.0 1073.0M1095.0 1670.0 L1087.0 1665.0 L1077.0 1655.0 L1071.0 1652.0 L1063.0 1644.0M1063.0 1644.0 L1070.0 1638.0 L1075.0 1630.0 L1086.0 1624.0 L1090.0 1617.0 L1098.0 1609.0M1103.0 1487.0 L1098.0 1479.0 L1089.0 1474.0 L1085.0 1467.0 L1079.0 1459.0 L1072.0 1453.0 L1063.0 1443.0M1063.0 1443.0 L1064.0 1434.0 L1066.0 1425.0M1079.0 861.0 L1064.0 855.0M1064.0 855.0 L1064.0 846.0 L1066.0 836.0 L1065.0 823.0 L1066.0 814.0M1098.0 1609.0 L1090.0 1602.0 L1086.0 1596.0 L1078.0 1588.0 L1071.0 1580.0 L1065.0 1576.0M1065.0 1576.0 L1069.0 1565.0 L1067.0 1556.0 L1068.0 1547.0M1066.0 814.0 L1072.0 807.0M1066.0 1425.0 L1074.0 1424.0 L1085.0 1420.0 L1095.0 1418.0 L1106.0 1419.0 L1115.0 1416.0M1068.0 1547.0 L1074.0 1540.0M1069.0 964.0 L1078.0 962.0 L1091.0 960.0 L1098.0 959.0 L1110.0 959.0M1072.0 807.0 L1072.0 800.0 L1073.0 787.0 L1071.0 776.0 L1072.0 766.0 L1073.0 759.0M1072.0 807.0 L1080.0 806.0 L1093.0 808.0 L1100.0 808.0 L1110.0 805.0 L1123.0 806.0 L1126.0 800.0 L1126.0 791.0 L1127.0 780.0M1073.0 759.0 L1082.0 750.0M1125.0 1555.0 L1115.0 1550.0 L1103.0 1547.0 L1097.0 1548.0 L1084.0 1544.0 L1074.0 1540.0M1074.0 1540.0 L1075.0 1525.0 L1077.0 1514.0M1077.0 1514.0 L1085.0 1508.0 L1091.0 1503.0 L1097.0 1496.0 L1103.0 1487.0M1094.0 1213.0 L1094.0 1206.0 L1091.0 1194.0 L1087.0 1185.0 L1086.0 1180.0 L1084.0 1168.0 L1082.0 1161.0 L1078.0 1152.0M1078.0 1152.0 L1085.0 1146.0 L1096.0 1144.0 L1103.0 1137.0 L1114.0 1131.0 L1125.0 1127.0 L1131.0 1123.0M1079.0 861.0 L1084.0 869.0 L1086.0 878.0 L1094.0 887.0 L1096.0 894.0 L1103.0 903.0 L1105.0 904.0 L1117.0 904.0 L1124.0 897.0 L1133.0 896.0M1079.0 861.0 L1087.0 857.0 L1097.0 853.0 L1108.0 854.0 L1116.0 849.0M1095.0 1670.0 L1090.0 1682.0 L1091.0 1691.0 L1086.0 1700.0M1121.0 1063.0 L1112.0 1054.0 L1107.0 1049.0 L1096.0 1042.0 L1090.0 1033.0M1090.0 1033.0 L1092.0 1024.0 L1091.0 1012.0M1145.0 1293.0 L1140.0 1285.0 L1136.0 1277.0 L1128.0 1271.0 L1123.0 1262.0 L1120.0 1256.0 L1111.0 1248.0 L1106.0 1244.0 L1103.0 1236.0 L1096.0 1225.0 L1091.0 1220.0M1091.0 1220.0 L1094.0 1213.0M1121.0 996.0 L1111.0 1000.0 L1103.0 1006.0 L1091.0 1012.0M1094.0 1213.0 L1105.0 1212.0 L1115.0 1206.0 L1126.0 1204.0 L1133.0 1205.0 L1145.0 1200.0M1127.0 1659.0 L1117.0 1661.0 L1106.0 1665.0 L1095.0 1670.0M1098.0 1609.0 L1107.0 1608.0 L1118.0 1610.0M1125.0 1483.0 L1114.0 1484.0 L1103.0 1487.0M1121.0 996.0 L1117.0 986.0 L1118.0 978.0 L1111.0 968.0 L1110.0 959.0M1110.0 959.0 L1116.0 951.0M1137.0 1444.0 L1128.0 1437.0 L1124.0 1426.0 L1115.0 1416.0M1115.0 1416.0 L1119.0 1407.0 L1121.0 1399.0 L1120.0 1390.0 L1124.0 1381.0M1116.0 951.0 L1127.0 951.0 L1136.0 946.0 L1150.0 945.0 L1159.0 945.0M1143.0 872.0 L1133.0 867.0 L1124.0 855.0 L1116.0 849.0M1116.0 849.0 L1120.0 842.0 L1120.0 829.0 L1125.0 821.0 L1124.0 813.0 L1131.0 809.0 L1141.0 811.0 L1152.0 814.0 L1159.0 818.0M1128.0 1617.0 L1118.0 1610.0M1118.0 1610.0 L1121.0 1600.0 L1119.0 1591.0 L1122.0 1583.0 L1123.0 1575.0 L1122.0 1563.0 L1125.0 1555.0M1135.0 1107.0 L1129.0 1099.0 L1127.0 1090.0 L1122.0 1083.0 L1119.0 1073.0M1119.0 1073.0 L1121.0 1063.0M1140.0 1003.0 L1131.0 1001.0 L1121.0 996.0M1121.0 1063.0 L1130.0 1056.0 L1138.0 1049.0M1124.0 1381.0 L1131.0 1381.0 L1143.0 1375.0 L1152.0 1374.0 L1159.0 1370.0 L1171.0 1370.0 L1178.0 1368.0 L1188.0 1363.0M1204.0 1490.0 L1196.0 1497.0 L1192.0 1503.0 L1183.0 1510.0 L1176.0 1517.0 L1170.0 1523.0 L1162.0 1522.0 L1159.0 1515.0 L1150.0 1509.0 L1144.0 1501.0 L1140.0 1496.0 L1133.0 1488.0 L1125.0 1483.0M1125.0 1483.0 L1126.0 1474.0 L1130.0 1464.0 L1136.0 1454.0 L1137.0 1444.0M1125.0 1555.0 L1132.0 1549.0 L1142.0 1546.0 L1149.0 1540.0 L1158.0 1537.0 L1163.0 1532.0 L1172.0 1538.0 L1176.0 1544.0 L1180.0 1550.0 L1187.0 1559.0M1149.0 1682.0 L1144.0 1675.0 L1134.0 1666.0 L1127.0 1659.0M1128.0 1617.0 L1128.0 1627.0 L1129.0 1637.0 L1129.0 1649.0 L1127.0 1659.0M1165.0 1610.0 L1156.0 1611.0 L1148.0 1615.0 L1136.0 1614.0 L1128.0 1617.0M1167.0 1161.0 L1160.0 1153.0 L1155.0 1148.0 L1147.0 1140.0 L1141.0 1132.0 L1131.0 1123.0M1131.0 1123.0 L1135.0 1107.0M1161.0 927.0 L1153.0 920.0 L1145.0 912.0 L1142.0 902.0 L1133.0 896.0M1133.0 896.0 L1139.0 883.0 L1143.0 872.0M1135.0 1107.0 L1146.0 1103.0 L1155.0 1099.0 L1163.0 1100.0 L1175.0 1097.0 L1182.0 1092.0M1137.0 1444.0 L1147.0 1443.0 L1158.0 1439.0 L1167.0 1435.0 L1180.0 1434.0M1181.0 1052.0 L1171.0 1051.0 L1161.0 1051.0 L1147.0 1048.0 L1138.0 1049.0M1138.0 1049.0 L1137.0 1040.0 L1141.0 1029.0 L1140.0 1022.0 L1141.0 1012.0 L1140.0 1003.0M1140.0 1003.0 L1148.0 1000.0 L1158.0 995.0M1143.0 872.0 L1150.0 868.0 L1160.0 865.0M1188.0 1239.0 L1180.0 1231.0 L1175.0 1226.0 L1165.0 1222.0 L1157.0 1212.0 L1154.0 1209.0 L1145.0 1200.0M1145.0 1200.0 L1152.0 1190.0 L1155.0 1180.0 L1161.0 1173.0 L1167.0 1161.0M1158.0 1295.0 L1145.0 1293.0M1188.0 1328.0 L1184.0 1323.0 L1174.0 1315.0 L1168.0 1309.0 L1162.0 1302.0 L1158.0 1295.0M1158.0 1295.0 L1163.0 1286.0 L1168.0 1279.0 L1172.0 1271.0 L1173.0 1261.0 L1179.0 1255.0 L1186.0 1247.0 L1188.0 1239.0M1186.0 1010.0 L1178.0 1007.0 L1167.0 1000.0 L1158.0 995.0M1158.0 995.0 L1160.0 983.0 L1163.0 975.0 L1166.0 966.0 L1166.0 954.0M1170.0 843.0 L1167.0 835.0 L1162.0 826.0 L1159.0 818.0M1159.0 818.0 L1168.0 810.0 L1178.0 799.0M1166.0 954.0 L1159.0 945.0M1159.0 945.0 L1158.0 935.0 L1161.0 927.0M1192.0 893.0 L1185.0 885.0 L1175.0 880.0 L1168.0 871.0 L1160.0 865.0M1160.0 865.0 L1166.0 853.0 L1170.0 843.0M1192.0 901.0 L1184.0 906.0 L1175.0 913.0 L1169.0 920.0 L1161.0 927.0M1184.0 1630.0 L1178.0 1622.0 L1173.0 1615.0 L1165.0 1610.0M1165.0 1610.0 L1169.0 1602.0 L1175.0 1595.0 L1177.0 1584.0 L1181.0 1576.0 L1184.0 1567.0 L1187.0 1559.0M1166.0 954.0 L1176.0 954.0 L1189.0 955.0 L1198.0 958.0 L1209.0 958.0M1167.0 1161.0 L1178.0 1158.0 L1189.0 1158.0 L1198.0 1156.0 L1208.0 1154.0M1170.0 843.0 L1179.0 842.0 L1193.0 841.0 L1204.0 839.0 L1212.0 841.0M1205.0 1458.0 L1195.0 1451.0 L1189.0 1441.0 L1180.0 1434.0M1180.0 1434.0 L1181.0 1423.0 L1183.0 1415.0 L1183.0 1407.0 L1186.0 1398.0 L1189.0 1387.0 L1189.0 1377.0 L1192.0 1370.0M1182.0 1092.0 L1181.0 1084.0 L1179.0 1072.0 L1181.0 1061.0 L1181.0 1052.0M1181.0 1052.0 L1193.0 1041.0M1208.0 1110.0 L1200.0 1105.0 L1191.0 1099.0 L1182.0 1092.0M1193.0 1041.0 L1191.0 1030.0 L1187.0 1020.0 L1186.0 1010.0M1186.0 1010.0 L1194.0 1003.0 L1202.0 997.0 L1213.0 988.0M1187.0 1559.0 L1196.0 1560.0 L1205.0 1563.0 L1216.0 1566.0 L1229.0 1570.0 L1237.0 1572.0M1188.0 1239.0 L1198.0 1238.0 L1207.0 1235.0 L1212.0 1230.0 L1224.0 1226.0 L1225.0 1221.0 L1226.0 1211.0 L1227.0 1203.0 L1224.0 1192.0 L1225.0 1185.0 L1225.0 1175.0 L1224.0 1166.0M1192.0 1370.0 L1188.0 1363.0M1188.0 1363.0 L1187.0 1352.0 L1190.0 1340.0 L1188.0 1328.0M1188.0 1328.0 L1199.0 1326.0 L1208.0 1319.0 L1214.0 1314.0 L1226.0 1312.0 L1231.0 1309.0 L1241.0 1303.0M1192.0 901.0 L1192.0 893.0M1192.0 893.0 L1199.0 884.0 L1206.0 878.0 L1210.0 873.0 L1220.0 869.0 L1225.0 861.0M1220.0 924.0 L1210.0 916.0 L1200.0 909.0 L1192.0 901.0M1224.0 1381.0 L1215.0 1377.0 L1204.0 1374.0 L1192.0 1370.0M1221.0 1046.0 L1212.0 1044.0 L1203.0 1042.0 L1193.0 1041.0M1259.0 1510.0 L1250.0 1507.0 L1241.0 1502.0 L1231.0 1501.0 L1223.0 1498.0 L1214.0 1492.0 L1204.0 1490.0M1204.0 1490.0 L1206.0 1480.0 L1204.0 1470.0 L1205.0 1458.0M1205.0 1458.0 L1215.0 1453.0 L1220.0 1451.0 L1229.0 1446.0 L1240.0 1443.0 L1249.0 1436.0 L1255.0 1433.0M1208.0 1154.0 L1209.0 1144.0 L1206.0 1134.0 L1210.0 1122.0 L1208.0 1110.0M1208.0 1110.0 L1216.0 1103.0 L1223.0 1097.0 L1232.0 1089.0 L1240.0 1084.0M1224.0 1166.0 L1216.0 1161.0 L1208.0 1154.0M1213.0 988.0 L1210.0 977.0 L1211.0 970.0 L1209.0 958.0M1209.0 958.0 L1218.0 949.0M1212.0 841.0 L1219.0 852.0 L1225.0 861.0M1218.0 813.0 L1217.0 822.0 L1213.0 832.0 L1212.0 841.0M1213.0 988.0 L1219.0 994.0 L1228.0 996.0 L1235.0 1001.0 L1244.0 1006.0 L1252.0 1006.0 L1255.0 995.0 L1258.0 985.0 L1260.0 978.0 L1264.0 972.0 L1267.0 961.0M1267.0 961.0 L1257.0 957.0 L1247.0 955.0 L1239.0 952.0 L1226.0 950.0 L1218.0 949.0M1218.0 949.0 L1220.0 937.0 L1220.0 924.0M1220.0 924.0 L1229.0 920.0 L1237.0 912.0 L1247.0 905.0 L1255.0 900.0M1240.0 1084.0 L1234.0 1073.0 L1232.0 1066.0 L1225.0 1053.0 L1221.0 1046.0M1221.0 1046.0 L1226.0 1037.0 L1233.0 1034.0 L1239.0 1025.0 L1247.0 1018.0 L1251.0 1010.0 L1259.0 1018.0 L1268.0 1019.0 L1275.0 1025.0M1255.0 1433.0 L1248.0 1424.0 L1247.0 1416.0 L1238.0 1406.0 L1234.0 1399.0 L1229.0 1389.0 L1224.0 1381.0M1224.0 1381.0 L1233.0 1375.0 L1243.0 1375.0 L1252.0 1369.0 L1259.0 1367.0 L1267.0 1364.0 L1279.0 1361.0 L1286.0 1356.0 L1285.0 1365.0 L1285.0 1374.0 L1286.0 1385.0 L1283.0 1392.0 L1284.0 1401.0 L1285.0 1411.0 L1285.0 1421.0 L1283.0 1431.0M1224.0 1166.0 L1234.0 1165.0 L1243.0 1161.0 L1252.0 1158.0M1225.0 861.0 L1234.0 864.0 L1244.0 869.0 L1254.0 870.0M1237.0 1572.0 L1242.0 1579.0 L1248.0 1587.0M1259.0 1510.0 L1255.0 1518.0 L1254.0 1529.0 L1248.0 1535.0 L1246.0 1548.0 L1243.0 1553.0 L1238.0 1562.0 L1237.0 1572.0M1262.0 1086.0 L1250.0 1087.0 L1240.0 1084.0M1265.0 1308.0 L1251.0 1307.0 L1241.0 1303.0M1241.0 1303.0 L1238.0 1293.0 L1236.0 1283.0 L1238.0 1273.0 L1236.0 1265.0 L1233.0 1258.0 L1231.0 1247.0 L1227.0 1236.0 L1226.0 1228.0 L1233.0 1227.0 L1244.0 1226.0 L1256.0 1231.0 L1264.0 1231.0 L1274.0 1230.0 L1282.0 1231.0M1300.0 1182.0 L1294.0 1179.0 L1283.0 1173.0 L1274.0 1169.0 L1270.0 1168.0 L1262.0 1163.0 L1252.0 1158.0M1252.0 1158.0 L1259.0 1152.0 L1262.0 1140.0 L1265.0 1135.0 L1271.0 1126.0 L1275.0 1119.0M1255.0 900.0 L1257.0 889.0 L1253.0 880.0 L1254.0 870.0M1254.0 870.0 L1262.0 862.0 L1272.0 856.0 L1273.0 850.0 L1272.0 839.0 L1268.0 828.0 L1268.0 817.0M1276.0 921.0 L1271.0 916.0 L1262.0 909.0 L1255.0 900.0M1278.0 1439.0 L1265.0 1435.0 L1255.0 1433.0M1289.0 1496.0 L1278.0 1500.0 L1268.0 1505.0 L1259.0 1510.0M1275.0 1119.0 L1269.0 1110.0 L1268.0 1099.0 L1262.0 1086.0M1331.0 1131.0 L1334.0 1124.0 L1341.0 1117.0 L1341.0 1108.0 L1335.0 1101.0 L1329.0 1096.0 L1324.0 1089.0 L1315.0 1083.0 L1307.0 1078.0 L1301.0 1071.0 L1297.0 1066.0 L1289.0 1062.0 L1283.0 1068.0 L1274.0 1074.0 L1268.0 1079.0 L1262.0 1086.0M1265.0 1308.0 L1267.0 1317.0 L1273.0 1325.0 L1277.0 1333.0 L1280.0 1345.0 L1284.0 1350.0 L1293.0 1354.0M1265.0 1308.0 L1274.0 1300.0 L1281.0 1292.0 L1286.0 1285.0 L1294.0 1280.0 L1302.0 1272.0M1267.0 961.0 L1273.0 958.0M1308.0 972.0 L1300.0 970.0 L1290.0 965.0 L1282.0 961.0 L1273.0 958.0M1273.0 958.0 L1275.0 951.0 L1276.0 941.0 L1275.0 930.0 L1276.0 921.0M1331.0 1131.0 L1323.0 1130.0 L1313.0 1128.0 L1302.0 1124.0 L1296.0 1122.0 L1284.0 1121.0 L1275.0 1119.0M1275.0 1025.0 L1278.0 1035.0 L1285.0 1043.0 L1288.0 1050.0 L1295.0 1056.0 L1301.0 1051.0 L1308.0 1047.0 L1318.0 1042.0 L1324.0 1037.0 L1334.0 1035.0 L1342.0 1031.0M1275.0 1025.0 L1284.0 1016.0 L1290.0 1014.0 L1298.0 1004.0 L1303.0 997.0 L1308.0 991.0 L1316.0 985.0M1276.0 921.0 L1288.0 920.0 L1296.0 914.0 L1309.0 912.0M1293.0 1476.0 L1290.0 1465.0 L1287.0 1458.0 L1283.0 1448.0 L1278.0 1439.0M1278.0 1439.0 L1283.0 1431.0M1302.0 1272.0 L1300.0 1262.0 L1295.0 1255.0 L1289.0 1249.0 L1286.0 1237.0 L1282.0 1231.0M1282.0 1231.0 L1285.0 1224.0 L1291.0 1217.0 L1300.0 1207.0 L1304.0 1201.0M1329.0 1409.0 L1318.0 1414.0 L1312.0 1417.0 L1300.0 1420.0 L1293.0 1428.0 L1283.0 1431.0M1316.0 1530.0 L1309.0 1522.0 L1304.0 1512.0 L1296.0 1506.0 L1289.0 1496.0M1289.0 1496.0 L1293.0 1487.0 L1293.0 1476.0M1293.0 1476.0 L1300.0 1473.0 L1312.0 1470.0 L1321.0 1471.0 L1330.0 1466.0 L1336.0 1466.0 L1346.0 1461.0 L1354.0 1459.0 L1364.0 1458.0M1330.0 1380.0 L1322.0 1372.0 L1314.0 1365.0 L1304.0 1362.0 L1293.0 1354.0M1293.0 1354.0 L1304.0 1349.0 L1309.0 1343.0 L1316.0 1337.0 L1326.0 1328.0 L1335.0 1324.0M1304.0 1201.0 L1304.0 1194.0 L1300.0 1182.0M1300.0 1182.0 L1307.0 1173.0 L1314.0 1164.0 L1318.0 1158.0 L1326.0 1148.0 L1331.0 1139.0M1302.0 1272.0 L1318.0 1275.0M1345.0 1213.0 L1336.0 1212.0 L1325.0 1208.0 L1315.0 1205.0 L1304.0 1201.0M1309.0 912.0 L1307.0 900.0 L1308.0 890.0 L1307.0 879.0M1307.0 879.0 L1302.0 872.0 L1293.0 870.0 L1284.0 863.0 L1277.0 859.0 L1279.0 853.0 L1286.0 851.0 L1294.0 844.0 L1306.0 841.0 L1314.0 837.0 L1319.0 832.0 L1331.0 827.0 L1331.0 833.0 L1332.0 843.0 L1330.0 851.0 L1333.0 860.0 L1332.0 869.0M1332.0 869.0 L1321.0 873.0 L1307.0 879.0M1316.0 985.0 L1308.0 972.0M1308.0 972.0 L1313.0 963.0 L1319.0 954.0 L1323.0 945.0 L1324.0 940.0 L1329.0 928.0 L1336.0 927.0 L1346.0 933.0 L1355.0 938.0 L1364.0 940.0M1309.0 912.0 L1315.0 916.0 L1324.0 922.0 L1335.0 919.0 L1339.0 909.0 L1345.0 901.0 L1346.0 893.0 L1353.0 884.0M1339.0 996.0 L1326.0 989.0 L1316.0 985.0M1335.0 1324.0 L1331.0 1315.0 L1328.0 1305.0 L1323.0 1295.0 L1322.0 1287.0 L1318.0 1275.0M1318.0 1275.0 L1326.0 1272.0 L1333.0 1268.0 L1344.0 1264.0M1360.0 1428.0 L1350.0 1423.0 L1345.0 1417.0 L1337.0 1414.0 L1329.0 1409.0M1329.0 1409.0 L1330.0 1399.0 L1330.0 1387.0 L1330.0 1380.0M1330.0 1380.0 L1339.0 1376.0 L1351.0 1371.0 L1363.0 1367.0M1331.0 1139.0 L1331.0 1131.0M1376.0 1182.0 L1367.0 1173.0 L1361.0 1167.0 L1352.0 1159.0 L1345.0 1155.0 L1340.0 1146.0 L1331.0 1139.0M1353.0 884.0 L1341.0 874.0 L1332.0 869.0M1352.0 1328.0 L1335.0 1324.0M1342.0 1031.0 L1339.0 1021.0 L1339.0 1008.0 L1339.0 996.0M1339.0 996.0 L1347.0 988.0 L1359.0 983.0M1349.0 1036.0 L1342.0 1031.0M1370.0 1271.0 L1363.0 1267.0 L1351.0 1268.0 L1344.0 1264.0M1344.0 1264.0 L1345.0 1254.0 L1343.0 1243.0 L1346.0 1233.0 L1346.0 1225.0 L1345.0 1213.0M1345.0 1213.0 L1357.0 1206.0 L1365.0 1202.0 L1376.0 1197.0M1355.0 1092.0 L1353.0 1081.0 L1351.0 1072.0 L1351.0 1064.0 L1351.0 1054.0 L1348.0 1047.0 L1349.0 1036.0M1349.0 1036.0 L1360.0 1035.0 L1371.0 1037.0 L1381.0 1035.0 L1391.0 1036.0M1363.0 1367.0 L1362.0 1356.0 L1359.0 1347.0 L1356.0 1338.0 L1352.0 1328.0M1352.0 1328.0 L1362.0 1323.0 L1371.0 1318.0 L1380.0 1312.0 L1389.0 1304.0M1353.0 884.0 L1363.0 880.0 L1372.0 880.0M1406.0 1132.0 L1398.0 1130.0 L1391.0 1124.0 L1379.0 1123.0 L1372.0 1116.0 L1366.0 1115.0 L1353.0 1110.0 L1348.0 1108.0 L1352.0 1101.0 L1355.0 1092.0M1355.0 1092.0 L1363.0 1090.0 L1370.0 1085.0 L1382.0 1081.0 L1391.0 1076.0 L1397.0 1074.0M1391.0 991.0 L1379.0 987.0 L1371.0 986.0 L1359.0 983.0M1359.0 983.0 L1360.0 971.0 L1362.0 961.0 L1365.0 949.0 L1364.0 940.0M1364.0 1458.0 L1363.0 1449.0 L1361.0 1437.0 L1360.0 1428.0M1360.0 1428.0 L1365.0 1422.0 L1375.0 1413.0 L1381.0 1403.0 L1386.0 1394.0M1379.0 1374.0 L1363.0 1367.0M1374.0 1466.0 L1364.0 1458.0M1364.0 940.0 L1374.0 938.0 L1383.0 932.0M1389.0 1304.0 L1386.0 1295.0 L1380.0 1289.0 L1373.0 1278.0 L1370.0 1271.0M1370.0 1271.0 L1375.0 1266.0 L1383.0 1256.0 L1391.0 1250.0 L1398.0 1242.0 L1401.0 1233.0 L1409.0 1226.0M1388.0 918.0 L1382.0 910.0 L1378.0 899.0 L1378.0 890.0 L1372.0 880.0M1372.0 880.0 L1379.0 869.0 L1386.0 860.0M1409.0 1226.0 L1402.0 1218.0 L1394.0 1213.0 L1384.0 1204.0 L1376.0 1197.0M1376.0 1197.0 L1376.0 1182.0M1376.0 1182.0 L1386.0 1175.0 L1392.0 1166.0 L1397.0 1158.0 L1405.0 1153.0 L1413.0 1145.0M1386.0 1394.0 L1381.0 1384.0 L1379.0 1374.0M1379.0 1374.0 L1384.0 1368.0 L1393.0 1363.0 L1401.0 1354.0 L1404.0 1346.0 L1412.0 1341.0M1409.0 955.0 L1400.0 947.0 L1391.0 938.0 L1383.0 932.0M1383.0 932.0 L1388.0 918.0M1426.0 1409.0 L1418.0 1406.0 L1406.0 1402.0 L1398.0 1399.0 L1386.0 1394.0M1388.0 918.0 L1399.0 915.0 L1405.0 909.0 L1414.0 908.0 L1427.0 903.0 L1425.0 895.0 L1418.0 887.0 L1417.0 876.0 L1409.0 870.0M1399.0 1308.0 L1389.0 1304.0M1397.0 1030.0 L1394.0 1019.0 L1393.0 1012.0 L1391.0 1001.0 L1391.0 991.0M1391.0 991.0 L1401.0 985.0 L1409.0 979.0M1397.0 1074.0 L1396.0 1064.0 L1395.0 1057.0 L1393.0 1045.0 L1391.0 1036.0M1391.0 1036.0 L1397.0 1030.0M1433.0 1029.0 L1423.0 1030.0 L1416.0 1028.0 L1407.0 1028.0 L1397.0 1030.0M1419.0 1085.0 L1408.0 1079.0 L1397.0 1074.0M1412.0 1341.0 L1410.0 1329.0 L1403.0 1318.0 L1399.0 1308.0M1399.0 1308.0 L1405.0 1304.0 L1417.0 1297.0 L1425.0 1291.0 L1433.0 1285.0M1413.0 1145.0 L1406.0 1132.0M1406.0 1132.0 L1410.0 1121.0 L1411.0 1114.0 L1415.0 1106.0 L1414.0 1096.0 L1419.0 1085.0M1438.0 992.0 L1428.0 990.0 L1416.0 983.0 L1409.0 979.0M1409.0 979.0 L1411.0 966.0 L1409.0 955.0M1409.0 1226.0 L1415.0 1228.0 L1426.0 1227.0 L1430.0 1217.0 L1437.0 1212.0 L1440.0 1204.0 L1444.0 1194.0 L1447.0 1185.0 L1452.0 1181.0 L1458.0 1171.0M1409.0 955.0 L1416.0 951.0 L1429.0 944.0 L1436.0 941.0M1445.0 1355.0 L1434.0 1350.0 L1425.0 1343.0 L1412.0 1341.0M1450.0 1155.0 L1441.0 1154.0 L1432.0 1148.0 L1421.0 1148.0 L1413.0 1145.0M1419.0 1085.0 L1429.0 1081.0 L1437.0 1080.0 L1448.0 1075.0M1435.0 1426.0 L1431.0 1419.0 L1426.0 1409.0M1426.0 1409.0 L1430.0 1400.0 L1433.0 1391.0 L1437.0 1382.0 L1437.0 1371.0 L1441.0 1365.0 L1445.0 1355.0M1468.0 1299.0 L1461.0 1293.0 L1452.0 1292.0 L1444.0 1289.0 L1433.0 1285.0M1433.0 1285.0 L1432.0 1275.0 L1432.0 1266.0 L1430.0 1257.0 L1431.0 1249.0 L1428.0 1242.0 L1428.0 1233.0 L1438.0 1235.0 L1447.0 1236.0 L1455.0 1238.0 L1463.0 1240.0 L1472.0 1242.0 L1483.0 1243.0M1444.0 1040.0 L1433.0 1029.0M1433.0 1029.0 L1435.0 1021.0 L1436.0 1012.0 L1434.0 1003.0 L1438.0 992.0M1436.0 941.0 L1443.0 947.0 L1454.0 948.0 L1461.0 955.0 L1467.0 956.0 L1476.0 953.0 L1481.0 942.0 L1485.0 935.0 L1490.0 928.0M1436.0 941.0 L1435.0 930.0 L1433.0 918.0 L1434.0 909.0 L1436.0 901.0 L1445.0 900.0 L1456.0 894.0M1438.0 992.0 L1448.0 984.0 L1460.0 981.0M1448.0 1075.0 L1447.0 1062.0 L1445.0 1050.0 L1444.0 1040.0M1444.0 1040.0 L1454.0 1034.0 L1462.0 1030.0 L1473.0 1023.0 L1482.0 1019.0M1464.0 1349.0 L1457.0 1351.0 L1445.0 1355.0M1464.0 1084.0 L1448.0 1075.0M1458.0 1171.0 L1452.0 1164.0 L1450.0 1155.0M1450.0 1155.0 L1454.0 1147.0 L1458.0 1140.0 L1461.0 1131.0 L1467.0 1124.0 L1472.0 1113.0M1490.0 928.0 L1485.0 921.0 L1475.0 915.0 L1468.0 910.0 L1461.0 899.0 L1456.0 894.0M1456.0 894.0 L1459.0 885.0M1458.0 1171.0 L1468.0 1175.0 L1474.0 1179.0 L1487.0 1183.0 L1496.0 1185.0 L1505.0 1182.0 L1510.0 1177.0 L1515.0 1170.0 L1524.0 1162.0 L1530.0 1156.0M1482.0 1019.0 L1479.0 1008.0 L1472.0 999.0 L1467.0 990.0 L1460.0 981.0M1460.0 981.0 L1464.0 972.0 L1468.0 964.0 L1477.0 964.0 L1483.0 971.0 L1492.0 972.0 L1503.0 978.0 L1512.0 982.0 L1520.0 988.0M1472.0 1113.0 L1468.0 1105.0 L1465.0 1096.0 L1464.0 1084.0M1464.0 1084.0 L1474.0 1081.0 L1479.0 1077.0 L1489.0 1069.0 L1496.0 1063.0 L1503.0 1062.0 L1513.0 1060.0 L1514.0 1067.0 L1520.0 1074.0 L1525.0 1086.0 L1530.0 1093.0 L1533.0 1100.0M1481.0 1367.0 L1473.0 1360.0 L1464.0 1349.0M1464.0 1349.0 L1469.0 1338.0 L1475.0 1325.0M1475.0 1325.0 L1470.0 1310.0 L1468.0 1299.0M1468.0 1299.0 L1475.0 1289.0 L1482.0 1282.0 L1490.0 1272.0 L1496.0 1264.0M1519.0 1122.0 L1510.0 1120.0 L1498.0 1117.0 L1490.0 1119.0 L1480.0 1113.0 L1472.0 1113.0M1475.0 1325.0 L1483.0 1325.0 L1491.0 1324.0 L1504.0 1324.0 L1509.0 1324.0 L1520.0 1324.0 L1529.0 1323.0M1481.0 1367.0 L1481.0 1377.0 L1482.0 1388.0 L1480.0 1400.0 L1480.0 1408.0M1519.0 1370.0 L1508.0 1369.0 L1498.0 1368.0 L1491.0 1367.0 L1481.0 1367.0M1482.0 1019.0 L1493.0 1021.0 L1505.0 1025.0M1496.0 1264.0 L1491.0 1255.0 L1483.0 1243.0M1483.0 1243.0 L1488.0 1235.0 L1487.0 1224.0 L1493.0 1214.0 L1493.0 1207.0 L1499.0 1198.0 L1503.0 1190.0 L1509.0 1197.0 L1515.0 1200.0 L1524.0 1207.0 L1529.0 1213.0 L1538.0 1220.0M1499.0 925.0 L1490.0 928.0M1496.0 1264.0 L1504.0 1263.0 L1517.0 1267.0 L1522.0 1267.0 L1534.0 1267.0 L1535.0 1256.0 L1533.0 1248.0 L1537.0 1240.0 L1535.0 1231.0 L1538.0 1220.0M1499.0 925.0 L1506.0 931.0 L1517.0 931.0 L1527.0 937.0M1509.0 894.0 L1506.0 903.0 L1503.0 915.0 L1499.0 925.0M1505.0 1025.0 L1504.0 1035.0 L1509.0 1043.0 L1511.0 1052.0 L1518.0 1054.0 L1527.0 1052.0 L1537.0 1054.0 L1547.0 1054.0 L1557.0 1049.0 L1568.0 1050.0M1505.0 1025.0 L1509.0 1017.0 L1514.0 1010.0 L1522.0 1003.0M1530.0 1156.0 L1528.0 1147.0 L1524.0 1138.0 L1520.0 1130.0 L1519.0 1122.0M1519.0 1122.0 L1524.0 1111.0 L1533.0 1100.0M1522.0 1003.0 L1520.0 988.0M1520.0 988.0 L1527.0 978.0 L1529.0 971.0 L1535.0 961.0M1569.0 1014.0 L1561.0 1014.0 L1550.0 1009.0 L1542.0 1008.0 L1529.0 1007.0 L1522.0 1003.0M1535.0 961.0 L1530.0 950.0 L1527.0 937.0M1527.0 937.0 L1535.0 929.0 L1541.0 923.0 L1552.0 916.0 L1559.0 911.0M1530.0 1156.0 L1544.0 1157.0 L1555.0 1159.0M1564.0 1095.0 L1554.0 1099.0 L1543.0 1097.0 L1533.0 1100.0M1563.0 964.0 L1556.0 964.0 L1544.0 963.0 L1535.0 961.0M1538.0 1220.0 L1549.0 1216.0 L1556.0 1215.0 L1562.0 1210.0 L1572.0 1206.0M1541.0 1294.0 L1539.0 1285.0 L1537.0 1278.0 L1533.0 1268.0 L1541.0 1267.0 L1552.0 1264.0 L1560.0 1261.0 L1569.0 1260.0 L1577.0 1255.0 L1586.0 1252.0M1571.0 1176.0 L1563.0 1168.0 L1555.0 1159.0M1555.0 1159.0 L1559.0 1149.0 L1567.0 1140.0 L1573.0 1134.0 L1578.0 1125.0M1559.0 911.0 L1564.0 921.0 L1570.0 928.0 L1572.0 935.0 L1578.0 943.0M1559.0 911.0 L1562.0 900.0M1577.0 988.0 L1570.0 980.0 L1569.0 972.0 L1563.0 964.0M1578.0 943.0 L1571.0 952.0 L1563.0 964.0M1578.0 1125.0 L1575.0 1117.0 L1568.0 1107.0 L1564.0 1095.0M1564.0 1095.0 L1572.0 1085.0 L1578.0 1074.0M1578.0 1074.0 L1571.0 1063.0 L1568.0 1050.0M1568.0 1050.0 L1571.0 1041.0 L1571.0 1031.0 L1574.0 1023.0M1574.0 1023.0 L1569.0 1014.0M1569.0 1014.0 L1572.0 1006.0 L1572.0 994.0 L1577.0 988.0M1572.0 1206.0 L1573.0 1197.0 L1573.0 1184.0 L1571.0 1176.0M1571.0 1176.0 L1579.0 1172.0 L1587.0 1170.0 L1598.0 1170.0 L1606.0 1169.0 L1615.0 1164.0 L1624.0 1162.0M1597.0 1228.0 L1589.0 1222.0 L1581.0 1215.0 L1572.0 1206.0M1574.0 1023.0 L1584.0 1025.0 L1595.0 1024.0 L1604.0 1023.0M1577.0 988.0 L1585.0 984.0 L1595.0 981.0 L1605.0 976.0 L1617.0 972.0M1618.0 1129.0 L1610.0 1128.0 L1597.0 1128.0 L1589.0 1127.0 L1578.0 1125.0M1578.0 1074.0 L1590.0 1076.0 L1601.0 1078.0 L1612.0 1079.0 L1621.0 1079.0M1578.0 943.0 L1586.0 943.0 L1596.0 943.0 L1607.0 944.0M1596.0 1271.0 L1589.0 1261.0 L1586.0 1252.0M1586.0 1252.0 L1593.0 1241.0 L1597.0 1228.0M1615.0 929.0 L1608.0 921.0 L1606.0 914.0 L1598.0 905.0 L1594.0 898.0M1597.0 1228.0 L1606.0 1225.0 L1614.0 1224.0 L1622.0 1221.0 L1632.0 1220.0M1617.0 1037.0 L1609.0 1028.0 L1604.0 1023.0M1604.0 1023.0 L1611.0 1016.0 L1614.0 1007.0 L1622.0 1001.0 L1628.0 991.0M1617.0 972.0 L1614.0 961.0 L1612.0 955.0 L1607.0 944.0M1607.0 944.0 L1615.0 929.0M1628.0 924.0 L1615.0 929.0M1623.0 976.0 L1617.0 972.0M1624.0 1162.0 L1620.0 1153.0 L1622.0 1142.0 L1618.0 1129.0M1618.0 1129.0 L1624.0 1117.0 L1630.0 1107.0M1630.0 1107.0 L1625.0 1097.0 L1624.0 1090.0 L1621.0 1079.0M1621.0 1079.0 L1627.0 1071.0 L1631.0 1061.0 L1630.0 1051.0M1628.0 991.0 L1623.0 976.0M1623.0 976.0 L1632.0 971.0 L1642.0 967.0 L1653.0 959.0M1636.0 1174.0 L1624.0 1162.0M1647.0 826.0 L1638.0 819.0 L1627.0 810.0M1655.0 1008.0 L1644.0 1003.0 L1639.0 997.0 L1628.0 991.0M1665.0 1112.0 L1655.0 1111.0 L1643.0 1107.0 L1630.0 1107.0M1651.0 1236.0 L1647.0 1246.0 L1643.0 1255.0 L1639.0 1267.0 L1636.0 1277.0 L1632.0 1286.0M1651.0 1236.0 L1640.0 1228.0 L1632.0 1220.0M1632.0 1220.0 L1632.0 1212.0 L1635.0 1203.0 L1635.0 1194.0 L1635.0 1182.0 L1636.0 1174.0M1636.0 867.0 L1637.0 858.0 L1644.0 848.0 L1643.0 837.0 L1647.0 826.0M1647.0 883.0 L1636.0 873.0M1636.0 1174.0 L1648.0 1169.0 L1658.0 1170.0 L1666.0 1165.0 L1677.0 1164.0 L1687.0 1160.0M1647.0 826.0 L1661.0 825.0M1679.0 1239.0 L1670.0 1236.0 L1658.0 1238.0 L1651.0 1236.0M1681.0 870.0 L1670.0 875.0 L1664.0 880.0 L1654.0 882.0M1660.0 769.0 L1665.0 776.0 L1673.0 784.0 L1679.0 791.0 L1679.0 802.0 L1674.0 807.0 L1666.0 815.0 L1661.0 825.0M1681.0 870.0 L1685.0 861.0 L1688.0 853.0 L1684.0 844.0 L1676.0 836.0 L1669.0 832.0 L1661.0 825.0M1671.0 993.0 L1674.0 985.0 L1677.0 974.0M1686.0 1282.0 L1686.0 1273.0 L1682.0 1260.0 L1682.0 1251.0 L1679.0 1239.0M1702.0 1226.0 L1688.0 1231.0 L1679.0 1239.0M1727.0 879.0 L1717.0 884.0 L1708.0 889.0 L1702.0 887.0 L1695.0 881.0 L1690.0 875.0 L1681.0 870.0M1750.0 905.0 L1742.0 897.0 L1735.0 890.0 L1727.0 879.0M1727.0 879.0 L1732.0 864.0M1742.0 928.0 L1746.0 918.0M1747.0 914.0 L1750.0 905.0M1750.0 905.0 L1762.0 899.0 L1772.0 896.0 L1781.0 892.0M1790.0 945.0 L1781.0 945.0 L1771.0 943.0M1781.0 892.0 L1779.0 881.0 L1778.0 874.0M1781.0 892.0 L1794.0 900.0M1795.0 952.0 L1792.0 964.0 L1785.0 974.0 L1782.0 985.0M1795.0 952.0 L1790.0 945.0M1790.0 945.0 L1792.0 934.0 L1790.0 923.0 L1792.0 911.0 L1794.0 900.0M1794.0 900.0 L1803.0 897.0 L1815.0 897.0M1823.0 954.0 L1815.0 952.0 L1806.0 955.0 L1795.0 952.0M1841.0 916.0 L1831.0 911.0 L1823.0 904.0 L1815.0 897.0M1815.0 897.0 L1820.0 889.0 L1825.0 877.0 L1827.0 868.0M1836.0 970.0 L1830.0 960.0 L1823.0 954.0M1841.0 916.0 L1838.0 924.0 L1833.0 934.0 L1828.0 947.0 L1823.0 954.0M1835.0 994.0 L1836.0 980.0 L1836.0 970.0M1836.0 970.0 L1844.0 968.0 L1854.0 964.0 L1864.0 961.0 L1874.0 959.0M1862.0 913.0 L1854.0 914.0 L1841.0 916.0M1856.0 869.0 L1858.0 876.0 L1862.0 886.0 L1866.0 898.0 L1871.0 906.0M1874.0 959.0 L1872.0 951.0 L1870.0 941.0 L1867.0 930.0 L1866.0 921.0 L1862.0 913.0M1862.0 913.0 L1871.0 906.0M1871.0 906.0 L1885.0 903.0M1889.0 966.0 L1874.0 959.0M1909.0 933.0 L1903.0 927.0 L1898.0 919.0 L1893.0 910.0 L1885.0 903.0M1885.0 903.0 L1890.0 897.0 L1897.0 891.0 L1905.0 883.0M1886.0 992.0 L1887.0 977.0 L1889.0 966.0M1903.0 1131.0 L1894.0 1136.0 L1888.0 1142.0M1889.0 966.0 L1900.0 961.0M1906.0 1101.0 L1895.0 1091.0M1938.0 975.0 L1930.0 970.0 L1921.0 967.0 L1910.0 965.0 L1900.0 961.0M1900.0 961.0 L1903.0 953.0 L1905.0 942.0 L1909.0 933.0M1905.0 883.0 L1902.0 867.0M1925.0 1135.0 L1916.0 1133.0 L1903.0 1131.0M1903.0 1131.0 L1903.0 1122.0 L1905.0 1112.0 L1906.0 1101.0M1936.0 889.0 L1924.0 887.0 L1914.0 886.0 L1905.0 883.0M1906.0 1101.0 L1914.0 1099.0 L1923.0 1095.0 L1933.0 1089.0 L1939.0 1088.0 L1950.0 1083.0 L1951.0 1091.0 L1956.0 1100.0M1909.0 933.0 L1917.0 930.0 L1929.0 928.0 L1938.0 926.0M1927.0 810.0 L1936.0 802.0M1938.0 926.0 L1939.0 918.0 L1938.0 908.0 L1936.0 899.0 L1936.0 889.0M1936.0 889.0 L1944.0 884.0 L1953.0 879.0M1970.0 812.0 L1959.0 809.0 L1949.0 805.0 L1936.0 802.0M1936.0 802.0 L1936.0 790.0M2010.0 1073.0 L2003.0 1065.0 L1997.0 1058.0 L1992.0 1050.0 L1984.0 1055.0 L1977.0 1058.0 L1972.0 1063.0 L1963.0 1071.0 L1955.0 1075.0 L1948.0 1084.0 L1944.0 1075.0 L1937.0 1067.0M1961.0 945.0 L1952.0 936.0 L1946.0 933.0 L1938.0 926.0M1940.0 993.0 L1939.0 986.0 L1938.0 975.0M1938.0 975.0 L1944.0 969.0 L1950.0 962.0 L1957.0 954.0 L1961.0 945.0M1955.0 855.0 L1949.0 851.0M1953.0 1110.0 L1956.0 1100.0M1979.0 894.0 L1971.0 888.0 L1961.0 882.0 L1953.0 879.0M1953.0 879.0 L1953.0 868.0 L1955.0 855.0M1955.0 855.0 L1966.0 847.0 L1975.0 840.0M1956.0 1100.0 L1966.0 1103.0 L1976.0 1104.0 L1984.0 1108.0 L1994.0 1112.0M1961.0 945.0 L1973.0 943.0M1968.0 1006.0 L1974.0 1000.0 L1980.0 991.0 L1986.0 987.0 L1994.0 979.0M2015.0 1177.0 L2007.0 1176.0 L1995.0 1174.0 L1988.0 1171.0 L1978.0 1170.0 L1970.0 1169.0M1975.0 840.0 L1973.0 830.0 L1973.0 821.0 L1970.0 812.0M1970.0 812.0 L1978.0 804.0 L1984.0 799.0 L1990.0 792.0M1994.0 979.0 L1989.0 970.0 L1983.0 963.0 L1979.0 950.0 L1973.0 943.0M1973.0 943.0 L1977.0 938.0M1974.0 1025.0 L1979.0 1031.0 L1986.0 1041.0 L1994.0 1046.0 L2001.0 1038.0 L2007.0 1033.0 L2016.0 1029.0M1998.0 847.0 L1986.0 843.0 L1975.0 840.0M1975.0 1150.0 L1982.0 1143.0 L1987.0 1139.0 L1995.0 1132.0 L2001.0 1124.0M1977.0 938.0 L1980.0 926.0 L1977.0 918.0 L1980.0 906.0 L1979.0 894.0M1979.0 894.0 L1989.0 889.0 L1996.0 886.0 L2004.0 883.0 L2009.0 885.0 L2014.0 894.0 L2019.0 903.0 L2021.0 914.0 L2024.0 921.0 L2026.0 929.0 L2016.0 932.0 L2007.0 934.0 L1997.0 935.0 L1988.0 935.0 L1977.0 938.0M2003.0 1214.0 L1992.0 1213.0 L1985.0 1215.0M1986.0 785.0 L1990.0 792.0M1990.0 792.0 L2001.0 792.0M2012.0 984.0 L2001.0 980.0 L1994.0 979.0M2001.0 1124.0 L1994.0 1112.0M1994.0 1112.0 L1997.0 1104.0 L2004.0 1092.0 L2006.0 1084.0 L2010.0 1073.0M1998.0 847.0 L2001.0 856.0 L2004.0 866.0 L2011.0 873.0 L2017.0 877.0 L2026.0 875.0 L2038.0 870.0 L2046.0 870.0M1998.0 847.0 L2007.0 842.0 L2012.0 832.0 L2016.0 829.0 L2024.0 821.0 L2018.0 813.0 L2015.0 808.0 L2005.0 797.0 L2001.0 792.0M2001.0 792.0 L2006.0 784.0 L2016.0 774.0 L2023.0 766.0M2019.0 1132.0 L2010.0 1127.0 L2001.0 1124.0M2014.0 1244.0 L2010.0 1236.0 L2007.0 1224.0 L2003.0 1214.0M2003.0 1214.0 L2008.0 1208.0 L2014.0 1202.0 L2022.0 1192.0 L2021.0 1184.0 L2015.0 1177.0M2033.0 1080.0 L2022.0 1079.0 L2010.0 1073.0M2016.0 1029.0 L2013.0 1017.0 L2013.0 1004.0 L2014.0 996.0 L2012.0 984.0M2012.0 984.0 L2024.0 977.0M2015.0 1177.0 L2019.0 1167.0 L2017.0 1160.0 L2020.0 1152.0 L2023.0 1141.0M2056.0 1060.0 L2056.0 1049.0 L2052.0 1044.0 L2050.0 1035.0 L2042.0 1028.0 L2033.0 1031.0 L2026.0 1029.0 L2016.0 1029.0M2017.0 754.0 L2023.0 766.0M2023.0 1141.0 L2019.0 1132.0M2019.0 1132.0 L2028.0 1125.0 L2034.0 1113.0 L2043.0 1105.0M2023.0 766.0 L2034.0 769.0 L2050.0 770.0M2046.0 1147.0 L2034.0 1145.0 L2023.0 1141.0M2052.0 986.0 L2043.0 982.0 L2035.0 982.0 L2024.0 977.0M2024.0 977.0 L2024.0 969.0 L2029.0 957.0 L2027.0 950.0 L2032.0 941.0 L2034.0 932.0 L2042.0 929.0M2043.0 1105.0 L2037.0 1096.0 L2035.0 1090.0 L2033.0 1080.0M2033.0 1080.0 L2039.0 1072.0 L2050.0 1066.0 L2056.0 1060.0M2074.0 952.0 L2068.0 944.0 L2059.0 940.0 L2051.0 935.0 L2042.0 929.0M2042.0 929.0 L2050.0 922.0 L2054.0 911.0 L2058.0 902.0 L2066.0 893.0M2049.0 1106.0 L2043.0 1105.0M2061.0 751.0 L2058.0 742.0 L2049.0 733.0 L2046.0 726.0M2066.0 893.0 L2059.0 886.0 L2054.0 876.0 L2046.0 870.0M2046.0 870.0 L2050.0 855.0M2060.0 799.0 L2055.0 790.0 L2055.0 780.0 L2050.0 770.0M2050.0 770.0 L2054.0 760.0 L2061.0 751.0M2050.0 855.0 L2045.0 848.0 L2038.0 837.0 L2035.0 832.0 L2032.0 823.0 L2036.0 816.0 L2046.0 810.0 L2053.0 804.0 L2060.0 799.0M2050.0 855.0 L2061.0 850.0 L2070.0 844.0 L2078.0 841.0M2084.0 1022.0 L2072.0 1025.0 L2062.0 1023.0 L2053.0 1027.0 L2054.0 1018.0 L2052.0 1007.0 L2052.0 997.0 L2052.0 986.0M2052.0 986.0 L2062.0 981.0 L2069.0 976.0M2056.0 1060.0 L2066.0 1064.0 L2072.0 1067.0 L2084.0 1073.0M2075.0 804.0 L2060.0 799.0M2061.0 751.0 L2074.0 750.0 L2084.0 746.0M2073.0 893.0 L2066.0 893.0M2096.0 997.0 L2086.0 989.0 L2077.0 983.0 L2069.0 976.0M2069.0 976.0 L2070.0 963.0 L2074.0 952.0M2098.0 920.0 L2093.0 913.0 L2086.0 907.0 L2078.0 900.0 L2073.0 893.0M2073.0 893.0 L2080.0 889.0 L2090.0 882.0 L2094.0 874.0 L2103.0 868.0M2074.0 952.0 L2087.0 947.0M2078.0 841.0 L2076.0 834.0 L2078.0 822.0 L2075.0 814.0 L2075.0 804.0M2075.0 804.0 L2087.0 800.0M2105.0 857.0 L2095.0 854.0 L2087.0 848.0 L2078.0 841.0M2084.0 1073.0 L2082.0 1089.0M2109.0 1054.0 L2099.0 1060.0 L2092.0 1067.0 L2084.0 1073.0M2109.0 1054.0 L2102.0 1048.0 L2098.0 1039.0 L2090.0 1029.0 L2084.0 1022.0M2084.0 1022.0 L2089.0 1013.0 L2090.0 1007.0 L2096.0 997.0M2091.0 730.0 L2084.0 717.0M2106.0 771.0 L2097.0 761.0 L2092.0 754.0 L2084.0 746.0M2084.0 746.0 L2091.0 730.0M2124.0 967.0 L2115.0 961.0 L2104.0 956.0 L2095.0 950.0 L2087.0 947.0M2087.0 947.0 L2089.0 936.0 L2093.0 928.0 L2098.0 920.0M2115.0 818.0 L2104.0 814.0 L2095.0 804.0 L2087.0 800.0M2087.0 800.0 L2094.0 789.0 L2102.0 783.0 L2106.0 771.0M2117.0 721.0 L2109.0 723.0 L2097.0 728.0 L2091.0 730.0M2096.0 997.0 L2105.0 996.0 L2114.0 991.0 L2122.0 990.0 L2125.0 1000.0 L2125.0 1012.0 L2128.0 1022.0 L2132.0 1030.0 L2133.0 1039.0M2098.0 920.0 L2109.0 920.0 L2118.0 915.0 L2126.0 914.0M2126.0 914.0 L2134.0 904.0 L2128.0 896.0 L2122.0 890.0 L2113.0 885.0 L2110.0 874.0 L2103.0 868.0M2103.0 868.0 L2105.0 857.0M2105.0 857.0 L2112.0 852.0M2106.0 771.0 L2121.0 770.0M2123.0 1054.0 L2109.0 1054.0M2111.0 693.0 L2121.0 705.0M2150.0 852.0 L2142.0 854.0 L2133.0 852.0 L2122.0 854.0 L2112.0 852.0M2112.0 852.0 L2113.0 839.0 L2114.0 829.0 L2115.0 818.0M2115.0 818.0 L2122.0 815.0 L2132.0 812.0 L2140.0 807.0M2133.0 739.0 L2123.0 731.0 L2117.0 721.0M2117.0 721.0 L2121.0 705.0M2139.0 783.0 L2130.0 777.0 L2121.0 770.0M2121.0 770.0 L2124.0 758.0 L2129.0 751.0 L2133.0 739.0M2121.0 705.0 L2131.0 699.0 L2141.0 695.0 L2152.0 694.0M2143.0 991.0 L2132.0 991.0 L2125.0 986.0 L2124.0 978.0 L2124.0 967.0M2124.0 967.0 L2135.0 955.0M2135.0 955.0 L2133.0 946.0 L2133.0 936.0 L2129.0 926.0 L2126.0 914.0M2167.0 733.0 L2155.0 735.0 L2146.0 735.0 L2133.0 739.0M2135.0 955.0 L2144.0 951.0 L2157.0 953.0 L2166.0 953.0 L2178.0 950.0M2140.0 807.0 L2138.0 795.0 L2139.0 783.0M2139.0 783.0 L2150.0 779.0 L2158.0 773.0 L2169.0 771.0 L2177.0 767.0M2163.0 828.0 L2154.0 822.0 L2146.0 816.0 L2140.0 807.0M2157.0 870.0 L2153.0 859.0 L2150.0 852.0M2150.0 852.0 L2152.0 846.0 L2160.0 836.0 L2163.0 828.0M2152.0 694.0 L2150.0 683.0 L2151.0 671.0M2173.0 717.0 L2168.0 710.0 L2158.0 702.0 L2152.0 694.0M2157.0 870.0 L2166.0 870.0 L2176.0 873.0 L2185.0 878.0 L2192.0 880.0M2185.0 926.0 L2177.0 920.0 L2169.0 920.0 L2160.0 915.0 L2151.0 912.0 L2145.0 906.0 L2139.0 902.0 L2144.0 895.0 L2150.0 886.0 L2155.0 877.0 L2157.0 870.0M2163.0 828.0 L2174.0 825.0 L2181.0 823.0M2177.0 767.0 L2175.0 757.0 L2172.0 743.0 L2167.0 733.0M2167.0 733.0 L2173.0 717.0M2173.0 717.0 L2179.0 715.0M2192.0 777.0 L2177.0 767.0M2221.0 726.0 L2209.0 722.0 L2200.0 719.0 L2192.0 720.0 L2179.0 715.0M2179.0 715.0 L2186.0 704.0 L2189.0 698.0 L2196.0 686.0M2201.0 836.0 L2189.0 832.0 L2181.0 823.0M2181.0 823.0 L2184.0 813.0 L2183.0 806.0 L2187.0 796.0 L2188.0 786.0 L2192.0 777.0M2192.0 777.0 L2210.0 774.0M2197.0 872.0 L2200.0 861.0 L2198.0 848.0 L2201.0 836.0M2219.0 833.0 L2210.0 836.0 L2201.0 836.0M2210.0 774.0 L2216.0 777.0M2210.0 774.0 L2212.0 766.0 L2214.0 757.0 L2218.0 746.0 L2217.0 734.0 L2221.0 726.0M2235.0 807.0 L2227.0 795.0 L2222.0 789.0 L2216.0 777.0M2216.0 777.0 L2226.0 773.0 L2234.0 770.0 L2243.0 767.0 L2249.0 762.0 L2259.0 760.0 L2266.0 757.0M2218.0 685.0 L2226.0 690.0 L2234.0 695.0M2219.0 833.0 L2227.0 839.0 L2236.0 849.0M2235.0 807.0 L2229.0 816.0 L2226.0 824.0 L2219.0 833.0M2221.0 726.0 L2227.0 723.0M2266.0 757.0 L2270.0 747.0 L2264.0 742.0 L2257.0 737.0 L2246.0 732.0 L2237.0 729.0 L2227.0 723.0M2227.0 723.0 L2227.0 714.0 L2233.0 707.0 L2234.0 695.0M2234.0 695.0 L2249.0 687.0M2253.0 808.0 L2242.0 807.0 L2235.0 807.0M2249.0 687.0 L2251.0 678.0 L2249.0 665.0M2249.0 687.0 L2259.0 691.0 L2271.0 694.0M2267.0 828.0 L2261.0 817.0 L2253.0 808.0M2274.0 782.0 L2266.0 790.0 L2258.0 799.0 L2253.0 808.0M2274.0 782.0 L2272.0 771.0 L2266.0 757.0M2274.0 703.0 L2273.0 711.0 L2271.0 723.0 L2272.0 731.0 L2269.0 741.0 L2275.0 745.0 L2285.0 742.0M2304.0 797.0 L2293.0 791.0 L2283.0 788.0 L2274.0 782.0M2299.0 741.0 L2306.0 740.0M2310.0 811.0 L2304.0 797.0M2304.0 797.0 L2310.0 787.0 L2312.0 781.0 L2320.0 772.0 L2323.0 764.0M2310.0 811.0 L2307.0 821.0M2327.0 809.0 L2310.0 811.0M2323.0 764.0 L2321.0 752.0 L2317.0 741.0M2360.0 780.0 L2352.0 777.0 L2342.0 772.0 L2334.0 768.0 L2323.0 764.0M625.0 255.0 L666.0 240.0 L699.0 237.0 L718.0 259.0 L725.0 274.0 L710.0 299.0 L736.0 314.0 L762.0 325.0 L784.0 336.0 L792.0 351.0 L777.0 373.0 L773.0 384.0" fill="none" stroke="#999" stroke-width="1.8" stroke-linejoin="round"/>
<path d="M518.3 205.0 L525.1 206.8 L533.3 208.3 L546.7 205.0 L555.0 215.0 L553.8 222.8 L553.3 230.0 L544.5 229.6 L535.0 231.7 L542.8 232.6 L553.3 231.7 L559.3 233.4 L566.7 236.7 L578.1 238.3 L586.7 240.0 L595.9 241.6 L603.3 243.3 L608.7 247.4 L613.3 253.3 L616.7 266.7 L625.4 272.7 L633.3 276.7 L640.1 284.0 L646.7 290.0 L653.8 291.0 L660.7 294.7 L666.7 296.7 L672.8 302.0 L680.0 310.0 L686.0 316.6 L690.0 323.3 L698.9 329.4 L706.7 333.3 L713.9 340.1 L719.7 345.3 L726.7 350.0 L732.1 355.7 L738.8 357.8 L743.3 363.3 L749.5 367.0 L759.1 372.0 L765.0 376.7M658.3 383.3 L664.5 377.8 L670.0 373.3 L678.4 368.0 L686.7 363.3 L694.6 361.1 L703.3 358.3 L713.6 359.5 L723.3 358.3 L731.3 361.2 L738.3 361.7M620.0 430.0 L633.3 426.7 L641.0 425.5 L646.7 421.7 L653.0 414.9 L658.3 410.0 L661.8 404.6 L663.3 396.7 L662.0 390.2 L658.3 383.3M658.3 411.7 L665.0 421.7 L659.8 425.0 L653.3 430.0 L648.4 434.4 L641.7 438.3 L641.7 446.7 L646.9 450.4 L653.3 456.7 L661.7 466.7 L665.0 480.0 L670.2 488.0 L673.3 493.3 L675.5 502.5 L680.0 510.0 L693.3 511.7 L698.3 503.3 L703.9 509.0 L710.0 516.7 L716.1 520.8 L723.3 523.3 L727.7 530.9 L730.0 541.0M765.0 383.3 L776.7 388.3 L783.7 384.1 L790.6 382.0 L797.7 380.9 L803.3 376.7 L811.7 386.7 L816.7 393.9 L821.7 398.3 L826.7 406.7 L835.3 401.3 L845.0 398.3 L856.7 393.3 L858.6 400.4 L860.0 410.0M898.3 520.0 L908.3 525.0 L898.3 528.3 L890.8 524.7 L885.3 520.7 L878.3 518.3 L865.0 520.0 L856.2 516.0 L850.0 510.0 L841.7 514.1 L835.6 515.2 L826.7 518.3 L819.9 522.6 L813.3 526.7 L810.4 534.1 L806.7 541.0M765.0 907.7 L759.1 912.4 L754.0 916.6 L746.7 921.0 L738.7 926.1 L730.4 929.3 L723.3 934.3 L720.2 939.9 L714.6 944.1 L710.0 951.0 L711.4 961.2 L713.3 971.0 L718.7 975.8 L727.0 978.7 L733.3 984.3 L741.6 985.1 L749.7 985.6 L757.7 987.5 L765.0 987.7M271.7 1037.7 L279.5 1037.3 L290.0 1039.3 L298.3 1040.1 L304.9 1038.1 L313.3 1037.7 L323.6 1035.5 L333.3 1034.3 L343.0 1033.0 L353.3 1032.7 L363.0 1035.4 L373.3 1037.7 L377.8 1044.0 L383.3 1051.0 L392.4 1051.3 L400.0 1054.3 L408.5 1058.3 L416.7 1061.0 L424.5 1056.9 L433.3 1054.3 L440.9 1058.6 L446.7 1064.3 L450.8 1073.0 L456.7 1082.0M498.8 612.5 L508.7 613.3 L517.5 616.2 L527.0 617.0 L537.5 618.8 L545.9 619.2 L552.5 620.0M552.5 620.0 L547.5 627.5 L555.0 637.5 L554.7 645.9 L552.5 656.2 L560.0 663.8 L572.5 661.2 L578.3 666.0 L585.0 670.0 L597.5 670.0 L607.3 669.9 L615.0 670.0 L622.5 680.0 L625.0 692.5 L631.2 705.0 L632.4 711.4 L635.0 720.0 L642.6 725.4 L650.0 732.5 L660.0 740.0 L667.1 747.2 L672.5 752.5 L675.0 760.0 L665.0 762.5 L662.5 775.0 L670.0 782.5 L682.5 786.2 L685.0 777.5 L680.0 767.5 L685.4 761.9 L692.5 757.5 L702.5 765.0 L712.5 772.5 L720.0 765.0 L730.0 760.0 L737.5 755.0 L742.5 760.0 L743.8 770.0 L745.0 780.0 L750.0 785.0 L740.0 792.5 L741.2 800.0 L752.5 795.0 L762.1 792.3 L770.0 788.8 L775.0 797.5 L777.5 810.0 L782.5 820.0 L789.6 823.3 L795.0 827.5 L800.0 837.5 L790.0 842.5 L795.2 846.9 L802.5 852.5 L805.0 856.2M552.5 620.0 L565.0 616.2 L577.5 616.2 L585.2 618.7 L591.2 622.5 L600.0 627.5 L605.0 635.0 L610.0 647.5 L615.0 637.5 L625.0 630.0 L632.1 630.4 L640.0 631.2 L647.3 630.4 L655.0 630.0 L667.5 635.0 L680.0 631.2 L687.5 622.5 L682.5 612.5 L685.0 600.0 L693.7 597.8 L700.0 597.5 L704.9 602.5 L712.5 605.0 L720.0 597.5 L711.2 592.5 L720.0 586.2 L730.0 580.0 L742.5 582.5 L740.0 570.0 L732.5 562.5 L727.5 552.5 L735.0 547.5 L730.0 537.5 L720.0 532.5 L716.2 520.0M726.2 550.0 L731.2 555.0 L730.0 551.2M735.0 545.0 L745.0 547.5 L755.0 555.0 L759.8 562.6 L762.5 567.5 L768.6 572.5 L775.0 575.0 L784.9 576.1 L792.5 578.8 L802.5 576.2M797.5 580.0 L787.5 587.5 L780.0 597.5 L770.0 606.2 L762.5 615.0 L757.5 627.5 L756.2 640.0 L758.8 648.4 L760.0 655.0 L761.1 662.6 L761.2 670.0 L762.5 682.5 L766.2 695.0 L765.0 705.0M765.0 705.0 L752.5 702.5 L745.0 707.5 L741.2 717.5 L735.0 727.5 L742.5 732.5 L751.2 732.5 L760.0 742.5 L767.5 740.0 L770.0 730.0 L773.8 720.0 L770.0 712.5 L765.0 705.0M773.8 727.5 L782.5 735.0 L788.8 745.0 L790.0 757.5 L792.5 770.0 L787.5 780.0 L775.0 785.0 L770.0 788.8M802.5 576.2 L807.5 571.4 L813.8 567.5 L810.5 557.5 L808.8 550.0 L810.9 541.9 L812.5 535.0 L818.4 528.7 L823.6 525.5 L827.5 520.0M797.5 580.0 L807.5 585.0 L817.4 589.9 L825.0 592.5 L817.5 602.5 L813.6 607.7 L807.5 612.5 L805.0 622.5 L810.0 635.0 L822.5 637.5 L830.0 647.5 L834.9 641.9 L842.5 635.0 L855.0 630.0 L867.5 635.0 L870.3 640.7 L875.0 647.5 L883.0 651.9 L890.0 656.2 L902.5 657.5 L893.5 663.7 L885.0 667.5 L892.8 670.8 L900.0 675.0 L905.6 681.0 L912.5 685.0 L921.2 690.8 L930.0 695.0 L942.5 700.0 L955.0 702.5 L967.5 700.0 L974.6 705.4 L982.5 712.5 L990.0 702.5M765.0 987.7 L771.8 983.6 L778.3 977.7 L779.1 986.8 L781.7 994.3 L774.5 999.4 L765.0 1002.7M1295.0 821.0 L1298.3 834.3 L1302.6 839.6 L1305.0 847.7 L1310.4 853.7 L1315.0 857.7 L1328.3 861.0 L1331.7 874.3 L1320.4 875.4 L1311.7 877.7 L1304.4 884.4 L1298.3 891.0 L1304.8 894.3 L1311.7 897.7 L1315.0 907.7 L1310.8 911.3 L1305.0 917.7 L1310.4 921.6 L1318.3 927.7 L1323.9 929.8 L1333.0 935.3 L1338.3 937.7 L1345.5 942.7 L1355.0 947.7 L1349.5 952.1 L1345.0 957.7 L1334.6 956.4 L1325.0 954.3 L1318.6 958.9 L1311.7 964.3 L1304.1 967.2 L1298.3 971.0 L1290.6 974.5 L1285.6 977.3 L1278.3 981.0 L1270.5 983.4 L1264.6 988.0 L1258.3 991.0 L1255.8 999.0 L1251.7 1007.7 L1254.2 1016.3 L1255.0 1024.3 L1256.5 1032.3 L1258.3 1041.0 L1261.7 1048.2 L1265.0 1054.3 L1255.0 1061.0 L1254.8 1068.5 L1254.9 1074.3 L1255.0 1082.0M785.0 862.7 L791.8 861.0 L797.1 858.0 L805.0 856.0 L814.8 857.9 L825.0 857.7 L836.2 857.3 L845.0 857.7 L852.8 861.8 L857.7 864.2 L865.0 867.7 L873.9 868.5 L885.0 867.7 L892.1 873.2 L899.2 877.0 L905.0 881.0 L910.7 889.5 L915.0 897.7 L912.2 906.2 L911.7 914.3 L906.9 920.0 L905.0 927.7 L901.3 933.1 L895.0 939.9 L891.7 947.7 L889.4 953.4 L885.0 961.0 L878.3 967.7 L867.0 969.5 L858.3 969.3 L850.0 977.7 L851.7 991.0 L857.3 989.5 L865.0 986.0 L869.7 993.6 L873.3 999.3 L870.4 1007.1 L865.0 1014.3 L859.2 1015.5 L852.4 1019.4 L845.6 1020.7 L838.3 1024.3 L842.4 1033.9 L845.0 1041.0 L845.4 1050.5 L848.3 1061.0 L855.2 1067.8 L861.7 1072.7 L869.3 1068.4 L878.3 1066.0 L886.0 1070.5 L895.0 1074.3 L901.5 1067.4 L906.7 1061.0 L903.5 1054.0 L900.7 1047.4 L898.3 1041.0 L888.3 1032.7 L891.7 1021.0 L885.5 1014.3 L881.7 1007.7 L881.3 997.4 L878.3 987.7 L885.7 980.0 L891.7 974.3 L898.9 981.7 L905.0 987.7 L915.5 987.7 L925.0 987.7 L938.3 991.0 L945.0 994.7 L951.7 997.7 L962.8 996.7 L971.7 997.7 L977.2 993.4 L985.0 987.7 L992.8 984.4 L998.3 981.0 L1011.7 977.7 L1015.0 991.0 L1018.2 998.3 L1021.7 1004.3 L1029.1 1002.0 L1038.3 1001.0 L1045.8 999.6 L1055.0 997.7 L1059.5 1003.6 L1065.0 1011.0 L1073.9 1008.9 L1081.7 1004.3 L1089.4 1001.6 L1098.3 997.7 L1111.7 1001.0 L1118.1 1005.3 L1125.0 1007.7 L1131.9 1010.3 L1138.3 1014.3 L1142.5 1019.7 L1148.3 1027.7 L1156.6 1032.3 L1165.0 1037.7 L1172.4 1038.9 L1181.7 1041.0 L1189.5 1043.4 L1198.3 1044.3 L1202.3 1050.7 L1208.3 1054.3 L1208.3 1067.7 L1204.9 1075.1 L1201.7 1082.0M845.0 858.3 L838.2 865.6 L831.7 871.0 L825.9 875.6 L818.3 880.5 L811.7 884.3 L806.0 887.4 L799.0 892.3 L791.7 894.3 L784.9 896.9 L777.6 901.6 L772.2 905.6 L765.0 907.7M1255.0 1052.5 L1262.2 1046.8 L1267.5 1042.5 L1275.4 1041.8 L1285.0 1042.5 L1292.9 1040.6 L1302.5 1037.5 L1308.5 1043.6 L1312.5 1047.5 L1319.3 1048.5 L1327.5 1047.5 L1331.1 1053.1 L1336.5 1058.0 L1340.0 1065.0 L1345.1 1060.9 L1352.5 1055.0 L1359.4 1050.8 L1367.5 1047.5 L1372.7 1053.0 L1377.5 1057.5 L1384.9 1054.5 L1395.0 1052.5 L1401.5 1050.0 L1407.5 1047.7 L1415.0 1045.0 L1425.0 1042.2 L1432.5 1040.0 L1436.4 1031.4 L1440.0 1025.0 L1452.5 1025.0 L1465.0 1030.0 L1470.6 1035.5 L1477.5 1040.0 L1481.4 1047.3 L1487.5 1052.5 L1497.5 1058.8 L1503.6 1052.0 L1507.5 1047.5 L1516.2 1043.4 L1522.5 1040.0 L1532.0 1042.0 L1540.0 1042.5 L1544.4 1034.2 L1550.0 1025.0 L1551.7 1017.1 L1552.5 1007.5 L1558.1 1003.2 L1565.0 997.5 L1571.3 993.0 L1575.0 987.5 L1587.5 985.0 L1597.5 990.0 L1602.5 1000.0M1602.5 1000.0 L1608.9 1006.4 L1615.0 1015.0 L1613.7 1022.1 L1612.5 1030.0 L1605.0 1040.0 L1604.4 1048.0 L1602.5 1055.0 L1598.9 1062.9 L1595.0 1072.5 L1586.7 1077.9 L1577.5 1082.5 L1569.1 1087.3 L1562.5 1090.0 L1557.5 1102.5 L1549.2 1102.7 L1540.0 1105.0 L1533.7 1102.7 L1525.0 1102.5 L1522.5 1115.0 L1513.3 1118.1 L1505.0 1120.0 L1497.8 1126.4 L1490.0 1132.5 L1477.5 1127.5 L1465.0 1122.5 L1459.2 1127.4 L1452.5 1132.5 L1450.7 1140.3 L1450.0 1150.0 L1457.5 1157.5 L1465.0 1161.9 L1475.0 1165.0 L1483.2 1168.9 L1490.0 1172.5 L1498.2 1172.1 L1505.0 1172.5 L1500.0 1185.0 L1504.3 1190.0 L1510.0 1195.8M1255.0 1052.5 L1260.0 1065.0 L1258.5 1071.2 L1255.0 1080.0 L1260.0 1084.3 L1265.0 1090.0 L1273.3 1095.8 L1280.0 1102.5 L1284.5 1111.0 L1290.0 1120.0 L1297.6 1120.8 L1305.0 1120.0 L1304.6 1131.0 L1305.0 1140.0 L1306.4 1146.9 L1310.0 1155.0 L1311.4 1162.7 L1315.0 1172.5 L1325.8 1174.4 L1335.0 1175.0 L1330.4 1181.6 L1327.5 1190.0 L1320.0 1195.8M1618.3 841.7 L1630.0 841.7 L1643.3 843.3 L1653.3 843.3 L1663.3 838.3 L1673.3 836.7 L1683.3 838.3 L1688.3 838.3M1628.3 891.7 L1626.7 900.0 L1621.4 905.7 L1616.7 910.0 L1608.3 920.0 L1604.2 931.7 L1606.7 943.3 L1615.0 951.7 L1621.7 961.7 L1625.0 971.7 L1616.7 973.3 L1605.0 978.3 L1601.7 988.3 L1608.3 996.7 L1601.7 1005.0 L1606.7 1010.5M1770.0 871.7 L1768.3 881.7 L1770.0 893.3 L1765.9 899.0 L1760.0 903.3 L1756.7 913.3 L1758.3 923.3M1768.3 945.0 L1776.7 936.7 L1783.3 931.7 L1793.3 930.0 L1805.0 928.3 L1815.0 926.7 L1820.0 936.7 L1830.0 935.0 L1843.3 933.3 L1853.3 935.0 L1863.3 940.0 L1871.7 950.0 L1878.3 953.3 L1886.7 945.0 L1895.0 936.7 L1903.3 928.3 L1913.3 923.3 L1923.3 921.7 L1931.7 928.3 L1942.3 926.7M1947.5 855.0 L1960.0 852.5 L1969.0 849.6 L1977.5 848.8 L1986.0 847.3 L1995.0 847.5 L2002.6 850.2 L2010.0 852.5 L2022.5 855.0 L2030.4 853.7 L2040.0 853.8 L2050.8 851.8 L2060.0 852.5 L2072.5 847.5 L2077.5 840.0 L2084.6 834.8 L2090.0 827.5 L2097.9 821.3 L2103.5 816.1 L2110.0 810.0 L2117.5 800.0 L2126.6 800.7 L2135.0 798.8 L2143.9 794.4 L2152.7 791.2 L2160.0 787.5 L2168.6 785.6 L2175.3 783.3 L2185.0 780.0 L2193.8 778.3 L2201.7 776.6 L2210.0 775.0 L2219.1 773.8 L2230.0 772.5 L2237.9 772.5 L2248.7 772.3 L2257.5 772.5 L2250.0 782.5 L2243.9 788.8 L2237.5 792.5 L2242.3 800.2 L2245.0 810.0 L2252.1 815.3 L2257.5 820.0 L2250.0 827.5 L2241.2 828.4 L2235.0 830.0 L2227.6 831.3 L2221.8 836.2 L2215.0 837.5 L2210.0 842.5 L2202.0 848.5 L2195.0 852.5M2195.0 852.5 L2190.0 865.0 L2197.5 875.0M2195.0 852.5 L2182.5 855.0 L2174.3 856.5 L2165.0 860.0 L2159.8 865.3 L2152.5 870.0 L2140.0 875.0 L2133.7 880.6 L2125.0 885.0 L2120.7 889.6 L2115.0 895.0 L2110.9 902.5 L2105.0 907.5 L2102.3 913.6 L2097.5 920.0 L2092.0 927.5 L2085.0 935.0 L2075.0 942.5 L2068.9 947.5 L2065.0 955.0 L2057.6 957.9 L2052.5 962.5 L2045.0 968.8M2045.0 968.8 L2050.0 977.5 L2054.1 982.5 L2060.0 987.5 L2064.3 981.4 L2067.5 975.0 L2077.5 967.5 L2090.0 965.0 L2097.3 966.7 L2105.0 967.5 L2112.0 966.2 L2120.0 965.0 L2127.0 961.0 L2132.5 957.5 L2142.5 955.0 L2145.0 967.5 L2152.5 977.5M2057.5 987.5 L2052.5 995.0 L2045.0 1005.0 L2040.0 1015.0 L2035.0 1025.8M1942.2 926.8 L1950.0 925.0 L1962.5 923.8 L1955.0 935.0 L1952.5 947.5 L1960.0 952.5 L1972.5 950.0 L1982.5 957.5 L1987.5 967.5 L1995.0 975.0 L2002.5 985.0 L1995.0 992.5 L1982.5 995.0 L1970.0 1000.0M1955.0 1060.0 L1953.8 1068.8 L1960.0 1072.5 L1965.0 1080.0 L1966.2 1088.8 L1965.0 1097.5 L1958.8 1103.8 L1956.2 1113.1M1960.0 1072.5 L1971.2 1071.2 L1976.2 1078.8 L1985.0 1070.0 L1992.5 1062.5 L1995.4 1057.4 L2000.0 1050.0 L2005.0 1056.2 L2015.0 1057.5 L2018.8 1060.0M2030.0 1022.5 L2025.0 1035.0 L2022.5 1047.5 L2020.0 1057.5 L2018.8 1067.5 L2017.5 1078.8M2017.5 1078.8 L2023.8 1083.8 L2032.5 1085.0 L2042.5 1083.8 L2050.0 1081.2 L2055.0 1085.0 L2061.2 1090.0 L2066.9 1087.5M1975.0 1007.5 L1977.5 1001.2 L1986.2 996.2 L1997.5 992.5 L2002.5 987.5M1606.8 1010.5 L1612.5 1017.5 L1607.5 1027.5 L1616.2 1037.5M1510.0 1195.8 L1520.0 1202.5 L1527.5 1212.5 L1530.6 1219.6 L1532.5 1227.5 L1525.0 1232.5 L1529.6 1237.6 L1535.0 1242.5 L1541.5 1245.5 L1547.5 1250.0 L1560.0 1255.0 L1563.6 1259.2 L1570.0 1265.0 L1575.8 1270.3 L1580.0 1277.5M1400.0 1245.0 L1406.1 1239.1 L1412.5 1235.0 L1420.4 1236.6 L1430.0 1240.0 L1437.2 1237.8 L1445.0 1237.5 L1447.4 1242.7 L1452.5 1250.0 L1455.3 1242.5 L1460.0 1235.0 L1460.0 1226.2 L1462.5 1220.0 L1460.0 1207.5 L1467.5 1202.5 L1474.9 1206.0 L1482.5 1210.0 L1489.3 1212.5 L1495.0 1217.5 L1507.5 1222.5 L1517.5 1227.5 L1527.5 1230.0M1176.7 1340.0 L1175.8 1348.6 L1174.2 1359.1 L1175.0 1366.7 L1174.8 1373.3 L1176.0 1381.3 L1176.7 1390.0 L1178.7 1397.9 L1180.0 1406.7 L1188.9 1407.9 L1200.0 1411.7 L1201.7 1423.3 L1193.1 1421.0 L1183.3 1420.0 L1175.8 1415.7 L1166.7 1411.7 L1159.5 1406.9 L1150.0 1403.3 L1140.0 1400.0 L1133.3 1410.0 L1139.3 1414.3 L1146.7 1420.0 L1149.2 1430.4 L1150.0 1440.0 L1152.9 1447.2 L1156.7 1456.7 L1160.5 1466.3 L1163.3 1473.3 L1163.6 1481.9 L1163.3 1493.3 L1157.0 1498.9 L1153.3 1506.7 L1146.9 1509.8 L1141.0 1516.0 L1136.7 1520.0 L1134.5 1527.5 L1130.0 1536.7 L1123.0 1541.6 L1113.3 1546.7 L1110.9 1554.5 L1106.7 1560.0 L1106.2 1567.0 L1103.3 1576.7M1103.3 1576.7 L1116.7 1575.0 L1124.5 1572.8 L1133.3 1570.0 L1141.3 1564.7 L1146.7 1561.7 L1154.4 1563.5 L1163.3 1563.3 L1167.3 1558.0 L1173.3 1553.3 L1174.5 1543.8 L1176.7 1533.3 L1183.3 1523.3 L1189.5 1530.8 L1193.3 1540.0 L1200.7 1537.3 L1206.7 1533.3 L1220.0 1536.7 L1225.9 1531.8 L1230.0 1526.7 L1232.9 1517.9 L1233.3 1510.0 L1239.8 1504.2 L1246.7 1500.0 L1250.0 1486.7 L1257.4 1483.3 L1263.3 1480.0 L1273.3 1473.3 L1277.7 1479.1 L1283.3 1486.7 L1289.0 1492.0 L1293.3 1496.7 L1302.3 1499.7 L1310.0 1503.3 L1318.3 1500.7 L1326.7 1500.0 L1333.9 1495.3 L1340.0 1493.3 L1346.6 1487.4 L1353.3 1480.0 L1360.0 1476.7M1033.3 1340.0 L1033.8 1348.9 L1033.3 1360.0 L1028.4 1367.6 L1025.4 1374.4 L1021.9 1379.9 L1016.7 1386.7 L1019.4 1397.3 L1020.0 1406.7 L1021.2 1414.6 L1023.3 1423.3 L1027.7 1427.5 L1035.7 1431.1 L1040.0 1436.7 L1045.7 1440.0 L1049.9 1446.0 L1056.7 1450.0 L1050.9 1453.7 L1046.7 1460.0 L1035.7 1458.7 L1026.7 1456.7 L1022.5 1460.9 L1017.0 1469.1 L1013.3 1473.3 L1010.3 1480.2 L1008.7 1487.5 L1006.7 1493.3 L1010.0 1506.7 L1017.0 1510.8 L1023.4 1512.5 L1030.0 1516.7 L1034.1 1523.8 L1040.0 1533.3 L1044.2 1540.6 L1046.7 1550.0 L1052.0 1554.6 L1060.0 1556.7 L1061.4 1564.4 L1063.3 1569.9 L1066.7 1576.7 L1073.3 1580.0 L1080.1 1580.1 L1088.7 1578.7 L1096.6 1578.5 L1103.3 1576.7M900.0 1435.0 L907.3 1436.4 L915.4 1436.1 L923.3 1438.3 L934.3 1439.4 L943.3 1440.0 L952.0 1438.6 L959.0 1438.8 L966.7 1438.3 L974.0 1443.0 L980.0 1450.0 L981.2 1458.3 L983.3 1466.7 L978.8 1473.5 L976.7 1480.0 L979.0 1488.1 L980.0 1496.7 L987.1 1502.0 L993.3 1506.7 L1006.7 1503.3M1066.7 1580.0 L1056.7 1586.7 L1056.7 1593.3 L1062.5 1597.9 L1070.0 1603.3 L1079.7 1606.2 L1086.7 1610.0 L1090.0 1616.7 L1083.1 1620.5 L1076.7 1626.7 L1067.5 1625.7 L1060.0 1626.7 L1057.9 1634.0 L1053.3 1640.0 L1047.7 1639.1 L1040.3 1636.8 L1033.3 1633.3 L1025.1 1636.4 L1016.7 1640.0 L1013.3 1650.0 L1022.9 1656.1 L1030.0 1660.0 L1033.3 1663.3 L1023.3 1663.3 L1017.9 1658.3 L1010.0 1653.3 L1005.8 1648.1 L1000.0 1643.3 L994.7 1649.5 L986.7 1653.3 L986.7 1666.7 L976.1 1667.9 L966.7 1666.7 L957.5 1668.9 L950.0 1673.3 L942.8 1675.0 L934.5 1678.2 L926.7 1680.0 L924.3 1688.5 L923.8 1695.4 L923.3 1703.3 L915.1 1705.1 L908.5 1705.0 L900.0 1706.7M583.3 1980.0 L588.9 1984.4 L596.7 1990.0 L604.8 1993.8 L613.3 2000.0 L617.4 2009.1 L623.3 2016.7 L629.5 2022.4 L635.8 2026.6 L640.0 2030.0 L648.0 2034.9 L656.7 2041.7 L666.1 2044.1 L676.7 2046.7 L681.7 2053.5 L686.7 2060.0 L691.3 2066.0 L696.7 2070.0 L686.7 2076.7M686.7 2076.7 L691.1 2081.6 L696.7 2086.7 L702.7 2094.2 L706.7 2100.0 L712.8 2101.5 L720.9 2103.1 L726.7 2106.7 L724.0 2116.8 L723.3 2126.7 L730.1 2130.7 L736.7 2136.7 L733.7 2144.2 L733.3 2153.3 L735.8 2163.2 L736.7 2173.3 L744.7 2177.5 L750.0 2180.0 L759.7 2177.0 L766.7 2176.7 L765.8 2183.6 L766.7 2193.3 L764.8 2202.9 L763.3 2213.3 L766.7 2226.7 L760.0 2233.3 L767.1 2235.1 L776.7 2236.7 L775.5 2244.5 L776.7 2253.3 L771.0 2262.5 L766.7 2270.0 L764.8 2277.7 L763.3 2286.7 L763.7 2294.8 L766.7 2303.3 L770.0 2313.3 L767.0 2320.5 L763.3 2326.7 L762.8 2335.9 L760.0 2343.3M696.7 2070.0 L704.3 2070.6 L713.3 2073.3 L724.1 2072.5 L733.3 2070.0 L740.0 2060.0 L750.0 2062.6 L760.0 2063.3 L766.8 2060.5 L772.4 2057.5 L780.0 2056.7 L785.4 2052.8 L790.0 2046.7 L799.5 2043.2 L806.7 2040.0 L809.6 2034.5 L811.7 2026.7 L803.4 2025.3 L793.3 2023.3 L786.7 2016.7 L791.4 2010.1 L796.7 2003.3 L793.3 1990.0 L799.1 1982.4 L806.7 1976.7 L820.0 1973.3 L833.3 1976.7 L843.3 1976.7 L850.0 1986.7 L860.0 1990.0M860.0 1990.0 L865.5 1986.4 L870.0 1980.0 L872.4 1973.1 L874.0 1966.5 L876.7 1960.0 L887.5 1958.2 L896.7 1956.7 L908.0 1957.4 L916.7 1960.0 L924.5 1955.1 L933.3 1950.0 L940.0 1940.0 L948.1 1941.0 L956.7 1940.0 L970.0 1943.3 L975.9 1939.5 L980.0 1933.3 L986.7 1921.7 L1000.0 1923.3 L1013.3 1926.7M846.7 1980.0 L850.0 1970.0 L857.0 1963.7 L863.3 1960.0 L868.5 1955.1 L873.3 1950.0 L870.0 1936.7 L860.0 1933.3 L860.0 1920.0 L853.3 1916.1 L846.7 1913.3 L840.6 1911.2 L833.3 1906.7 L836.7 1896.7 L828.9 1892.1 L823.3 1886.7 L816.3 1890.0 L810.0 1893.3 L802.8 1899.6 L793.3 1903.3 L780.0 1900.0 L773.7 1895.8 L766.7 1893.3 L761.2 1897.4 L753.3 1903.3 L746.7 1896.7 L749.7 1890.9 L753.3 1883.3 L746.7 1873.3 L753.3 1863.3M491.7 1741.7 L503.3 1745.0 L510.0 1756.7 L516.2 1753.8 L524.6 1753.5 L530.0 1750.0 L531.2 1759.7 L533.3 1770.0 L532.7 1779.0 L533.3 1790.0 L530.1 1799.7 L528.3 1806.7 L520.0 1816.7M530.0 1748.3 L533.8 1741.7 L540.0 1736.7 L542.5 1728.8 L546.7 1723.3 L540.0 1716.7 L545.1 1710.7 L550.0 1703.3 L542.6 1698.7 L533.3 1693.3 L530.0 1683.3 L539.2 1676.9 L546.7 1673.3 L552.7 1678.0 L560.0 1680.0 L564.3 1674.9 L571.1 1670.5 L576.7 1666.7 L580.1 1658.7 L583.3 1653.3 L592.6 1656.3 L603.3 1656.7 L610.7 1654.5 L620.0 1650.0 L629.1 1649.7 L640.0 1646.7 L642.2 1638.7 L643.3 1630.0 L639.0 1620.4 L636.7 1613.3 L640.0 1606.7 L647.4 1608.0 L652.5 1612.0 L660.0 1613.3 L671.0 1613.7 L680.0 1616.7 L691.3 1618.4 L700.0 1620.0 L699.7 1610.6 L700.0 1603.3 L703.0 1598.0 L706.7 1590.0 L716.1 1587.3 L726.7 1586.7 L729.0 1579.0 L733.3 1573.3 L736.3 1566.2 L740.0 1556.7 L745.5 1552.5 L754.6 1551.4 L760.0 1546.7 L765.8 1540.4 L768.5 1536.8 L773.3 1530.0 L780.0 1540.0 L785.0 1547.2 L790.0 1553.3M790.0 1553.3 L791.7 1544.2 L794.0 1538.5 L796.7 1530.0 L802.5 1521.9 L806.7 1513.3 L811.0 1507.9 L815.4 1502.3 L820.0 1496.7 L815.9 1489.2 L810.0 1483.3 L813.6 1477.9 L817.6 1469.1 L820.0 1463.3 L831.3 1466.0 L840.0 1466.7 L844.1 1457.7 L850.0 1450.0 L850.3 1441.0 L853.6 1434.2 L853.3 1426.7 L853.3 1416.7 L864.4 1417.3 L873.3 1420.0 L882.0 1422.7 L893.3 1423.3 L900.0 1433.3M790.0 1553.3 L794.2 1563.0 L796.7 1570.0 L792.2 1578.4 L786.7 1586.7 L789.1 1593.9 L790.0 1603.3 L803.3 1606.7 L795.1 1611.5 L786.7 1616.7 L780.7 1625.3 L776.7 1633.3 L779.5 1640.0 L783.3 1646.7 L781.3 1656.2 L780.0 1666.7 L777.4 1673.6 L776.9 1681.2 L773.3 1686.7 L766.7 1690.0 L776.0 1695.9 L783.3 1700.0 L793.3 1703.3 L789.4 1711.3 L786.7 1716.7 L790.0 1730.0M790.0 1730.0 L781.6 1727.8 L774.4 1728.4 L766.7 1726.7 L759.6 1730.4 L753.3 1733.3 L751.1 1743.0 L750.0 1750.0 L756.7 1756.7 L751.5 1763.3 L746.7 1770.0 L750.1 1779.4 L753.3 1786.7 L751.4 1795.1 L746.7 1803.3 L733.3 1800.0 L730.0 1810.0 L731.5 1818.7 L733.3 1826.7 L730.0 1840.0 L733.8 1848.1 L740.0 1856.7 L744.3 1865.8 L746.7 1873.3 L752.1 1872.1 L759.7 1870.2 L766.7 1866.7 L774.6 1864.2 L783.3 1863.3 L780.0 1876.7 L773.5 1879.9 L766.7 1881.0M790.0 1730.0 L797.6 1732.1 L806.1 1731.8 L813.3 1733.3 L820.6 1734.5 L828.6 1735.2 L836.7 1736.7 L843.8 1731.1 L850.0 1723.3 L860.2 1720.7 L870.0 1720.0 L877.5 1721.3 L886.7 1723.3 L893.7 1717.3 L900.0 1713.3M456.7 1082.0 L455.5 1090.5 L456.7 1100.0 L461.1 1105.3 L466.7 1113.3 L473.4 1121.2 L480.0 1126.7 L486.8 1132.3 L493.3 1136.7 L502.6 1142.6 L510.0 1146.7 L519.5 1151.5 L526.7 1156.7 L533.8 1158.9 L540.0 1163.3M540.0 1163.3 L544.4 1169.7 L546.7 1176.7 L543.3 1186.1 L540.0 1193.3 L533.8 1196.9 L529.8 1202.5 L523.3 1206.7 L513.3 1213.3 L522.2 1213.7 L533.3 1216.7 L526.3 1220.3 L520.0 1226.7 L522.6 1234.1 L523.3 1243.3 L517.7 1249.7 L513.3 1256.7 L503.4 1258.1 L493.3 1260.0 L495.4 1268.8 L496.7 1276.7 L500.0 1286.7 L508.2 1284.7 L518.0 1285.5 L523.8 1284.0 L533.3 1283.3 L526.3 1286.9 L516.6 1286.4 L510.0 1290.0 L504.9 1294.8 L500.0 1300.0 L496.1 1305.9 L490.0 1310.0 L481.2 1311.4 L473.3 1313.3 L480.2 1316.6 L485.8 1317.5 L493.3 1320.0 L500.0 1330.0 L500.5 1338.7 L503.3 1346.7 L498.7 1354.6 L496.7 1360.0 L483.3 1363.3 L478.4 1358.5 L473.3 1353.3 L463.3 1356.7 L462.2 1364.3 L463.3 1373.3 L463.2 1382.7 L463.3 1390.0 L455.1 1391.1 L446.7 1393.3 L433.3 1390.0 L420.0 1386.7M523.3 1243.3 L530.0 1246.7 L539.7 1248.8 L546.7 1250.0 L550.1 1257.5 L553.3 1266.7 L559.4 1271.1 L565.6 1273.4 L573.3 1276.7 L580.3 1278.5 L587.4 1282.3 L593.3 1283.3 L602.7 1287.3 L610.0 1290.0 L616.9 1289.9 L625.4 1291.7 L633.3 1293.3 L640.3 1294.4 L648.1 1294.2 L656.7 1293.3 L667.9 1293.9 L676.7 1296.7 L681.2 1304.7 L683.3 1313.3 L689.2 1315.8 L696.7 1320.0 L703.7 1316.7 L713.3 1313.3 L718.0 1307.7 L723.3 1300.0 L727.6 1290.4 L730.0 1283.3 L736.4 1279.7 L742.4 1276.0 L750.0 1273.3 L756.8 1272.2 L765.0 1270.0M540.0 1163.3 L546.2 1160.0 L552.6 1158.7 L560.0 1156.7 L570.0 1150.0 L561.8 1144.3 L553.3 1140.0 L556.7 1130.0 L563.9 1124.8 L570.5 1121.4 L576.7 1116.7 L579.1 1109.0 L583.3 1100.0 L581.4 1091.8 L580.0 1083.3 L576.9 1075.4 L573.3 1066.7 L569.8 1057.1 L566.7 1050.0 L570.8 1042.7 L573.3 1033.3 L575.0 1025.2 L576.7 1016.7 L586.7 1013.3 L600.0 1010.0 L607.7 1011.1 L616.7 1010.0 L623.3 1020.0 L615.5 1022.6 L606.7 1026.7 L615.9 1029.7 L623.3 1030.0 L632.9 1031.4 L643.3 1030.0 L650.0 1032.4 L656.7 1036.7 L660.0 1050.0 L655.6 1056.2 L650.0 1063.3 L653.3 1076.7 L649.0 1083.6 L643.3 1090.0 L633.9 1090.1 L626.7 1090.0 L631.0 1096.6 L633.3 1103.3 L643.4 1102.7 L653.3 1100.0 L659.9 1093.3 L666.7 1086.7 L671.9 1080.9 L676.7 1073.3 L683.3 1066.7 L690.8 1068.9 L700.0 1073.3 L708.5 1072.4 L715.0 1072.2 L723.3 1070.0 L734.4 1071.8 L743.3 1073.3 L748.0 1067.6 L750.0 1060.0 L746.7 1046.7 L749.0 1037.7 L750.0 1030.0 L743.6 1025.5 L740.0 1020.0 L743.3 1006.7 L751.2 1004.0 L757.7 1002.4 L765.0 1000.0M765.0 1270.0 L776.7 1266.7 L784.3 1270.6 L793.3 1273.3 L788.5 1279.7 L783.3 1286.7 L788.9 1291.8 L796.7 1296.7 L805.1 1296.2 L813.5 1294.1 L823.3 1293.3 L830.3 1288.6 L839.1 1283.3 L846.7 1280.0 L853.8 1283.3 L863.3 1286.7 L870.3 1286.7 L878.0 1285.5 L886.7 1286.7 L893.4 1284.5 L901.0 1280.0 L906.7 1276.7 L913.0 1273.2 L919.4 1271.7 L926.7 1270.0 L934.6 1271.2 L941.3 1274.4 L946.7 1276.7 L953.1 1279.3 L960.0 1283.3 L971.3 1280.8 L980.0 1280.0 L990.2 1278.4 L1000.0 1276.7 L1005.8 1280.9 L1013.3 1286.7 L1019.7 1292.5 L1023.3 1296.7 L1036.7 1300.0M1036.7 1300.0 L1039.5 1294.5 L1040.0 1287.2 L1043.3 1280.0 L1046.3 1272.6 L1047.7 1268.0 L1050.0 1260.0 L1051.7 1254.1 L1053.5 1247.1 L1056.7 1240.0 L1062.7 1233.4 L1070.0 1226.7 L1073.0 1219.4 L1076.7 1210.0 L1085.1 1208.9 L1092.7 1207.6 L1100.0 1206.7 L1107.5 1202.7 L1113.5 1200.2 L1120.0 1196.7 L1124.7 1187.1 L1130.0 1180.0 L1135.7 1173.7 L1143.3 1166.7 L1149.2 1160.7 L1156.7 1153.3 L1160.0 1140.0 L1153.3 1136.3 L1146.7 1130.0 L1141.0 1128.4 L1133.0 1124.3 L1126.7 1123.3 L1113.3 1120.0 L1115.2 1112.4 L1116.7 1103.3 L1126.2 1101.7 L1133.3 1101.7 L1141.3 1103.6 L1151.8 1102.7 L1160.0 1103.3 L1170.7 1101.5 L1180.0 1101.7 L1187.9 1099.4 L1195.8 1095.2 L1203.3 1093.3 L1201.7 1082.0M1203.3 1093.3 L1210.6 1097.0 L1220.0 1100.0 L1231.1 1097.3 L1240.0 1096.7 L1246.1 1088.8 L1255.0 1083.3 L1255.8 1075.6 L1254.9 1069.8 L1255.0 1061.0M1320.0 1195.7 L1315.3 1200.5 L1310.0 1206.7 L1310.0 1213.3M1310.0 1213.3 L1318.3 1210.8 L1324.9 1211.7 L1333.3 1210.0 L1340.2 1208.7 L1348.9 1209.5 L1356.7 1210.0 L1365.5 1208.5 L1372.5 1208.9 L1380.0 1208.6 L1386.7 1208.3 L1390.5 1217.0 L1393.3 1226.7 L1387.6 1233.2 L1383.3 1240.0 L1392.5 1242.9 L1400.0 1246.7M1310.0 1213.3 L1300.9 1216.4 L1293.3 1220.0 L1283.9 1224.5 L1276.7 1230.0 L1271.9 1238.5 L1266.7 1246.7 L1265.3 1256.1 L1263.3 1266.7 L1258.7 1272.0 L1256.2 1279.2 L1253.3 1286.7 L1250.2 1294.3 L1246.7 1303.3 L1240.7 1310.3 L1233.3 1316.7 L1223.8 1317.3 L1213.3 1316.7 L1203.4 1318.1 L1193.3 1320.0 L1186.1 1325.4 L1180.0 1333.3 L1176.7 1340.0M1036.7 1300.0 L1030.8 1306.7 L1023.3 1313.3 L1020.5 1322.9 L1020.0 1330.0 L1025.2 1335.3 L1030.0 1340.0 L1033.3 1340.0M91.7 1082.0 L92.3 1072.1 L93.3 1064.3 L103.1 1065.1 L110.0 1067.7 L117.4 1069.6 L124.5 1068.8 L133.3 1069.3 L142.2 1067.5 L152.3 1066.9 L160.0 1066.0 L167.0 1070.1 L176.7 1074.3 L183.6 1074.1 L193.3 1072.7 L201.0 1070.5 L205.4 1066.5 L213.3 1062.7 L220.6 1060.9 L228.3 1058.8 L236.7 1057.7 L240.0 1071.0 L253.3 1074.3 L259.0 1070.5 L266.7 1066.0 L272.2 1064.0 L280.0 1059.3 L271.7 1051.0 L271.7 1037.7 L267.6 1031.2 L265.2 1020.9 L263.3 1014.3 L260.7 1006.1 L256.7 997.7 L252.4 989.4 L246.7 981.0 L241.7 971.0 L242.9 962.3 L243.3 956.0 L230.0 954.3 L222.2 955.2 L213.3 956.0 L209.6 947.1 L203.3 941.0 L198.8 934.8 L196.7 927.7 L201.2 919.1 L203.3 911.0 L204.8 901.2 L205.0 891.0 L200.0 884.3 L189.7 884.2 L180.0 884.3 L172.0 878.8 L163.3 876.0 L156.1 871.7 L150.0 866.0 L151.0 856.8 L153.3 847.7 L157.7 840.6 L163.3 834.3 L169.6 830.0 L176.3 824.3 L180.0 818.9 L186.7 814.3 L189.9 806.9 L195.8 801.3 L200.0 794.3 L203.7 787.9 L207.8 782.3 L213.3 777.7 L221.7 772.0 L230.0 767.7 L237.7 771.2 L243.3 774.3 L246.2 782.5 L250.0 791.0 L255.4 794.2 L263.3 796.0 L270.7 792.8 L277.3 789.8 L283.3 787.7 L290.3 784.7 L298.0 783.5 L306.7 781.0 L317.1 780.8 L326.7 779.3 L333.1 777.6 L341.7 774.3 L343.3 765.7 L345.0 757.7 L352.5 750.8 L360.0 744.3 L364.2 739.0 L370.0 734.3 L372.9 726.6 L375.0 717.7 L383.3 707.7 L392.3 702.9 L400.0 700.7 L406.7 696.0 L413.9 695.1 L419.0 692.3 L426.7 689.3 L432.0 682.0 L435.3 678.1 L438.6 671.6 L443.3 664.3 L448.9 656.4 L451.2 648.0 L456.7 641.0 L459.3 632.4 L459.5 624.2 L461.7 616.0 L472.0 612.8 L480.0 611.0 L487.0 609.8 L496.7 606.0 L502.0 600.7 L508.3 596.0 L506.7 586.0 L500.0 582.7 L503.3 571.0 L512.2 565.4 L518.3 561.0 L523.0 555.4 L530.0 547.7 L538.3 541.0 L536.7 541.0 L544.3 536.4 L553.3 533.3 L563.3 526.0 L551.7 520.0 L557.9 512.6 L561.7 506.7 L560.3 499.5 L556.7 493.3 L551.9 484.2 L548.3 476.7 L555.0 465.0 L561.2 461.3 L566.9 457.2 L573.3 453.3 L579.4 452.1 L587.9 449.6 L593.3 446.7 L600.9 442.1 L606.0 439.2 L613.3 436.7 L620.0 430.0 L612.4 428.0 L606.7 423.3 L601.1 422.3 L593.5 417.8 L586.7 416.7 L576.5 415.4 L566.7 416.7 L561.7 405.0 L563.6 396.0 L563.3 388.3 L554.4 392.9 L546.7 395.0 L539.2 393.7 L533.3 390.0 L526.1 387.1 L518.9 384.4 L513.3 380.0 L503.0 377.9 L493.3 376.7 L487.1 371.9 L480.0 366.7 L476.8 355.6 L475.0 346.7 L474.4 335.3 L473.3 326.7 L473.8 317.3 L471.3 308.4 L471.7 300.0 L467.3 291.2 L465.0 283.3 L462.6 274.7 L460.0 266.7 L462.0 256.9 L465.0 248.3 L472.5 247.4 L480.0 245.0 L484.0 239.9 L488.3 233.3 L497.5 228.9 L506.7 226.7 L510.7 222.6 L516.7 216.7 L518.3 205.0 L510.0 200.0 L502.2 198.6 L494.5 198.7 L486.7 196.7 L483.3 186.7 L488.0 181.3 L493.3 176.7 L490.0 171.7 L480.7 169.7 L472.3 170.5 L463.3 170.0 L456.7 166.5 L449.9 163.9 L443.3 160.0 L440.0 146.7 L431.3 147.5 L423.4 146.6 L416.7 145.0 L408.3 147.5 L401.7 148.3 L390.0 141.7 L393.3 130.0 L391.7 116.7 L405.0 113.3 L411.8 105.5 L420.0 100.0 L427.6 95.9 L435.0 90.0 L436.7 80.0 L446.5 79.9 L455.8 76.5 L463.3 76.7 L473.0 76.4 L483.3 78.3 L492.4 78.2 L500.0 78.3 L498.3 68.3 L491.5 67.5 L483.3 65.0 L494.7 65.5 L503.3 65.0 L514.4 64.3 L523.3 63.3 L529.9 61.1 L537.7 55.5 L546.7 53.3 L557.6 51.1 L566.7 50.0 L573.8 53.7 L580.0 60.0 L587.5 59.8 L596.7 58.3 L603.7 54.2 L613.3 50.0 L619.6 57.5 L623.3 66.7 L632.2 72.3 L640.0 76.7 L647.0 84.1 L653.3 90.0 L662.2 92.0 L670.0 96.7 L677.5 101.8 L686.7 106.7 L696.3 107.5 L703.3 110.0 L711.9 114.8 L720.0 121.7 L726.8 127.3 L731.7 133.3 L728.3 143.3 L735.9 148.0 L743.3 151.7 L749.5 153.4 L758.6 154.9 L765.0 155.0 L765.0 156.7 L778.3 158.3 L781.9 163.4 L786.7 170.0 L778.2 172.8 L771.7 173.3 L781.7 180.0 L791.5 177.2 L801.7 175.0 L809.5 176.7 L816.7 176.8 L825.0 178.3 L825.0 166.7 L832.4 169.9 L838.3 171.7 L842.8 163.0 L848.3 156.7 L857.9 154.8 L865.0 151.7 L873.6 148.9 L881.7 146.7 L890.2 145.9 L895.3 144.4 L903.3 145.0 L910.4 146.9 L918.3 148.3 L921.7 136.7 L929.6 137.9 L938.3 136.7 L941.7 145.0 L948.8 147.1 L955.4 149.7 L961.7 151.7 L975.0 153.3 L985.0 148.3 L990.3 155.0 L995.0 161.7 L1002.6 164.1 L1010.0 166.7 L1013.3 178.3 L1010.9 186.6 L1006.7 196.7 L1005.0 204.4 L1001.7 213.3 L999.3 220.5 L995.0 230.0 L991.7 238.3 L983.3 239.8 L975.0 241.7 L966.7 250.0 L970.0 256.7 L962.8 256.4 L953.8 256.8 L946.7 258.3 L949.3 266.0 L951.7 273.3 L946.7 283.3 L940.0 293.3 L930.8 291.3 L923.6 292.4 L916.7 290.0 L907.4 293.5 L898.3 296.7 L901.1 305.4 L905.0 313.3 L915.0 321.7 L908.4 323.8 L900.0 325.0 L899.4 334.0 L901.7 343.3 L911.7 350.0 L919.1 349.6 L927.5 351.2 L933.6 352.9 L941.7 353.3 L938.3 366.7 L933.3 375.0 L939.8 380.0 L946.8 385.1 L951.6 388.8 L958.3 395.0 L952.9 400.2 L947.3 405.7 L941.7 411.7 L930.0 408.3 L921.1 412.9 L915.0 420.0 L905.0 426.7 L898.2 421.4 L893.3 418.3 L891.0 409.4 L886.7 400.0 L878.4 403.9 L871.7 406.7 L858.3 410.0 L862.0 415.4 L865.0 423.3 L863.3 435.0 L875.0 440.0 L880.7 444.2 L886.4 449.0 L890.0 455.0 L886.1 462.6 L883.3 471.7 L889.3 479.2 L893.3 485.0 L885.0 493.3 L889.4 499.0 L893.3 506.7 L898.3 518.3 L902.6 511.7 L906.0 505.1 L911.7 496.7 L919.3 504.5 L925.0 510.0 L930.6 518.7 L935.0 526.7 L944.7 529.3 L951.7 533.3 L959.5 532.3 L968.3 533.3 L975.8 538.0 L985.0 541.0 L977.0 539.1 L971.0 536.8 L965.1 533.6 L958.5 529.2 L950.0 527.5 L943.6 525.7 L937.9 523.3 L930.0 520.0 L937.5 527.5 L947.5 531.8 L955.0 535.0 L962.1 534.4 L970.0 533.8 L978.2 537.8 L985.0 540.0 L993.4 544.6 L1002.5 550.0 L1004.1 556.7 L1005.0 565.0 L1012.7 566.1 L1018.7 570.0 L1025.0 572.5 L1032.9 576.4 L1042.5 580.0 L1048.1 587.5 L1053.8 592.5 L1050.5 599.0 L1045.0 605.0 L1039.8 612.3 L1032.5 617.5 L1024.1 624.7 L1017.5 630.0 L1015.0 642.5 L1012.2 650.1 L1007.5 655.0 L1010.0 667.5 L1005.7 673.4 L1000.0 680.0 L995.4 686.7 L992.5 692.5 L990.0 702.5 L1000.0 707.5 L1005.4 712.0 L1012.5 715.0 L1022.5 720.0 L1030.0 715.0 L1042.5 720.0 L1053.8 725.0 L1059.6 732.2 L1065.0 737.7 L1072.9 740.4 L1081.7 744.3 L1087.8 751.5 L1091.7 757.7 L1101.7 761.0 L1109.7 766.2 L1118.3 771.0 L1126.5 776.4 L1135.0 781.0 L1148.3 777.7 L1156.7 782.1 L1165.0 787.7 L1174.7 793.7 L1181.7 797.7 L1192.4 795.4 L1201.7 794.3 L1205.0 807.7 L1214.1 810.0 L1225.0 811.0 L1234.2 814.8 L1241.7 817.7 L1251.7 824.3 L1258.3 814.3 L1267.5 815.0 L1278.3 814.3 L1291.7 817.7 L1298.4 814.5 L1305.2 812.0 L1311.7 809.3 L1318.7 814.2 L1325.0 817.7 L1336.4 818.2 L1345.0 821.0 L1351.9 827.2 L1358.3 831.0 L1361.7 844.3 L1370.4 847.9 L1378.3 851.0 L1386.0 854.7 L1391.7 861.0 L1399.2 864.7 L1405.0 867.7 L1415.2 864.6 L1425.0 862.7 L1438.3 866.0 L1445.0 877.7 L1452.0 878.8 L1458.4 881.4 L1465.0 884.3 L1474.0 885.2 L1480.5 885.0 L1488.3 884.3 L1494.7 886.6 L1500.7 889.8 L1508.3 891.0 L1516.3 892.8 L1521.6 894.1 L1530.0 894.3 L1536.1 895.1 L1545.0 894.3 L1552.3 897.2 L1560.0 896.7 L1570.0 898.3 L1578.3 893.3 L1588.3 896.7 L1600.0 891.7 L1611.7 890.8 L1621.7 898.3 L1628.3 891.7 L1630.0 880.0 L1633.3 870.0 L1630.0 860.0 L1626.7 850.0 L1618.3 841.7 L1621.7 830.0 L1622.8 821.1 L1623.3 813.3 L1626.7 801.7 L1633.3 790.0 L1631.7 783.3 L1628.3 777.5 L1633.3 772.5 L1646.7 771.7 L1658.3 766.7 L1670.0 760.8 L1680.0 765.0 L1688.3 768.3 L1693.3 778.3 L1691.7 790.0 L1686.7 800.0 L1681.7 810.0 L1686.7 818.3 L1696.7 825.0 L1693.3 833.3 L1688.3 838.3 L1693.3 845.0 L1701.7 853.3 L1710.0 860.0 L1720.0 863.3 L1730.0 860.0 L1741.7 863.3 L1751.7 868.3 L1760.0 871.7 L1770.0 871.7 L1781.7 870.0 L1793.3 866.7 L1801.7 860.0 L1810.0 857.5 L1820.0 860.0 L1828.3 865.0 L1836.7 865.4 L1843.3 866.7 L1852.8 866.0 L1860.0 865.8 L1867.2 866.7 L1876.7 865.0 L1883.8 863.9 L1893.3 864.2 L1902.4 862.7 L1910.0 863.3 L1923.3 860.0 L1933.3 858.3 L1942.3 860.0 L1947.5 855.0 L1942.5 845.0 L1940.0 835.0 L1947.5 827.5 L1943.8 817.5 L1932.5 813.8 L1923.9 814.1 L1915.0 812.5 L1906.2 805.0 L1903.8 795.0 L1908.8 787.5 L1902.5 782.5 L1915.0 782.5 L1927.5 787.5 L1940.0 786.2 L1947.8 783.9 L1955.0 782.5 L1963.2 785.9 L1970.0 787.5 L1977.7 785.4 L1985.0 782.5 L1989.5 777.2 L1995.0 772.5 L1992.5 762.5 L2000.1 760.1 L2005.0 755.0 L2011.1 751.6 L2020.0 750.0 L2026.7 747.1 L2035.0 742.5 L2037.5 730.0 L2041.7 724.1 L2047.5 720.0 L2057.0 717.8 L2065.0 717.5 L2073.8 716.1 L2080.0 715.0 L2092.5 712.5 L2097.5 702.5 L2104.9 697.1 L2110.0 690.0 L2114.2 685.8 L2120.0 680.0 L2132.5 673.8 L2145.0 671.2 L2150.0 665.0 L2154.8 669.2 L2160.0 675.0 L2166.2 677.4 L2175.0 678.8 L2183.9 679.4 L2192.5 681.2 L2205.0 687.5 L2215.0 685.0 L2220.0 675.0 L2228.4 670.4 L2235.0 667.5 L2242.3 663.2 L2250.0 661.2 L2262.5 655.0 L2272.5 662.5 L2276.2 672.5 L2290.0 671.2 L2282.5 680.0 L2272.5 687.5 L2275.0 700.0 L2285.0 692.5 L2297.5 687.5 L2302.5 700.0 L2307.5 710.0 L2302.1 716.1 L2297.5 720.0 L2290.0 727.5 L2280.0 735.0 L2290.0 742.5 L2300.0 737.5 L2307.5 736.5 L2315.0 737.5 L2321.8 740.4 L2330.0 742.5 L2336.9 743.6 L2345.0 742.5 L2350.0 747.3 L2357.5 750.0 L2367.5 757.5 L2365.0 770.0 L2367.5 780.0 L2355.0 785.0 L2347.8 789.7 L2340.0 792.5 L2330.0 800.0 L2330.0 812.5 L2334.6 817.5 L2340.0 825.0 L2344.1 832.9 L2350.0 840.0 L2345.0 845.0 L2336.2 838.9 L2330.0 835.0 L2324.5 830.4 L2317.5 823.8 L2309.7 824.7 L2300.0 823.8 L2292.7 826.1 L2285.0 826.2 L2278.1 828.3 L2270.0 830.0 L2260.0 835.0 L2250.0 842.5 L2240.0 850.0 L2230.0 857.5 L2220.0 866.2 L2207.5 870.0 L2197.5 875.0 L2192.5 885.0 L2185.0 895.0 L2182.5 907.5 L2186.0 913.7 L2190.0 922.5 L2185.0 935.0 L2180.0 945.0 L2182.5 955.0 L2176.4 959.3 L2172.5 965.0 L2162.5 970.0 L2155.0 977.5 L2142.5 982.5 L2147.5 995.0 L2155.0 1005.0 L2157.5 1017.5 L2152.5 1025.8 L2150.0 1028.3 L2140.0 1033.3 L2133.3 1043.3 L2128.3 1050.0 L2123.3 1060.0 L2118.3 1071.7 L2115.0 1083.3 L2111.7 1095.0 L2107.5 1103.3 L2096.7 1096.7 L2083.3 1093.3 L2078.3 1090.0 L2066.7 1088.3 L2058.3 1093.3 L2053.3 1086.7 L2050.0 1091.7 L2051.7 1103.3 L2054.2 1116.7 L2051.7 1130.0 L2049.2 1143.3 L2048.3 1156.7 L2045.0 1166.7 L2036.7 1168.3 L2030.0 1165.0 L2028.3 1175.0 L2025.0 1185.0 L2026.7 1196.7 L2028.3 1206.7 L2033.3 1215.0 L2035.0 1226.7 L2028.3 1233.3 L2021.7 1235.0 L2020.0 1241.7 L2015.0 1248.3 L2010.0 1251.7 L2005.0 1245.0 L1998.3 1238.3 L1993.3 1243.3 L1990.0 1250.0 L1985.0 1246.7 L1983.3 1233.3 L1982.4 1223.9 L1981.7 1216.7 L1980.0 1203.3 L1976.7 1190.0 L1973.3 1181.7 L1966.7 1173.3 L1966.7 1160.0 L1972.5 1151.2 L1968.8 1141.2 L1965.0 1131.2 L1961.2 1121.2 L1956.2 1113.1 L1947.5 1113.8 L1941.2 1118.8 L1935.0 1110.0 L1931.9 1116.2 L1935.0 1122.5 L1938.8 1128.8 L1930.0 1135.0 L1922.5 1141.2 L1920.0 1150.0 L1921.2 1157.5 L1922.5 1162.9 L1926.7 1161.7 L1920.0 1166.7 L1910.0 1173.3 L1903.3 1166.7 L1903.8 1160.0 L1898.8 1151.2 L1892.5 1146.2 L1885.0 1145.0 L1880.0 1137.5 L1875.0 1128.8 L1870.0 1121.2 L1870.0 1111.2 L1875.0 1106.2 L1876.2 1097.5 L1880.0 1091.2 L1887.5 1092.5 L1892.5 1088.8 L1887.5 1083.8 L1890.0 1078.8 L1897.5 1080.0 L1905.0 1080.0 L1910.0 1076.2 L1915.0 1071.2 L1922.5 1070.0 L1930.0 1072.5 L1933.8 1066.2 L1936.2 1058.8 L1942.5 1058.8 L1950.0 1052.5 L1953.8 1046.2 L1956.2 1037.5 L1958.8 1028.8 L1955.0 1022.5 L1956.2 1016.2 L1962.5 1015.0 L1965.0 1021.2 L1972.5 1022.5 L1978.8 1018.8 L1977.5 1013.8 L1972.5 1010.0 L1965.0 1008.8 L1955.0 1002.5 L1945.0 996.2 L1938.8 996.5 L1930.0 996.2 L1917.5 997.5 L1905.0 1000.0 L1892.5 998.8 L1880.0 992.5 L1867.5 993.8 L1855.0 996.2 L1842.5 998.8 L1830.0 996.2 L1823.2 999.2 L1815.0 1000.0 L1805.0 997.5 L1792.5 993.8 L1780.0 987.5 L1768.3 986.7 L1763.3 980.0 L1766.7 970.0 L1765.0 956.7 L1768.3 945.0 L1765.0 933.3 L1758.3 923.3 L1755.0 913.3 L1748.3 916.7 L1753.3 926.7 L1748.3 936.7 L1740.0 930.0 L1728.3 925.0 L1718.3 918.3 L1715.0 908.3 L1706.7 898.3 L1696.7 893.3 L1692.6 901.1 L1690.0 906.7 L1687.9 912.7 L1683.3 920.0 L1677.3 915.0 L1673.3 908.3 L1668.3 898.3 L1660.0 890.0 L1650.0 883.3 L1646.7 896.7 L1653.3 903.3 L1643.3 911.7 L1633.3 920.0 L1628.3 931.7 L1630.0 941.7 L1641.7 945.0 L1650.0 951.7 L1658.3 960.0 L1663.3 968.3 L1673.3 971.7 L1686.7 970.0 L1690.0 978.3 L1701.7 985.0 L1696.7 991.7 L1683.3 995.0 L1676.1 996.7 L1666.7 996.7 L1660.0 1000.0 L1660.0 1010.5 L1650.0 1012.5 L1642.2 1014.0 L1635.0 1015.0 L1628.9 1020.5 L1625.0 1027.5 L1620.0 1037.5 L1624.8 1043.2 L1630.0 1047.5 L1636.3 1052.4 L1645.0 1055.0 L1652.4 1058.8 L1662.5 1060.0 L1670.5 1063.4 L1680.0 1065.0 L1682.1 1073.8 L1682.5 1080.0 L1682.5 1090.0 L1676.2 1095.6 L1670.0 1100.0 L1667.5 1112.5 L1672.5 1122.5 L1678.2 1127.2 L1685.0 1130.0 L1680.2 1137.3 L1677.5 1142.5 L1687.5 1150.0 L1695.3 1150.0 L1702.5 1152.5 L1697.5 1155.7 L1690.0 1160.0 L1690.0 1166.8 L1692.5 1175.0 L1693.7 1183.1 L1697.5 1192.5 L1699.3 1202.6 L1700.0 1210.0 L1702.9 1219.7 L1705.0 1227.5 L1710.0 1237.5 L1705.0 1250.0 L1705.0 1262.5 L1709.7 1270.6 L1712.5 1277.5 L1710.0 1282.5 L1702.2 1282.6 L1694.0 1284.3 L1687.5 1285.0 L1678.3 1285.3 L1670.3 1284.4 L1662.5 1283.8 L1655.1 1286.2 L1646.5 1287.2 L1640.0 1290.0 L1631.8 1287.9 L1622.5 1287.5 L1615.0 1277.5 L1618.0 1271.3 L1620.0 1262.5 L1610.0 1270.0 L1602.2 1273.8 L1595.0 1275.0 L1587.8 1278.7 L1580.0 1280.0 L1571.3 1282.0 L1562.5 1282.5 L1555.5 1286.6 L1547.5 1292.5 L1541.3 1299.0 L1535.0 1305.0 L1530.0 1317.5 L1535.0 1330.0 L1542.5 1340.0 L1550.0 1347.5 L1542.4 1349.2 L1535.0 1350.0 L1527.5 1360.0 L1522.5 1370.0 L1522.4 1378.7 L1520.0 1385.8 L1520.0 1383.3 L1515.9 1387.3 L1510.6 1393.7 L1506.2 1396.9 L1500.0 1403.3 L1492.4 1407.4 L1486.3 1409.5 L1480.0 1411.7 L1473.6 1413.6 L1466.5 1416.3 L1460.0 1418.3 L1454.7 1421.2 L1447.5 1423.3 L1440.0 1426.7 L1433.9 1430.3 L1427.3 1434.4 L1420.0 1436.7 L1412.2 1442.4 L1407.0 1444.9 L1400.0 1450.0 L1393.2 1453.9 L1385.9 1460.9 L1380.0 1465.0 L1373.9 1470.5 L1365.7 1472.8 L1360.0 1478.3 L1355.2 1484.4 L1351.7 1490.0 L1346.7 1496.7 L1342.9 1502.5 L1337.2 1508.6 L1333.3 1513.3 L1326.6 1520.3 L1321.3 1525.4 L1316.7 1533.3 L1309.9 1536.7 L1303.3 1540.0 L1298.1 1544.1 L1293.4 1549.7 L1286.7 1553.3 L1279.0 1557.5 L1274.6 1564.2 L1266.7 1570.0 L1260.0 1575.8 L1256.1 1582.4 L1250.0 1590.0 L1244.1 1594.9 L1238.5 1599.3 L1233.3 1603.3 L1227.9 1607.5 L1220.4 1610.4 L1213.3 1613.3 L1206.1 1618.2 L1200.4 1622.5 L1193.3 1626.7 L1187.8 1631.8 L1181.4 1636.2 L1176.7 1640.0 L1173.0 1645.4 L1166.7 1653.3 L1169.3 1661.4 L1173.3 1666.7 L1167.2 1674.2 L1163.3 1680.0 L1155.2 1682.1 L1146.7 1686.7 L1140.4 1688.6 L1134.3 1692.8 L1126.7 1696.7 L1117.9 1698.6 L1106.7 1698.3 L1095.6 1700.6 L1086.7 1703.3 L1082.4 1712.4 L1080.0 1720.0 L1075.5 1727.1 L1073.3 1736.7 L1067.3 1742.7 L1063.3 1746.7 L1050.0 1745.0 L1040.0 1736.7 L1031.0 1737.8 L1023.3 1740.0 L1016.5 1745.1 L1010.0 1750.0 L1004.8 1759.6 L1000.0 1766.7 L996.8 1773.3 L995.5 1779.3 L991.7 1786.7 L989.9 1797.6 L990.0 1806.7 L991.2 1815.5 L994.2 1821.9 L995.0 1830.0 L997.0 1838.9 L1000.0 1850.0 L1000.2 1858.2 L998.3 1866.7 L997.1 1872.9 L996.7 1881.0 L998.3 1880.0 L1000.3 1887.7 L1002.9 1893.5 L1006.7 1900.0 L1009.8 1908.9 L1012.2 1917.5 L1015.0 1926.7 L1014.1 1935.9 L1015.0 1943.3 L1014.4 1951.3 L1011.0 1960.0 L1010.0 1966.7 L1008.3 1975.7 L1008.3 1986.7 L1004.5 1995.9 L1000.0 2003.3 L995.8 2007.8 L992.5 2013.5 L986.7 2020.0 L981.8 2026.9 L978.6 2031.8 L973.3 2036.7 L969.9 2045.4 L968.6 2050.9 L966.7 2060.0 L967.5 2070.1 L965.4 2077.6 L966.7 2086.7 L970.0 2092.9 L970.6 2100.8 L973.3 2106.7 L974.0 2118.1 L975.0 2126.7 L976.8 2137.7 L976.7 2146.7 L977.7 2153.3 L978.0 2161.9 L977.9 2169.4 L978.3 2176.7 L970.3 2177.5 L963.3 2180.0 L954.5 2180.5 L943.3 2181.7 L935.6 2187.2 L930.0 2190.0 L926.7 2197.2 L923.3 2203.3 L917.9 2209.0 L913.3 2216.7 L907.9 2224.3 L903.3 2230.0 L900.2 2237.8 L898.3 2243.3 L905.0 2255.0 L916.7 2260.0 L930.0 2256.7 L935.0 2263.3 L940.2 2267.6 L946.7 2273.3 L940.6 2267.3 L936.7 2263.0 L931.7 2258.3 L924.5 2259.2 L916.7 2261.2 L910.0 2263.3 L903.3 2263.8 L894.2 2267.7 L886.7 2268.3 L876.9 2269.3 L866.7 2271.7 L859.7 2273.9 L850.0 2278.3 L843.3 2290.0 L840.7 2297.0 L840.0 2306.7 L838.2 2316.0 L836.7 2323.3 L830.0 2333.3 L821.1 2336.1 L813.3 2340.0 L807.5 2342.2 L800.0 2346.7 L790.0 2353.3 L780.3 2353.0 L773.3 2351.7 L765.5 2347.6 L760.0 2343.3 L753.4 2338.1 L749.9 2332.1 L743.3 2326.7 L738.3 2321.5 L735.0 2314.3 L730.0 2310.0 L724.8 2304.1 L721.1 2298.3 L716.7 2293.3 L713.8 2286.0 L711.1 2279.6 L706.7 2273.3 L702.6 2264.4 L699.0 2257.0 L696.7 2250.0 L695.2 2239.8 L691.7 2230.0 L689.8 2223.5 L689.6 2215.2 L686.7 2206.7 L683.7 2198.4 L682.2 2190.4 L680.0 2183.3 L677.3 2174.8 L674.8 2168.5 L673.3 2160.0 L670.3 2152.1 L666.6 2144.8 L663.3 2136.7 L661.6 2127.6 L659.9 2121.0 L656.7 2113.3 L652.9 2108.0 L650.7 2099.6 L646.7 2093.3 L642.0 2086.5 L639.8 2079.6 L636.7 2073.3 L630.5 2065.2 L626.7 2056.7 L621.5 2051.8 L617.9 2045.0 L613.3 2040.0 L610.9 2033.2 L605.5 2026.1 L603.3 2020.0 L598.7 2013.1 L597.8 2007.9 L593.3 2000.0 L590.4 1992.4 L585.9 1985.8 L583.3 1980.0 L580.2 1973.7 L576.4 1966.6 L575.0 1960.0 L572.0 1952.7 L570.4 1944.2 L566.7 1936.7 L565.3 1928.3 L563.2 1921.5 L561.7 1913.3 L557.6 1905.6 L556.1 1896.9 L553.3 1890.0 L550.4 1884.2 L548.5 1875.8 L546.7 1870.0 L540.0 1860.0 L542.7 1867.1 L546.4 1873.6 L550.0 1881.0 L546.2 1871.4 L543.3 1863.3 L541.1 1855.8 L537.7 1848.0 L536.7 1840.0 L531.1 1833.0 L526.7 1823.3 L522.9 1815.6 L516.7 1810.0 L513.9 1802.9 L510.0 1796.7 L504.7 1791.1 L501.7 1783.3 L500.3 1775.8 L496.7 1766.7 L493.7 1759.7 L490.0 1750.0 L486.8 1743.8 L483.3 1736.7 L478.8 1731.0 L473.3 1723.3 L471.0 1714.5 L466.7 1706.7 L462.5 1698.5 L460.0 1690.0 L458.6 1681.3 L456.7 1673.3 L456.0 1666.0 L453.3 1656.7 L452.2 1648.4 L450.0 1640.0 L448.9 1630.8 L446.7 1623.3 L445.0 1614.0 L441.7 1606.7 L441.1 1598.7 L438.3 1590.0 L435.2 1580.8 L433.3 1573.3 L431.1 1564.9 L428.3 1556.7 L426.4 1547.2 L423.3 1540.0 L422.7 1531.5 L420.0 1523.3 L418.2 1515.7 L416.7 1506.7 L415.3 1498.2 L413.3 1490.0 L411.9 1481.6 L411.7 1473.3 L409.5 1464.3 L410.0 1456.7 L409.2 1447.3 L406.7 1440.0 L403.8 1432.6 L403.3 1423.3 L403.0 1415.1 L403.3 1406.7 L406.1 1398.9 L408.3 1390.0 L412.0 1382.4 L416.7 1373.3 L418.3 1360.0 L416.7 1346.7 L413.3 1340.0 L413.3 1340.0 L407.8 1332.6 L405.0 1323.3 L401.1 1315.4 L398.3 1306.7 L397.0 1299.0 L396.7 1290.0 L403.0 1285.3 L410.0 1280.0 L413.3 1270.0 L402.8 1269.3 L393.3 1266.7 L390.0 1253.3 L393.3 1243.3 L390.8 1235.8 L386.7 1230.0 L393.3 1225.0 L404.1 1227.9 L413.3 1228.3 L404.8 1226.9 L399.0 1228.5 L390.0 1226.7 L381.7 1218.3 L378.1 1228.3 L376.7 1236.7 L374.5 1242.7 L370.0 1250.0 L372.5 1257.8 L373.3 1266.7 L375.0 1275.0 L375.0 1283.3 L370.8 1288.9 L366.7 1296.7 L360.0 1306.7 L353.8 1312.2 L346.7 1316.7 L339.4 1317.6 L332.2 1320.4 L326.7 1323.3 L320.3 1326.8 L312.2 1329.6 L303.3 1331.7 L294.0 1337.2 L286.7 1343.3 L281.3 1346.5 L274.7 1348.7 L266.7 1350.0 L257.3 1349.1 L246.7 1346.7 L241.2 1343.1 L232.0 1339.5 L226.7 1336.7 L218.6 1331.6 L213.6 1327.1 L206.7 1323.3 L200.4 1316.6 L195.2 1312.3 L190.0 1306.7 L184.7 1301.2 L177.7 1292.6 L173.3 1286.7 L166.6 1282.3 L162.6 1276.0 L156.7 1270.0 L152.0 1263.1 L146.7 1258.4 L140.0 1253.3 L134.8 1247.5 L129.6 1241.7 L123.3 1236.7 L116.0 1229.3 L110.0 1223.3 L116.7 1211.7 L126.7 1218.3 L135.6 1217.4 L143.3 1216.7 L150.7 1213.8 L160.0 1211.7 L166.9 1209.1 L173.6 1208.2 L180.0 1205.0 L190.4 1203.3 L200.0 1200.0 L203.9 1195.5 L210.1 1189.0 L213.3 1183.3 L217.0 1173.8 L223.3 1166.7 L233.3 1158.3 L225.7 1162.7 L216.7 1165.0 L212.3 1170.9 L206.7 1176.7 L198.4 1177.3 L190.0 1180.0 L183.6 1184.7 L175.8 1187.0 L170.0 1190.0 L161.0 1188.8 L150.0 1186.7 L142.9 1183.7 L137.3 1183.4 L130.0 1180.0 L124.4 1176.4 L117.4 1174.2 L110.0 1170.0 L103.0 1166.3 L96.3 1160.3 L90.0 1156.7 L83.0 1152.9 L79.6 1146.5 L73.3 1143.3 L67.1 1137.8 L63.3 1133.3 L64.2 1125.6 L66.7 1116.7 L58.0 1118.0 L51.3 1118.5 L43.3 1120.0 L46.5 1113.2 L47.8 1107.1 L50.0 1100.0 L60.0 1091.7 L69.7 1091.6 L80.0 1093.3 L89.6 1094.0 L96.7 1093.3Z" fill="none" stroke="#000" stroke-width="7.2" stroke-linejoin="round" stroke-linecap="round"/>
<path d="M2018.9 1907.8 L2028.1 1917.0 L2026.3 1939.3 L2018.9 1965.2 L2017.0 1998.5 L2009.6 2020.7 L2002.2 2039.3 L2004.1 2065.2 L1998.5 2087.4 L1998.5 2105.9 L1993.0 2109.6 L1983.7 2094.8 L1980.0 2072.6 L1978.1 2050.4 L1987.4 2028.1 L1991.1 2002.2 L1989.3 1968.9 L1998.5 1954.1 L2002.2 1928.1 L2007.8 1913.3Z" fill="#000" stroke="#000" stroke-width="6" stroke-linejoin="round"/>
<path d="M2022.6 2015.2 L2030.0 2028.1 L2026.3 2043.0 L2028.1 2059.6 L2022.6 2063.3 L2015.2 2050.4 L2011.5 2039.3 L2017.0 2028.1Z" fill="#000" stroke="#000" stroke-width="6" stroke-linejoin="round"/>
<path d="M1974.4 2131.9 L1983.7 2133.7 L1991.1 2122.6 L1993.0 2124.4 L1987.4 2135.6 L1989.3 2150.4 L1981.9 2163.3 L1970.7 2161.5 L1967.0 2146.7Z" fill="#000" stroke="#000" stroke-width="6" stroke-linejoin="round"/>
<path d="M2054.1 2341.1 L2065.2 2346.7 L2067.0 2361.5 L2057.8 2372.6 L2043.0 2370.7 L2041.1 2359.6 L2050.4 2354.1Z" fill="#000" stroke="#000" stroke-width="6" stroke-linejoin="round"/>
<path d="M2068.9 2402.2 L2081.9 2413.3 L2091.1 2428.1 L2094.8 2443.0 L2087.4 2457.8 L2080.0 2459.6 L2070.7 2446.7 L2065.2 2424.4 L2065.2 2409.6Z" fill="#000" stroke="#000" stroke-width="6" stroke-linejoin="round"/>
<path d="M2026.3 2333.7 L2031.9 2339.3 L2037.4 2337.4 L2039.3 2343.0 L2031.9 2347.4 L2024.4 2343.0Z" fill="#000" stroke="#000" stroke-width="6" stroke-linejoin="round"/>
<path d="M2064.1 2311.5 L2068.9 2311.5 L2070.7 2331.9 L2067.0 2332.6Z" fill="#000" stroke="#000" stroke-width="6" stroke-linejoin="round"/>
<ellipse cx="2118.9" cy="1927.4" rx="5.2" ry="5.2" transform="rotate(0 2118.9 1927.4)" fill="#000"/>
<ellipse cx="2086.3" cy="2020.7" rx="5.6" ry="5.6" transform="rotate(0 2086.3 2020.7)" fill="#000"/>
<ellipse cx="1957.8" cy="2078.1" rx="7.0" ry="7.0" transform="rotate(0 1957.8 2078.1)" fill="#000"/>
<ellipse cx="1956.7" cy="2124.4" rx="4.4" ry="4.4" transform="rotate(0 1956.7 2124.4)" fill="#000"/>
<ellipse cx="2000.4" cy="2267.0" rx="8.1" ry="8.1" transform="rotate(0 2000.4 2267.0)" fill="#000"/>
<ellipse cx="2007.0" cy="2294.8" rx="4.8" ry="4.8" transform="rotate(0 2007.0 2294.8)" fill="#000"/>
<ellipse cx="2021.9" cy="2324.4" rx="4.8" ry="4.8" transform="rotate(0 2021.9 2324.4)" fill="#000"/>
<ellipse cx="2059.6" cy="2398.5" rx="4.4" ry="4.4" transform="rotate(0 2059.6 2398.5)" fill="#000"/>
<ellipse cx="962.7" cy="2048.3" rx="10.0" ry="10.7" transform="rotate(0 962.7 2048.3)" fill="#000"/>
<ellipse cx="967.3" cy="2126.7" rx="5.7" ry="8.7" transform="rotate(0 967.3 2126.7)" fill="#000"/>
<ellipse cx="363.8" cy="2078.3" rx="5.4" ry="7.8" transform="rotate(10 363.8 2078.3)" fill="#000"/>
<ellipse cx="407.0" cy="2066.5" rx="3.6" ry="3.9" transform="rotate(0 407.0 2066.5)" fill="#000"/>
<ellipse cx="429.9" cy="2082.8" rx="3.9" ry="4.5" transform="rotate(0 429.9 2082.8)" fill="#000"/>
<ellipse cx="410.6" cy="2107.0" rx="3.0" ry="8.5" transform="rotate(20 410.6 2107.0)" fill="#000"/>
<ellipse cx="375.3" cy="2126.0" rx="5.1" ry="3.3" transform="rotate(-25 375.3 2126.0)" fill="#000"/>
<ellipse cx="364.7" cy="2135.1" rx="3.3" ry="6.3" transform="rotate(25 364.7 2135.1)" fill="#000"/>
<ellipse cx="400.3" cy="2156.8" rx="4.8" ry="5.1" transform="rotate(30 400.3 2156.8)" fill="#000"/>
<ellipse cx="513.2" cy="2099.4" rx="10.3" ry="7.8" transform="rotate(35 513.2 2099.4)" fill="#000"/>
<ellipse cx="483.9" cy="2137.2" rx="4.5" ry="3.6" transform="rotate(0 483.9 2137.2)" fill="#000"/>
<ellipse cx="373.2" cy="2195.4" rx="6.0" ry="9.1" transform="rotate(30 373.2 2195.4)" fill="#000"/>
<ellipse cx="480.6" cy="2192.7" rx="4.2" ry="6.9" transform="rotate(15 480.6 2192.7)" fill="#000"/>
<ellipse cx="433.5" cy="2337.3" rx="5.7" ry="5.4" transform="rotate(30 433.5 2337.3)" fill="#000"/>
<ellipse cx="535.3" cy="1883.0" rx="2.7" ry="2.7" transform="rotate(0 535.3 1883.0)" fill="#000"/>
<!-- north arrow -->
<text class="a" x="2602.2" y="128.3" font-size="52" text-anchor="middle">N</text>
<polygon points="2601.2,141 2565.2,263.5 2601.2,218" fill="#000" stroke="#000" stroke-width="1"/>
<polygon points="2601.2,146 2636,260 2601.2,216.5" fill="#fff" stroke="#000" stroke-width="2.6" stroke-linejoin="miter"/>
<!-- title -->
<text class="t" x="2626" y="356" text-anchor="middle">Two Days Cumulative Rainfall</text>
<text class="t" x="2625.5" y="431" text-anchor="middle">05.10.2025 to 06.10.2025</text>
<!-- legend -->
<text class="a" x="2401" y="1670.6" font-size="65.3" font-weight="bold">Legend</text>
<defs><pattern id="lh" width="8.9" height="8.9" patternUnits="userSpaceOnUse" patternTransform="rotate(-45 2403 1707)"><rect x="0" y="0" width="8.9" height="2.7" fill="#6e6e6e"/></pattern></defs>
<rect x="2403.5" y="1707.5" width="88" height="88" fill="url(#lh)" stroke="#6e6e6e" stroke-width="1.5"/>
<text class="a" x="2530.5" y="1775" font-size="42">Aicrpda Domain Districts</text>
<text class="a" x="2400.7" y="1842" font-size="42" font-weight="bold">Rainfall Intensity Categorization</text>
<rect x="2398" y="1867" width="100" height="99" fill="#e1e1e1"/>
<rect x="2398" y="1966" width="100" height="100" fill="#fafa64"/>
<rect x="2398" y="2066" width="100" height="100" fill="#cfde85"/>
<rect x="2398" y="2166" width="100" height="96" fill="#a1c29d"/>
<rect x="2398" y="2262" width="100" height="97" fill="#6fa8b0"/>
<rect x="2398" y="2359" width="100" height="99.5" fill="#2a8fc7"/>
<text class="a" x="2526.5" y="1943" font-size="42">No rain to Light rain (0 to 7.5mm)</text>
<text class="a" x="2526.5" y="2042.3" font-size="42">Moderate Rain (7.6 to 35.5 mm)</text>
<text class="a" x="2526.5" y="2141.6" font-size="42">Rather Heavy (35.6 to 64.4 mm)</text>
<text class="a" x="2526.5" y="2237.7" font-size="42">Heavy rain (64.5 to 124.4 mm )</text>
<text class="a" x="2526.5" y="2335.3" font-size="42">Very Heavy rain (124.5 to 244.4 )</text>
<text class="a" x="2526.5" y="2432.9" font-size="42" xml:space="preserve">Extremely Heavy rain  (&gt;= 244.5 mm)</text>
</svg>
</body></html>
